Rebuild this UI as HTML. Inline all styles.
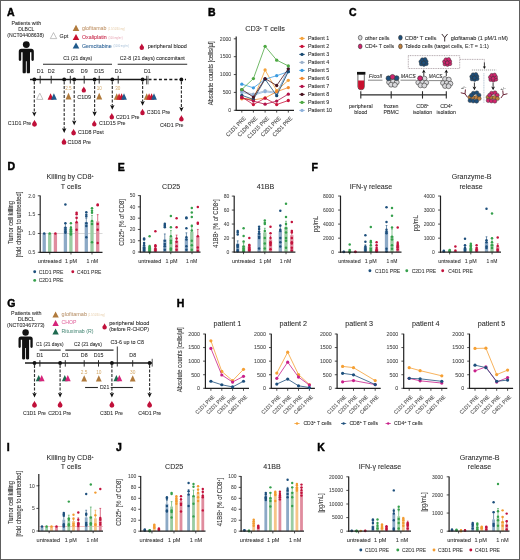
<!DOCTYPE html>
<html><head><meta charset="utf-8"><title>Figure</title>
<style>
html,body{margin:0;padding:0;background:#fff;}
body{width:520px;height:560px;overflow:hidden;}
svg{display:block;font-family:"Liberation Sans", sans-serif;will-change:transform;}
</style></head><body>
<svg width="520" height="560" viewBox="0 0 520 560">
<rect x="0" y="0" width="520" height="560" fill="#fff"/>
<text x="7.00" y="15.60" text-anchor="start" fill="#000" stroke="#000" stroke-width="0.45" style="font-size:10.50px;font-weight:bold;">A</text>
<text x="11.40" y="24.50" fill="#2b2b2b" stroke="#2b2b2b" stroke-width="0.08" style="font-size:5.76px;" textLength="29.70" lengthAdjust="spacingAndGlyphs">Patients with</text>
<text x="18.20" y="30.80" fill="#2b2b2b" stroke="#2b2b2b" stroke-width="0.08" style="font-size:5.49px;" textLength="16.10" lengthAdjust="spacingAndGlyphs">DLBCL</text>
<text x="7.30" y="37.10" fill="#2b2b2b" stroke="#2b2b2b" stroke-width="0.08" style="font-size:5.63px;" textLength="36.70" lengthAdjust="spacingAndGlyphs">(NCT04408638)</text>
<g transform="translate(26.30,44.60) scale(1.06)" fill="#111"><circle cx="0" cy="0" r="3.25"/><path d="M-7.1,6.4 Q-7.1,3.9 -4.6,3.9 L4.6,3.9 Q7.1,3.9 7.1,6.4 L7.1,14.3 Q7.1,15.4 5.95,15.4 Q4.8,15.4 4.8,14.3 L4.8,7.2 L3.5,7.2 L3.5,26.0 Q3.5,27.1 1.95,27.1 Q0.4,27.1 0.4,26.0 L0.4,15.6 L-0.4,15.6 L-0.4,26.0 Q-0.4,27.1 -1.95,27.1 Q-3.5,27.1 -3.5,26.0 L-3.5,7.2 L-4.8,7.2 L-4.8,14.3 Q-4.8,15.4 -5.95,15.4 Q-7.1,15.4 -7.1,14.3 Z"/></g>
<path d="M50.30,38.60 L53.50,32.60 L56.70,38.60 Z" fill="#fff" stroke="#999" stroke-width="0.6" stroke-linejoin="round"/>
<text x="59.60" y="37.50" text-anchor="start" fill="#2b2b2b" stroke="#2b2b2b" stroke-width="0.08" style="font-size:5.94px;" textLength="8.70" lengthAdjust="spacingAndGlyphs">Gpt</text>
<path d="M72.70,31.00 L76.00,24.80 L79.30,31.00 Z" fill="#b07a3c" stroke-linejoin="round"/>
<text x="82.00" y="29.90" text-anchor="start" fill="#c09468" stroke="#c09468" stroke-width="0.05" style="font-size:5.83px;" textLength="24.45" lengthAdjust="spacingAndGlyphs">glofitamab</text>
<text x="108.00" y="29.50" text-anchor="start" fill="#e6cca8" style="font-size:2.86px;" textLength="16.91" lengthAdjust="spacingAndGlyphs">(2.5/10/30 mg)</text>
<path d="M72.70,40.10 L76.00,33.90 L79.30,40.10 Z" fill="#c8102e" stroke-linejoin="round"/>
<text x="82.00" y="39.10" text-anchor="start" fill="#c8284a" stroke="#c8284a" stroke-width="0.07" style="font-size:5.83px;" textLength="24.75" lengthAdjust="spacingAndGlyphs">Oxaliplatin</text>
<text x="108.50" y="38.70" text-anchor="start" fill="#e6a0b0" style="font-size:2.86px;" textLength="14.16" lengthAdjust="spacingAndGlyphs">(100 mg/m²)</text>
<path d="M72.70,48.60 L76.00,42.40 L79.30,48.60 Z" fill="#1f5a8c" stroke-linejoin="round"/>
<text x="82.00" y="47.60" text-anchor="start" fill="#2c6296" stroke="#2c6296" stroke-width="0.07" style="font-size:5.83px;" textLength="29.75" lengthAdjust="spacingAndGlyphs">Gemcitabine</text>
<text x="113.50" y="47.20" text-anchor="start" fill="#a8c0d8" style="font-size:2.86px;" textLength="15.60" lengthAdjust="spacingAndGlyphs">(1000 mg/m²)</text>
<path d="M141.80,43.60 C142.20,45.20 144.04,46.29 144.04,47.76 A2.24,2.24 0 0 1 139.56,47.76 C139.56,46.29 141.40,45.20 141.80,43.60 Z" fill="#c0103a"/>
<text x="147.70" y="48.00" fill="#2b2b2b" stroke="#2b2b2b" stroke-width="0.08" style="font-size:6.00px;" textLength="39.10" lengthAdjust="spacingAndGlyphs">peripheral blood</text>
<text x="63.20" y="60.40" fill="#2b2b2b" stroke="#2b2b2b" stroke-width="0.08" style="font-size:5.57px;" textLength="29.00" lengthAdjust="spacingAndGlyphs">C1 (21 days)</text>
<line x1="43.00" y1="64.30" x2="112.00" y2="64.30" stroke="#2a2a2a" stroke-width="1.05" stroke-linecap="butt"/>
<text x="119.80" y="60.40" fill="#2b2b2b" stroke="#2b2b2b" stroke-width="0.08" style="font-size:5.82px;" textLength="65.00" lengthAdjust="spacingAndGlyphs">C2-8 (21 days) concomitant</text>
<line x1="117.70" y1="64.30" x2="187.20" y2="64.30" stroke="#2a2a2a" stroke-width="1.05" stroke-linecap="butt"/>
<text x="40.20" y="72.50" text-anchor="middle" fill="#333" stroke="#333" stroke-width="0.1" style="font-size:5.83px;" textLength="6.78" lengthAdjust="spacingAndGlyphs">D1</text>
<text x="51.20" y="72.50" text-anchor="middle" fill="#333" stroke="#333" stroke-width="0.1" style="font-size:5.83px;" textLength="6.78" lengthAdjust="spacingAndGlyphs">D2</text>
<text x="70.30" y="72.50" text-anchor="middle" fill="#333" stroke="#333" stroke-width="0.1" style="font-size:5.83px;" textLength="6.78" lengthAdjust="spacingAndGlyphs">D8</text>
<text x="84.20" y="72.50" text-anchor="middle" fill="#333" stroke="#333" stroke-width="0.1" style="font-size:5.83px;" textLength="6.78" lengthAdjust="spacingAndGlyphs">D9</text>
<text x="99.20" y="72.50" text-anchor="middle" fill="#333" stroke="#333" stroke-width="0.1" style="font-size:5.83px;" textLength="9.72" lengthAdjust="spacingAndGlyphs">D15</text>
<text x="118.20" y="72.50" text-anchor="middle" fill="#333" stroke="#333" stroke-width="0.1" style="font-size:5.83px;" textLength="6.78" lengthAdjust="spacingAndGlyphs">D1</text>
<text x="147.40" y="72.50" text-anchor="middle" fill="#333" stroke="#333" stroke-width="0.1" style="font-size:5.83px;" textLength="6.78" lengthAdjust="spacingAndGlyphs">D1</text>
<line x1="30.00" y1="79.50" x2="147.50" y2="79.50" stroke="#1a1a1a" stroke-width="1.3" stroke-linecap="butt"/>
<line x1="148.50" y1="79.50" x2="186.00" y2="79.50" stroke="#1a1a1a" stroke-width="1.3" stroke-dasharray="3,2.2" stroke-linecap="butt"/>
<line x1="40.20" y1="75.80" x2="40.20" y2="83.60" stroke="#222" stroke-width="0.95" stroke-linecap="butt"/>
<line x1="51.20" y1="75.80" x2="51.20" y2="83.60" stroke="#222" stroke-width="0.95" stroke-linecap="butt"/>
<line x1="70.30" y1="75.80" x2="70.30" y2="83.60" stroke="#222" stroke-width="0.95" stroke-linecap="butt"/>
<line x1="84.20" y1="75.80" x2="84.20" y2="83.60" stroke="#222" stroke-width="0.95" stroke-linecap="butt"/>
<line x1="99.20" y1="75.80" x2="99.20" y2="83.60" stroke="#222" stroke-width="0.95" stroke-linecap="butt"/>
<line x1="118.20" y1="75.80" x2="118.20" y2="83.60" stroke="#222" stroke-width="0.95" stroke-linecap="butt"/>
<line x1="146.50" y1="75.80" x2="146.50" y2="84.40" stroke="#222" stroke-width="0.7" stroke-linecap="butt"/>
<line x1="148.00" y1="75.80" x2="148.00" y2="84.40" stroke="#222" stroke-width="0.7" stroke-linecap="butt"/>
<circle cx="34.30" cy="79.50" r="1.9" fill="#111"/>
<circle cx="64.20" cy="79.50" r="1.9" fill="#111"/>
<circle cx="74.20" cy="79.50" r="1.9" fill="#111"/>
<circle cx="94.60" cy="79.50" r="1.9" fill="#111"/>
<circle cx="112.30" cy="79.50" r="1.9" fill="#111"/>
<circle cx="142.60" cy="79.50" r="1.9" fill="#111"/>
<circle cx="181.40" cy="79.50" r="1.9" fill="#111"/>
<path d="M36.70,99.40 L39.80,93.20 L42.90,99.40 Z" fill="#fff" stroke="#9a9a9a" stroke-width="0.6" stroke-linejoin="round"/>
<path d="M47.60,99.70 L50.60,93.30 L53.60,99.70 Z" fill="#c8102e" stroke-linejoin="round"/>
<path d="M50.90,99.70 L53.90,93.30 L56.90,99.70 Z" fill="#1f5a8c" stroke-linejoin="round"/>
<text x="68.50" y="90.20" text-anchor="middle" fill="#d4a868" style="font-size:5.06px;" textLength="6.39" lengthAdjust="spacingAndGlyphs">2.5</text>
<path d="M65.50,99.40 L68.50,92.80 L71.50,99.40 Z" fill="#b07a3c" stroke-linejoin="round"/>
<text x="99.20" y="90.20" text-anchor="middle" fill="#d4a868" style="font-size:5.06px;" textLength="5.12" lengthAdjust="spacingAndGlyphs">10</text>
<path d="M96.20,99.40 L99.20,92.80 L102.20,99.40 Z" fill="#b07a3c" stroke-linejoin="round"/>
<text x="117.70" y="90.20" text-anchor="middle" fill="#d4a868" style="font-size:5.06px;" textLength="5.12" lengthAdjust="spacingAndGlyphs">30</text>
<path d="M113.80,99.70 L116.70,93.30 L119.60,99.70 Z" fill="#b07a3c" stroke-linejoin="round"/>
<path d="M116.20,99.70 L119.10,93.30 L122.00,99.70 Z" fill="#d2282e" stroke-linejoin="round"/>
<path d="M118.70,99.70 L121.60,93.30 L124.50,99.70 Z" fill="#c8102e" stroke-linejoin="round"/>
<path d="M121.10,99.70 L124.00,93.30 L126.90,99.70 Z" fill="#1f5a8c" stroke-linejoin="round"/>
<path d="M143.80,99.70 L146.70,93.30 L149.60,99.70 Z" fill="#b07a3c" stroke-linejoin="round"/>
<path d="M146.20,99.70 L149.10,93.30 L152.00,99.70 Z" fill="#d2282e" stroke-linejoin="round"/>
<path d="M148.70,99.70 L151.60,93.30 L154.50,99.70 Z" fill="#c8102e" stroke-linejoin="round"/>
<path d="M151.10,99.70 L154.00,93.30 L156.90,99.70 Z" fill="#1f5a8c" stroke-linejoin="round"/>
<path d="M83.80,86.40 C84.20,87.95 85.97,89.00 85.97,90.43 A2.17,2.17 0 0 1 81.63,90.43 C81.63,89.00 83.40,87.95 83.80,86.40 Z" fill="#c0103a"/>
<text x="84.20" y="98.80" text-anchor="middle" fill="#2b2b2b" stroke="#2b2b2b" stroke-width="0.08" style="font-size:5.94px;" textLength="13.81" lengthAdjust="spacingAndGlyphs">C1D9</text>
<line x1="34.30" y1="81.50" x2="34.30" y2="112.60" stroke="#333" stroke-width="1.15" stroke-dasharray="2.9,1.6" stroke-linecap="butt"/>
<path d="M32.10,111.80 L34.30,112.70 L36.50,111.80 L34.30,116.60 Z" fill="#111"/>
<path d="M34.50,119.80 C34.90,121.55 36.95,122.74 36.95,124.35 A2.45,2.45 0 0 1 32.05,124.35 C32.05,122.74 34.10,121.55 34.50,119.80 Z" fill="#c0103a"/>
<text x="7.80" y="125.00" text-anchor="start" fill="#2b2b2b" stroke="#2b2b2b" stroke-width="0.08" style="font-size:5.88px;" textLength="23.49" lengthAdjust="spacingAndGlyphs">C1D1 Pre</text>
<line x1="64.20" y1="81.50" x2="64.20" y2="129.00" stroke="#333" stroke-width="1.15" stroke-dasharray="2.9,1.6" stroke-linecap="butt"/>
<path d="M62.00,128.20 L64.20,129.10 L66.40,128.20 L64.20,133.00 Z" fill="#111"/>
<path d="M64.00,138.00 C64.40,139.70 66.38,140.86 66.38,142.42 A2.38,2.38 0 0 1 61.62,142.42 C61.62,140.86 63.60,139.70 64.00,138.00 Z" fill="#c0103a"/>
<text x="67.50" y="143.80" text-anchor="start" fill="#2b2b2b" stroke="#2b2b2b" stroke-width="0.08" style="font-size:5.88px;" textLength="23.49" lengthAdjust="spacingAndGlyphs">C1D8 Pre</text>
<line x1="74.20" y1="81.50" x2="74.20" y2="121.30" stroke="#333" stroke-width="1.15" stroke-dasharray="2.9,1.6" stroke-linecap="butt"/>
<path d="M72.00,120.50 L74.20,121.40 L76.40,120.50 L74.20,125.30 Z" fill="#111"/>
<path d="M73.60,128.70 C74.00,130.40 75.98,131.56 75.98,133.12 A2.38,2.38 0 0 1 71.22,133.12 C71.22,131.56 73.20,130.40 73.60,128.70 Z" fill="#c0103a"/>
<text x="77.90" y="134.40" text-anchor="start" fill="#2b2b2b" stroke="#2b2b2b" stroke-width="0.08" style="font-size:5.88px;" textLength="25.87" lengthAdjust="spacingAndGlyphs">C1D8 Post</text>
<line x1="94.60" y1="81.50" x2="94.60" y2="112.20" stroke="#333" stroke-width="1.15" stroke-dasharray="2.9,1.6" stroke-linecap="butt"/>
<path d="M92.40,111.40 L94.60,112.30 L96.80,111.40 L94.60,116.20 Z" fill="#111"/>
<path d="M94.30,120.20 C94.70,121.80 96.54,122.89 96.54,124.36 A2.24,2.24 0 0 1 92.06,124.36 C92.06,122.89 93.90,121.80 94.30,120.20 Z" fill="#c0103a"/>
<text x="99.10" y="125.40" text-anchor="start" fill="#2b2b2b" stroke="#2b2b2b" stroke-width="0.08" style="font-size:5.88px;" textLength="26.47" lengthAdjust="spacingAndGlyphs">C1D15 Pre</text>
<line x1="112.30" y1="81.50" x2="112.30" y2="105.80" stroke="#333" stroke-width="1.15" stroke-dasharray="2.9,1.6" stroke-linecap="butt"/>
<path d="M110.10,105.00 L112.30,105.90 L114.50,105.00 L112.30,109.80 Z" fill="#111"/>
<path d="M111.80,113.00 C112.20,114.60 114.04,115.69 114.04,117.16 A2.24,2.24 0 0 1 109.56,117.16 C109.56,115.69 111.40,114.60 111.80,113.00 Z" fill="#c0103a"/>
<text x="116.00" y="118.60" text-anchor="start" fill="#2b2b2b" stroke="#2b2b2b" stroke-width="0.08" style="font-size:5.88px;" textLength="23.49" lengthAdjust="spacingAndGlyphs">C2D1 Pre</text>
<line x1="142.60" y1="81.50" x2="142.60" y2="101.80" stroke="#333" stroke-width="1.15" stroke-dasharray="2.9,1.6" stroke-linecap="butt"/>
<path d="M140.40,101.00 L142.60,101.90 L144.80,101.00 L142.60,105.80 Z" fill="#111"/>
<path d="M142.50,108.80 C142.90,110.40 144.74,111.49 144.74,112.96 A2.24,2.24 0 0 1 140.26,112.96 C140.26,111.49 142.10,110.40 142.50,108.80 Z" fill="#c0103a"/>
<text x="146.80" y="114.10" text-anchor="start" fill="#2b2b2b" stroke="#2b2b2b" stroke-width="0.08" style="font-size:5.88px;" textLength="23.49" lengthAdjust="spacingAndGlyphs">C3D1 Pre</text>
<line x1="181.40" y1="81.50" x2="181.40" y2="107.80" stroke="#333" stroke-width="1.15" stroke-dasharray="2.9,1.6" stroke-linecap="butt"/>
<path d="M179.20,107.00 L181.40,107.90 L183.60,107.00 L181.40,111.80 Z" fill="#111"/>
<path d="M181.40,115.00 C181.80,116.65 183.71,117.77 183.71,119.29 A2.31,2.31 0 0 1 179.09,119.29 C179.09,117.77 181.00,116.65 181.40,115.00 Z" fill="#c0103a"/>
<text x="160.00" y="126.90" text-anchor="start" fill="#2b2b2b" stroke="#2b2b2b" stroke-width="0.08" style="font-size:5.88px;" textLength="23.49" lengthAdjust="spacingAndGlyphs">C4D1 Pre</text>
<text x="207.90" y="16.40" text-anchor="start" fill="#000" stroke="#000" stroke-width="0.45" style="font-size:10.50px;font-weight:bold;">B</text>
<text x="265.00" y="30.60" text-anchor="middle" fill="#2b2b2b" stroke="#2b2b2b" stroke-width="0.08" style="font-size:8.03px;" textLength="39.68" lengthAdjust="spacingAndGlyphs">CD3<tspan dy="-2.0" style="font-size:3.8px">+</tspan><tspan dy="2.0">​</tspan> T cells</text>
<line x1="236.20" y1="36.50" x2="236.20" y2="110.90" stroke="#222" stroke-width="1.2" stroke-linecap="butt"/>
<line x1="235.60" y1="110.30" x2="294.00" y2="110.30" stroke="#222" stroke-width="1.25" stroke-linecap="butt"/>
<line x1="233.80" y1="110.30" x2="236.00" y2="110.30" stroke="#222" stroke-width="0.8" stroke-linecap="butt"/>
<text x="231.20" y="112.10" text-anchor="end" fill="#4a4a4a" stroke="#4a4a4a" stroke-width="0.08" style="font-size:5.61px;" textLength="2.84" lengthAdjust="spacingAndGlyphs">0</text>
<line x1="233.80" y1="92.42" x2="236.00" y2="92.42" stroke="#222" stroke-width="0.8" stroke-linecap="butt"/>
<text x="231.20" y="94.22" text-anchor="end" fill="#4a4a4a" stroke="#4a4a4a" stroke-width="0.08" style="font-size:5.61px;" textLength="8.51" lengthAdjust="spacingAndGlyphs">500</text>
<line x1="233.80" y1="74.55" x2="236.00" y2="74.55" stroke="#222" stroke-width="0.8" stroke-linecap="butt"/>
<text x="231.20" y="76.35" text-anchor="end" fill="#4a4a4a" stroke="#4a4a4a" stroke-width="0.08" style="font-size:5.61px;" textLength="11.35" lengthAdjust="spacingAndGlyphs">1000</text>
<line x1="233.80" y1="56.68" x2="236.00" y2="56.68" stroke="#222" stroke-width="0.8" stroke-linecap="butt"/>
<text x="231.20" y="58.48" text-anchor="end" fill="#4a4a4a" stroke="#4a4a4a" stroke-width="0.08" style="font-size:5.61px;" textLength="11.35" lengthAdjust="spacingAndGlyphs">1500</text>
<line x1="233.80" y1="38.80" x2="236.00" y2="38.80" stroke="#222" stroke-width="0.8" stroke-linecap="butt"/>
<text x="231.20" y="40.60" text-anchor="end" fill="#4a4a4a" stroke="#4a4a4a" stroke-width="0.08" style="font-size:5.61px;" textLength="11.35" lengthAdjust="spacingAndGlyphs">2000</text>
<line x1="241.80" y1="110.30" x2="241.80" y2="112.60" stroke="#222" stroke-width="0.8" stroke-linecap="butt"/>
<line x1="253.40" y1="110.30" x2="253.40" y2="112.60" stroke="#222" stroke-width="0.8" stroke-linecap="butt"/>
<line x1="265.10" y1="110.30" x2="265.10" y2="112.60" stroke="#222" stroke-width="0.8" stroke-linecap="butt"/>
<line x1="276.70" y1="110.30" x2="276.70" y2="112.60" stroke="#222" stroke-width="0.8" stroke-linecap="butt"/>
<line x1="288.30" y1="110.30" x2="288.30" y2="112.60" stroke="#222" stroke-width="0.8" stroke-linecap="butt"/>
<text x="246.20" y="118.90" text-anchor="end" fill="#505050" stroke="#505050" stroke-width="0.1" style="font-size:5.72px;" transform="rotate(-45 246.20 118.90)" textLength="25.43" lengthAdjust="spacingAndGlyphs">C1D1 PRE</text>
<text x="257.80" y="118.90" text-anchor="end" fill="#505050" stroke="#505050" stroke-width="0.1" style="font-size:5.72px;" transform="rotate(-45 257.80 118.90)" textLength="25.43" lengthAdjust="spacingAndGlyphs">C1D8 PRE</text>
<text x="269.50" y="118.90" text-anchor="end" fill="#505050" stroke="#505050" stroke-width="0.1" style="font-size:5.72px;" transform="rotate(-45 269.50 118.90)" textLength="28.32" lengthAdjust="spacingAndGlyphs">C1D15 PRE</text>
<text x="281.10" y="118.90" text-anchor="end" fill="#505050" stroke="#505050" stroke-width="0.1" style="font-size:5.72px;" transform="rotate(-45 281.10 118.90)" textLength="25.43" lengthAdjust="spacingAndGlyphs">C2D1 PRE</text>
<text x="292.70" y="118.90" text-anchor="end" fill="#505050" stroke="#505050" stroke-width="0.1" style="font-size:5.72px;" transform="rotate(-45 292.70 118.90)" textLength="25.43" lengthAdjust="spacingAndGlyphs">C3D1 PRE</text>
<text x="212.80" y="73.30" text-anchor="middle" fill="#333" stroke="#333" stroke-width="0.08" style="font-size:6.38px;" transform="rotate(-90 212.80 73.30)" textLength="63.95" lengthAdjust="spacingAndGlyphs">Absolute counts [cells/µl]</text>
<polyline points="241.80,91.28 253.40,94.14 265.10,90.71 276.70,92.42 288.30,71.08" fill="none" stroke="#9db2cc" stroke-width="0.8"/>
<circle cx="241.80" cy="91.28" r="1.65" fill="#9db2cc"/>
<circle cx="253.40" cy="94.14" r="1.65" fill="#9db2cc"/>
<circle cx="265.10" cy="90.71" r="1.65" fill="#9db2cc"/>
<circle cx="276.70" cy="92.42" r="1.65" fill="#9db2cc"/>
<circle cx="288.30" cy="71.08" r="1.65" fill="#9db2cc"/>
<polyline points="241.80,92.42 253.40,95.28 265.10,91.71 276.70,93.50 288.30,68.83" fill="none" stroke="#8fb2dc" stroke-width="0.8"/>
<circle cx="241.80" cy="92.42" r="1.65" fill="#8fb2dc"/>
<circle cx="253.40" cy="95.28" r="1.65" fill="#8fb2dc"/>
<circle cx="265.10" cy="91.71" r="1.65" fill="#8fb2dc"/>
<circle cx="276.70" cy="93.50" r="1.65" fill="#8fb2dc"/>
<circle cx="288.30" cy="68.83" r="1.65" fill="#8fb2dc"/>
<polyline points="241.80,98.18 253.40,99.22 265.10,69.94 276.70,90.71 288.30,80.31" fill="none" stroke="#f5a23a" stroke-width="0.8"/>
<circle cx="241.80" cy="98.18" r="1.65" fill="#f5a23a"/>
<circle cx="253.40" cy="99.22" r="1.65" fill="#f5a23a"/>
<circle cx="265.10" cy="69.94" r="1.65" fill="#f5a23a"/>
<circle cx="276.70" cy="90.71" r="1.65" fill="#f5a23a"/>
<circle cx="288.30" cy="80.31" r="1.65" fill="#f5a23a"/>
<polyline points="241.80,98.75 253.40,99.93 265.10,97.97 276.70,91.71 288.30,87.56" fill="none" stroke="#f28a2e" stroke-width="0.8"/>
<circle cx="241.80" cy="98.75" r="1.65" fill="#f28a2e"/>
<circle cx="253.40" cy="99.93" r="1.65" fill="#f28a2e"/>
<circle cx="265.10" cy="97.97" r="1.65" fill="#f28a2e"/>
<circle cx="276.70" cy="91.71" r="1.65" fill="#f28a2e"/>
<circle cx="288.30" cy="87.56" r="1.65" fill="#f28a2e"/>
<polyline points="241.80,84.13 253.40,87.81 265.10,79.16 276.70,75.69 288.30,71.65" fill="none" stroke="#3b9be0" stroke-width="0.8"/>
<circle cx="241.80" cy="84.13" r="1.65" fill="#3b9be0"/>
<circle cx="253.40" cy="87.81" r="1.65" fill="#3b9be0"/>
<circle cx="265.10" cy="79.16" r="1.65" fill="#3b9be0"/>
<circle cx="276.70" cy="75.69" r="1.65" fill="#3b9be0"/>
<circle cx="288.30" cy="71.65" r="1.65" fill="#3b9be0"/>
<polyline points="241.80,95.32 253.40,99.36 265.10,79.20 276.70,95.64 288.30,71.65" fill="none" stroke="#1a4b72" stroke-width="0.8"/>
<circle cx="241.80" cy="95.32" r="1.65" fill="#1a4b72"/>
<circle cx="253.40" cy="99.36" r="1.65" fill="#1a4b72"/>
<circle cx="265.10" cy="79.20" r="1.65" fill="#1a4b72"/>
<circle cx="276.70" cy="95.64" r="1.65" fill="#1a4b72"/>
<circle cx="288.30" cy="71.65" r="1.65" fill="#1a4b72"/>
<polyline points="241.80,89.53 253.40,97.04 265.10,78.59 276.70,85.49 288.30,68.79" fill="none" stroke="#4a1420" stroke-width="0.8"/>
<circle cx="241.80" cy="89.53" r="1.65" fill="#4a1420"/>
<circle cx="253.40" cy="97.04" r="1.65" fill="#4a1420"/>
<circle cx="265.10" cy="78.59" r="1.65" fill="#4a1420"/>
<circle cx="276.70" cy="85.49" r="1.65" fill="#4a1420"/>
<circle cx="288.30" cy="68.79" r="1.65" fill="#4a1420"/>
<polyline points="241.80,97.04 253.40,104.54 265.10,98.18 276.70,104.54 288.30,100.50" fill="none" stroke="#c8123a" stroke-width="0.8"/>
<circle cx="241.80" cy="97.04" r="1.65" fill="#c8123a"/>
<circle cx="253.40" cy="104.54" r="1.65" fill="#c8123a"/>
<circle cx="265.10" cy="98.18" r="1.65" fill="#c8123a"/>
<circle cx="276.70" cy="104.54" r="1.65" fill="#c8123a"/>
<circle cx="288.30" cy="100.50" r="1.65" fill="#c8123a"/>
<polyline points="241.80,97.72 253.40,101.08 265.10,104.19 276.70,101.08 288.30,94.14" fill="none" stroke="#b3124a" stroke-width="0.8"/>
<circle cx="241.80" cy="97.72" r="1.65" fill="#b3124a"/>
<circle cx="253.40" cy="101.08" r="1.65" fill="#b3124a"/>
<circle cx="265.10" cy="104.19" r="1.65" fill="#b3124a"/>
<circle cx="276.70" cy="101.08" r="1.65" fill="#b3124a"/>
<circle cx="288.30" cy="94.14" r="1.65" fill="#b3124a"/>
<polyline points="241.80,89.53 253.40,78.59 265.10,46.31 276.70,60.14 288.30,65.90" fill="none" stroke="#4ea843" stroke-width="0.8"/>
<circle cx="241.80" cy="89.53" r="1.65" fill="#4ea843"/>
<circle cx="253.40" cy="78.59" r="1.65" fill="#4ea843"/>
<circle cx="265.10" cy="46.31" r="1.65" fill="#4ea843"/>
<circle cx="276.70" cy="60.14" r="1.65" fill="#4ea843"/>
<circle cx="288.30" cy="65.90" r="1.65" fill="#4ea843"/>
<line x1="299.30" y1="38.40" x2="304.70" y2="38.40" stroke="#f5a23a" stroke-width="1.0" stroke-linecap="butt"/>
<circle cx="302.00" cy="38.40" r="1.6" fill="#f5a23a"/>
<text x="308.00" y="40.30" text-anchor="start" fill="#2b2b2b" stroke="#2b2b2b" stroke-width="0.08" style="font-size:5.88px;" textLength="21.12" lengthAdjust="spacingAndGlyphs">Patient 1</text>
<line x1="299.30" y1="46.40" x2="304.70" y2="46.40" stroke="#c8123a" stroke-width="1.0" stroke-linecap="butt"/>
<circle cx="302.00" cy="46.40" r="1.6" fill="#c8123a"/>
<text x="308.00" y="48.30" text-anchor="start" fill="#2b2b2b" stroke="#2b2b2b" stroke-width="0.08" style="font-size:5.88px;" textLength="21.12" lengthAdjust="spacingAndGlyphs">Patient 2</text>
<line x1="299.30" y1="54.40" x2="304.70" y2="54.40" stroke="#1a4b72" stroke-width="1.0" stroke-linecap="butt"/>
<circle cx="302.00" cy="54.40" r="1.6" fill="#1a4b72"/>
<text x="308.00" y="56.30" text-anchor="start" fill="#2b2b2b" stroke="#2b2b2b" stroke-width="0.08" style="font-size:5.88px;" textLength="21.12" lengthAdjust="spacingAndGlyphs">Patient 3</text>
<line x1="299.30" y1="62.40" x2="304.70" y2="62.40" stroke="#9db2cc" stroke-width="1.0" stroke-linecap="butt"/>
<circle cx="302.00" cy="62.40" r="1.6" fill="#9db2cc"/>
<text x="308.00" y="64.30" text-anchor="start" fill="#2b2b2b" stroke="#2b2b2b" stroke-width="0.08" style="font-size:5.88px;" textLength="21.12" lengthAdjust="spacingAndGlyphs">Patient 4</text>
<line x1="299.30" y1="70.40" x2="304.70" y2="70.40" stroke="#3b9be0" stroke-width="1.0" stroke-linecap="butt"/>
<circle cx="302.00" cy="70.40" r="1.6" fill="#3b9be0"/>
<text x="308.00" y="72.30" text-anchor="start" fill="#2b2b2b" stroke="#2b2b2b" stroke-width="0.08" style="font-size:5.88px;" textLength="21.12" lengthAdjust="spacingAndGlyphs">Patient 5</text>
<line x1="299.30" y1="78.40" x2="304.70" y2="78.40" stroke="#f28a2e" stroke-width="1.0" stroke-linecap="butt"/>
<circle cx="302.00" cy="78.40" r="1.6" fill="#f28a2e"/>
<text x="308.00" y="80.30" text-anchor="start" fill="#2b2b2b" stroke="#2b2b2b" stroke-width="0.08" style="font-size:5.88px;" textLength="21.12" lengthAdjust="spacingAndGlyphs">Patient 6</text>
<line x1="299.30" y1="86.40" x2="304.70" y2="86.40" stroke="#b3124a" stroke-width="1.0" stroke-linecap="butt"/>
<circle cx="302.00" cy="86.40" r="1.6" fill="#b3124a"/>
<text x="308.00" y="88.30" text-anchor="start" fill="#2b2b2b" stroke="#2b2b2b" stroke-width="0.08" style="font-size:5.88px;" textLength="21.12" lengthAdjust="spacingAndGlyphs">Patient 7</text>
<line x1="299.30" y1="94.40" x2="304.70" y2="94.40" stroke="#4a1420" stroke-width="1.0" stroke-linecap="butt"/>
<circle cx="302.00" cy="94.40" r="1.6" fill="#4a1420"/>
<text x="308.00" y="96.30" text-anchor="start" fill="#2b2b2b" stroke="#2b2b2b" stroke-width="0.08" style="font-size:5.88px;" textLength="21.12" lengthAdjust="spacingAndGlyphs">Patient 8</text>
<line x1="299.30" y1="102.40" x2="304.70" y2="102.40" stroke="#4ea843" stroke-width="1.0" stroke-linecap="butt"/>
<circle cx="302.00" cy="102.40" r="1.6" fill="#4ea843"/>
<text x="308.00" y="104.30" text-anchor="start" fill="#2b2b2b" stroke="#2b2b2b" stroke-width="0.08" style="font-size:5.88px;" textLength="21.12" lengthAdjust="spacingAndGlyphs">Patient 9</text>
<line x1="299.30" y1="110.40" x2="304.70" y2="110.40" stroke="#8fb2dc" stroke-width="1.0" stroke-linecap="butt"/>
<circle cx="302.00" cy="110.40" r="1.6" fill="#8fb2dc"/>
<text x="308.00" y="112.30" text-anchor="start" fill="#2b2b2b" stroke="#2b2b2b" stroke-width="0.08" style="font-size:5.88px;" textLength="24.09" lengthAdjust="spacingAndGlyphs">Patient 10</text>
<text x="349.00" y="16.40" text-anchor="start" fill="#000" stroke="#000" stroke-width="0.45" style="font-size:10.50px;font-weight:bold;">C</text>
<ellipse cx="360.2" cy="37.7" rx="1.85" ry="2.35" fill="#d9d9dc" stroke="#333" stroke-width="0.6"/>
<text x="364.90" y="39.60" fill="#2b2b2b" stroke="#2b2b2b" stroke-width="0.08" style="font-size:5.96px;" textLength="24.70" lengthAdjust="spacingAndGlyphs">other cells</text>
<ellipse cx="400.4" cy="37.7" rx="1.85" ry="2.35" fill="#1d4f7c" stroke="#333" stroke-width="0.6"/>
<text x="404.70" y="39.60" fill="#2b2b2b" stroke="#2b2b2b" stroke-width="0.08" style="font-size:5.83px;" textLength="31.80" lengthAdjust="spacingAndGlyphs">CD8<tspan dy="-1.6" style="font-size:3px">+</tspan><tspan dy="1.6"> T cells</tspan></text>
<ellipse cx="360.2" cy="46.4" rx="1.85" ry="2.35" fill="#d2246e" stroke="#333" stroke-width="0.6"/>
<text x="364.90" y="48.30" fill="#2b2b2b" stroke="#2b2b2b" stroke-width="0.08" style="font-size:5.83px;" textLength="29.40" lengthAdjust="spacingAndGlyphs">CD4<tspan dy="-1.6" style="font-size:3px">+</tspan><tspan dy="1.6"> T cells</tspan></text>
<ellipse cx="400.4" cy="46.4" rx="1.85" ry="2.35" fill="#c0803e" stroke="#333" stroke-width="0.6"/>
<text x="404.70" y="48.30" fill="#2b2b2b" stroke="#2b2b2b" stroke-width="0.08" style="font-size:5.92px;" textLength="84.10" lengthAdjust="spacingAndGlyphs">Toledo cells (target cells, E:T = 1:1)</text>
<g transform="translate(444.70,37.60) scale(1.1)" stroke="#3a2a2e" stroke-width="0.9" fill="none" stroke-linecap="round"><path d="M-2.4,-3 L0,0 L2.4,-3 M0,0 L0,3.2"/></g>
<text x="450.80" y="39.90" fill="#2b2b2b" stroke="#2b2b2b" stroke-width="0.08" style="font-size:6.11px;" textLength="57.10" lengthAdjust="spacingAndGlyphs">glofitamab (1 pM/1 nM)</text>
<path d="M357.9,74.6 L357.9,86.8 Q357.9,89.8 361.1,89.8 Q364.3,89.8 364.3,86.8 L364.3,74.6" fill="#fff" stroke="#222" stroke-width="0.7"/>
<path d="M358.1,80.4 L358.1,86.8 Q358.1,89.6 361.1,89.6 Q364.1,89.6 364.1,86.8 L364.1,80.4 Z" fill="#c8102e"/>
<rect x="357.00" y="71.90" width="8.40" height="2.80" fill="#111"/>
<line x1="360.80" y1="94.80" x2="446.30" y2="94.80" stroke="#2a2a2a" stroke-width="1.2" stroke-linecap="butt"/>
<line x1="360.80" y1="91.20" x2="360.80" y2="98.60" stroke="#2a2a2a" stroke-width="1.1" stroke-linecap="butt"/>
<line x1="391.20" y1="91.20" x2="391.20" y2="98.60" stroke="#2a2a2a" stroke-width="1.1" stroke-linecap="butt"/>
<line x1="422.50" y1="91.20" x2="422.50" y2="98.60" stroke="#2a2a2a" stroke-width="1.1" stroke-linecap="butt"/>
<line x1="446.30" y1="91.20" x2="446.30" y2="98.60" stroke="#2a2a2a" stroke-width="1.1" stroke-linecap="butt"/>
<text x="360.80" y="107.60" text-anchor="middle" fill="#2b2b2b" stroke="#2b2b2b" stroke-width="0.08" style="font-size:5.83px;" textLength="23.57" lengthAdjust="spacingAndGlyphs">peripheral</text>
<text x="360.80" y="113.90" text-anchor="middle" fill="#2b2b2b" stroke="#2b2b2b" stroke-width="0.08" style="font-size:5.83px;" textLength="12.97" lengthAdjust="spacingAndGlyphs">blood</text>
<text x="391.20" y="107.60" text-anchor="middle" fill="#2b2b2b" stroke="#2b2b2b" stroke-width="0.08" style="font-size:5.83px;" textLength="14.73" lengthAdjust="spacingAndGlyphs">frozen</text>
<text x="391.20" y="113.90" text-anchor="middle" fill="#2b2b2b" stroke="#2b2b2b" stroke-width="0.08" style="font-size:5.83px;" textLength="15.31" lengthAdjust="spacingAndGlyphs">PBMC</text>
<text x="422.50" y="107.60" text-anchor="middle" fill="#2b2b2b" stroke="#2b2b2b" stroke-width="0.08" style="font-size:5.83px;" textLength="12.35" lengthAdjust="spacingAndGlyphs">CD8<tspan dy="-1.6" style="font-size:3px">+</tspan></text>
<text x="422.50" y="113.90" text-anchor="middle" fill="#2b2b2b" stroke="#2b2b2b" stroke-width="0.08" style="font-size:5.83px;" textLength="19.45" lengthAdjust="spacingAndGlyphs">isolation</text>
<text x="446.30" y="107.60" text-anchor="middle" fill="#2b2b2b" stroke="#2b2b2b" stroke-width="0.08" style="font-size:5.83px;" textLength="12.35" lengthAdjust="spacingAndGlyphs">CD4<tspan dy="-1.6" style="font-size:3px">+</tspan></text>
<text x="446.30" y="113.90" text-anchor="middle" fill="#2b2b2b" stroke="#2b2b2b" stroke-width="0.08" style="font-size:5.83px;" textLength="19.45" lengthAdjust="spacingAndGlyphs">isolation</text>
<text x="368.80" y="77.60" fill="#2b2b2b" stroke="#2b2b2b" stroke-width="0.08" style="font-size:6.18px;font-style:italic;" textLength="13.10" lengthAdjust="spacingAndGlyphs">Ficoll</text>
<line x1="368.00" y1="80.20" x2="382.50" y2="80.20" stroke="#555" stroke-width="0.7" stroke-linecap="butt"/>
<text x="400.70" y="77.60" fill="#2b2b2b" stroke="#2b2b2b" stroke-width="0.08" style="font-size:5.75px;font-style:italic;" textLength="15.10" lengthAdjust="spacingAndGlyphs">MACS</text>
<line x1="400.50" y1="80.20" x2="416.00" y2="80.20" stroke="#555" stroke-width="0.7" stroke-linecap="butt"/>
<text x="428.80" y="78.20" fill="#2b2b2b" stroke="#2b2b2b" stroke-width="0.08" style="font-size:5.22px;font-style:italic;" textLength="13.70" lengthAdjust="spacingAndGlyphs">MACS</text>
<line x1="428.50" y1="80.60" x2="442.50" y2="80.60" stroke="#555" stroke-width="0.7" stroke-linecap="butt"/>
<circle cx="389.10" cy="82.30" r="2.45" fill="#d9d9dc" stroke="#333" stroke-width="0.6"/>
<circle cx="393.10" cy="81.50" r="2.45" fill="#d9d9dc" stroke="#333" stroke-width="0.6"/>
<circle cx="396.70" cy="82.30" r="2.45" fill="#d9d9dc" stroke="#333" stroke-width="0.6"/>
<circle cx="391.10" cy="84.70" r="2.45" fill="#d9d9dc" stroke="#333" stroke-width="0.6"/>
<circle cx="394.90" cy="84.90" r="2.45" fill="#d9d9dc" stroke="#333" stroke-width="0.6"/>
<circle cx="388.50" cy="78.30" r="2.45" fill="#1d4f7c" stroke="#333" stroke-width="0.6"/>
<circle cx="396.60" cy="78.10" r="2.45" fill="#1d4f7c" stroke="#333" stroke-width="0.6"/>
<circle cx="392.50" cy="76.90" r="2.45" fill="#d2246e" stroke="#333" stroke-width="0.6"/>
<circle cx="424.50" cy="78.70" r="2.45" fill="#d9d9dc" stroke="#333" stroke-width="0.6"/>
<circle cx="418.30" cy="82.50" r="2.45" fill="#d9d9dc" stroke="#333" stroke-width="0.6"/>
<circle cx="422.30" cy="82.30" r="2.45" fill="#d9d9dc" stroke="#333" stroke-width="0.6"/>
<circle cx="426.20" cy="82.70" r="2.45" fill="#d9d9dc" stroke="#333" stroke-width="0.6"/>
<circle cx="420.50" cy="85.30" r="2.45" fill="#d9d9dc" stroke="#333" stroke-width="0.6"/>
<circle cx="424.30" cy="85.50" r="2.45" fill="#d9d9dc" stroke="#333" stroke-width="0.6"/>
<circle cx="420.10" cy="78.30" r="2.45" fill="#d2246e" stroke="#333" stroke-width="0.6"/>
<circle cx="445.00" cy="79.00" r="2.45" fill="#d9d9dc" stroke="#333" stroke-width="0.6"/>
<circle cx="448.80" cy="79.60" r="2.45" fill="#d9d9dc" stroke="#333" stroke-width="0.6"/>
<circle cx="443.00" cy="83.00" r="2.45" fill="#d9d9dc" stroke="#333" stroke-width="0.6"/>
<circle cx="446.80" cy="83.00" r="2.45" fill="#d9d9dc" stroke="#333" stroke-width="0.6"/>
<circle cx="450.40" cy="83.60" r="2.45" fill="#d9d9dc" stroke="#333" stroke-width="0.6"/>
<circle cx="445.00" cy="86.00" r="2.45" fill="#d9d9dc" stroke="#333" stroke-width="0.6"/>
<circle cx="448.60" cy="86.20" r="2.45" fill="#d9d9dc" stroke="#333" stroke-width="0.6"/>
<line x1="423.80" y1="76.00" x2="423.80" y2="71.80" stroke="#222" stroke-width="0.9" stroke-linecap="butt"/>
<path d="M421.90,72.90 L423.80,72.00 L425.70,72.90 L423.80,69.40 Z" fill="#111"/>
<line x1="446.30" y1="76.00" x2="446.30" y2="71.80" stroke="#222" stroke-width="0.9" stroke-linecap="butt"/>
<path d="M444.40,72.90 L446.30,72.00 L448.20,72.90 L446.30,69.40 Z" fill="#111"/>
<rect x="408.3" y="55.6" width="51.4" height="12.9" fill="none" stroke="#8c7c84" stroke-width="0.65" stroke-dasharray="1.0,0.7"/>
<circle cx="421.20" cy="64.10" r="1.85" fill="#1d4f7c" stroke="#333" stroke-width="0.45"/>
<circle cx="423.90" cy="64.60" r="1.85" fill="#1d4f7c" stroke="#333" stroke-width="0.45"/>
<circle cx="426.40" cy="63.80" r="1.85" fill="#1d4f7c" stroke="#333" stroke-width="0.45"/>
<circle cx="420.80" cy="61.60" r="1.85" fill="#1d4f7c" stroke="#333" stroke-width="0.45"/>
<circle cx="423.60" cy="62.00" r="1.85" fill="#1d4f7c" stroke="#333" stroke-width="0.45"/>
<circle cx="426.20" cy="61.30" r="1.85" fill="#1d4f7c" stroke="#333" stroke-width="0.45"/>
<circle cx="422.30" cy="59.60" r="1.85" fill="#1d4f7c" stroke="#333" stroke-width="0.45"/>
<circle cx="425.10" cy="59.30" r="1.85" fill="#1d4f7c" stroke="#333" stroke-width="0.45"/>
<circle cx="423.60" cy="62.80" r="1.85" fill="#1d4f7c" stroke="#333" stroke-width="0.45"/>
<circle cx="444.80" cy="64.10" r="1.85" fill="#d2246e" stroke="#333" stroke-width="0.45"/>
<circle cx="447.50" cy="64.60" r="1.85" fill="#d2246e" stroke="#333" stroke-width="0.45"/>
<circle cx="450.00" cy="63.80" r="1.85" fill="#d2246e" stroke="#333" stroke-width="0.45"/>
<circle cx="444.40" cy="61.60" r="1.85" fill="#d2246e" stroke="#333" stroke-width="0.45"/>
<circle cx="447.20" cy="62.00" r="1.85" fill="#d2246e" stroke="#333" stroke-width="0.45"/>
<circle cx="449.80" cy="61.30" r="1.85" fill="#d2246e" stroke="#333" stroke-width="0.45"/>
<circle cx="445.90" cy="59.60" r="1.85" fill="#d2246e" stroke="#333" stroke-width="0.45"/>
<circle cx="448.70" cy="59.30" r="1.85" fill="#d2246e" stroke="#333" stroke-width="0.45"/>
<circle cx="447.20" cy="62.80" r="1.85" fill="#d2246e" stroke="#333" stroke-width="0.45"/>
<path d="M460.0,59.4 L484.4,59.4 L484.4,64.5" fill="none" stroke="#8c7c84" stroke-width="0.65" stroke-dasharray="1.0,0.7"/>
<path d="M484.4,62.5 L484.4,67.0" stroke="#111" stroke-width="0.8"/>
<path d="M482.9,66.4 L485.9,66.4 L484.4,69.0 Z" fill="#111"/>
<line x1="471.90" y1="70.00" x2="496.30" y2="70.00" stroke="#666" stroke-width="0.6" stroke-dasharray="1.2,0.8" stroke-linecap="butt"/>
<line x1="483.90" y1="73.10" x2="483.90" y2="102.80" stroke="#a8bccc" stroke-width="0.8" stroke-dasharray="1.2,0.5" stroke-linecap="butt"/>
<circle cx="472.00" cy="79.10" r="1.85" fill="#1d4f7c" stroke="#333" stroke-width="0.45"/>
<circle cx="474.70" cy="79.60" r="1.85" fill="#1d4f7c" stroke="#333" stroke-width="0.45"/>
<circle cx="477.20" cy="78.80" r="1.85" fill="#1d4f7c" stroke="#333" stroke-width="0.45"/>
<circle cx="471.60" cy="76.60" r="1.85" fill="#1d4f7c" stroke="#333" stroke-width="0.45"/>
<circle cx="474.40" cy="77.00" r="1.85" fill="#1d4f7c" stroke="#333" stroke-width="0.45"/>
<circle cx="477.00" cy="76.30" r="1.85" fill="#1d4f7c" stroke="#333" stroke-width="0.45"/>
<circle cx="473.10" cy="74.60" r="1.85" fill="#1d4f7c" stroke="#333" stroke-width="0.45"/>
<circle cx="475.90" cy="74.30" r="1.85" fill="#1d4f7c" stroke="#333" stroke-width="0.45"/>
<circle cx="474.40" cy="77.80" r="1.85" fill="#1d4f7c" stroke="#333" stroke-width="0.45"/>
<circle cx="490.70" cy="79.70" r="1.85" fill="#d2246e" stroke="#333" stroke-width="0.45"/>
<circle cx="493.40" cy="80.20" r="1.85" fill="#d2246e" stroke="#333" stroke-width="0.45"/>
<circle cx="495.90" cy="79.40" r="1.85" fill="#d2246e" stroke="#333" stroke-width="0.45"/>
<circle cx="490.30" cy="77.20" r="1.85" fill="#d2246e" stroke="#333" stroke-width="0.45"/>
<circle cx="493.10" cy="77.60" r="1.85" fill="#d2246e" stroke="#333" stroke-width="0.45"/>
<circle cx="495.70" cy="76.90" r="1.85" fill="#d2246e" stroke="#333" stroke-width="0.45"/>
<circle cx="491.80" cy="75.20" r="1.85" fill="#d2246e" stroke="#333" stroke-width="0.45"/>
<circle cx="494.60" cy="74.90" r="1.85" fill="#d2246e" stroke="#333" stroke-width="0.45"/>
<circle cx="493.10" cy="78.40" r="1.85" fill="#d2246e" stroke="#333" stroke-width="0.45"/>
<line x1="474.40" y1="82.50" x2="474.40" y2="87.50" stroke="#222" stroke-width="0.9" stroke-linecap="butt"/>
<path d="M472.50,86.60 L474.40,87.50 L476.30,86.60 L474.40,90.30 Z" fill="#111"/>
<line x1="493.10" y1="82.50" x2="493.10" y2="87.50" stroke="#222" stroke-width="0.9" stroke-linecap="butt"/>
<path d="M491.20,86.60 L493.10,87.50 L495.00,86.60 L493.10,90.30 Z" fill="#111"/>
<circle cx="473.40" cy="93.20" r="2.0" fill="#1d4f7c" stroke="#333" stroke-width="0.45"/>
<circle cx="476.80" cy="92.80" r="2.0" fill="#1d4f7c" stroke="#333" stroke-width="0.45"/>
<circle cx="479.00" cy="95.20" r="2.0" fill="#1d4f7c" stroke="#333" stroke-width="0.45"/>
<circle cx="469.80" cy="97.20" r="2.0" fill="#c0803e" stroke="#333" stroke-width="0.45"/>
<circle cx="473.00" cy="97.40" r="2.0" fill="#c0803e" stroke="#333" stroke-width="0.45"/>
<circle cx="476.20" cy="97.60" r="2.0" fill="#c0803e" stroke="#333" stroke-width="0.45"/>
<circle cx="479.20" cy="98.60" r="2.0" fill="#c0803e" stroke="#333" stroke-width="0.45"/>
<circle cx="470.00" cy="100.60" r="2.0" fill="#1d4f7c" stroke="#333" stroke-width="0.45"/>
<circle cx="473.20" cy="101.00" r="2.0" fill="#1d4f7c" stroke="#333" stroke-width="0.45"/>
<circle cx="476.60" cy="101.20" r="2.0" fill="#1d4f7c" stroke="#333" stroke-width="0.45"/>
<circle cx="471.40" cy="95.20" r="2.0" fill="#1d4f7c" stroke="#333" stroke-width="0.45"/>
<circle cx="491.60" cy="93.20" r="2.0" fill="#d2246e" stroke="#333" stroke-width="0.45"/>
<circle cx="495.00" cy="92.80" r="2.0" fill="#d2246e" stroke="#333" stroke-width="0.45"/>
<circle cx="497.20" cy="95.20" r="2.0" fill="#d2246e" stroke="#333" stroke-width="0.45"/>
<circle cx="488.00" cy="97.20" r="2.0" fill="#c0803e" stroke="#333" stroke-width="0.45"/>
<circle cx="491.20" cy="97.40" r="2.0" fill="#c0803e" stroke="#333" stroke-width="0.45"/>
<circle cx="494.40" cy="97.60" r="2.0" fill="#c0803e" stroke="#333" stroke-width="0.45"/>
<circle cx="497.40" cy="98.60" r="2.0" fill="#c0803e" stroke="#333" stroke-width="0.45"/>
<circle cx="488.20" cy="100.60" r="2.0" fill="#d2246e" stroke="#333" stroke-width="0.45"/>
<circle cx="491.40" cy="101.00" r="2.0" fill="#d2246e" stroke="#333" stroke-width="0.45"/>
<circle cx="494.80" cy="101.20" r="2.0" fill="#d2246e" stroke="#333" stroke-width="0.45"/>
<circle cx="489.60" cy="95.20" r="2.0" fill="#d2246e" stroke="#333" stroke-width="0.45"/>
<g transform="translate(465.0,93.8) rotate(-35)" stroke="#6a2436" stroke-width="0.9" fill="none" stroke-linecap="round"><path d="M-2.6,-3 L0,0 L2.6,-3 M0,0 L0,3.6"/></g>
<g transform="translate(503.2,94.8) rotate(35)" stroke="#6a2436" stroke-width="0.9" fill="none" stroke-linecap="round"><path d="M-2.6,-3 L0,0 L2.6,-3 M0,0 L0,3.6"/></g>
<text x="463.80" y="89.20" text-anchor="middle" fill="#555" stroke="#555" stroke-width="0.05" style="font-size:4.29px;" textLength="5.64" lengthAdjust="spacingAndGlyphs">+/−</text>
<text x="503.40" y="89.60" text-anchor="middle" fill="#555" stroke="#555" stroke-width="0.05" style="font-size:4.29px;" textLength="5.64" lengthAdjust="spacingAndGlyphs">+/−</text>
<text x="7.60" y="170.40" text-anchor="start" fill="#000" stroke="#000" stroke-width="0.45" style="font-size:10.50px;font-weight:bold;">D</text>
<text x="70.00" y="179.20" text-anchor="middle" fill="#2b2b2b" stroke="#2b2b2b" stroke-width="0.08" style="font-size:7.81px;" textLength="46.81" lengthAdjust="spacingAndGlyphs">Killing by CD8<tspan dy="-2.0" style="font-size:3.8px">+</tspan><tspan dy="2.0">​</tspan></text>
<text x="71.00" y="188.50" text-anchor="middle" fill="#2b2b2b" stroke="#2b2b2b" stroke-width="0.08" style="font-size:7.81px;" textLength="20.39" lengthAdjust="spacingAndGlyphs">T cells</text>
<text x="13.30" y="222.50" text-anchor="middle" fill="#333" stroke="#333" stroke-width="0.08" style="font-size:6.38px;" transform="rotate(-90 13.30 222.50)" textLength="42.97" lengthAdjust="spacingAndGlyphs">Tumor cell killing</text>
<text x="21.30" y="224.50" text-anchor="middle" fill="#333" stroke="#333" stroke-width="0.08" style="font-size:6.38px;" transform="rotate(-90 21.30 224.50)" textLength="65.78" lengthAdjust="spacingAndGlyphs">[fold change to untreated]</text>
<line x1="41.00" y1="233.50" x2="102.50" y2="233.50" stroke="#c8c8c8" stroke-width="0.7" stroke-linecap="butt"/>
<rect x="42.55" y="233.47" width="3.30" height="18.83" fill="#8ca9c6"/>
<rect x="48.05" y="233.47" width="3.30" height="18.83" fill="#9acca2"/>
<rect x="53.75" y="233.47" width="3.30" height="18.83" fill="#e08c9e"/>
<rect x="63.75" y="227.06" width="3.30" height="25.24" fill="#8ca9c6"/>
<line x1="65.40" y1="227.06" x2="65.40" y2="223.30" stroke="#1d4f7c" stroke-width="0.6" stroke-linecap="butt"/>
<line x1="64.50" y1="223.30" x2="66.30" y2="223.30" stroke="#1d4f7c" stroke-width="0.6" stroke-linecap="butt"/>
<rect x="69.25" y="228.57" width="3.30" height="23.73" fill="#9acca2"/>
<line x1="70.90" y1="228.57" x2="70.90" y2="226.31" stroke="#35a04c" stroke-width="0.6" stroke-linecap="butt"/>
<line x1="70.00" y1="226.31" x2="71.80" y2="226.31" stroke="#35a04c" stroke-width="0.6" stroke-linecap="butt"/>
<rect x="74.95" y="222.17" width="3.30" height="30.13" fill="#e08c9e"/>
<line x1="76.60" y1="222.17" x2="76.60" y2="218.40" stroke="#c2123c" stroke-width="0.6" stroke-linecap="butt"/>
<line x1="75.70" y1="218.40" x2="77.50" y2="218.40" stroke="#c2123c" stroke-width="0.6" stroke-linecap="butt"/>
<rect x="84.65" y="222.17" width="3.30" height="30.13" fill="#8ca9c6"/>
<line x1="86.30" y1="222.17" x2="86.30" y2="218.40" stroke="#1d4f7c" stroke-width="0.6" stroke-linecap="butt"/>
<line x1="85.40" y1="218.40" x2="87.20" y2="218.40" stroke="#1d4f7c" stroke-width="0.6" stroke-linecap="butt"/>
<rect x="90.35" y="220.66" width="3.30" height="31.64" fill="#9acca2"/>
<line x1="92.00" y1="220.66" x2="92.00" y2="215.39" stroke="#35a04c" stroke-width="0.6" stroke-linecap="butt"/>
<line x1="91.10" y1="215.39" x2="92.90" y2="215.39" stroke="#35a04c" stroke-width="0.6" stroke-linecap="butt"/>
<rect x="96.05" y="221.41" width="3.30" height="30.89" fill="#e08c9e"/>
<line x1="97.70" y1="221.41" x2="97.70" y2="214.63" stroke="#c2123c" stroke-width="0.6" stroke-linecap="butt"/>
<line x1="96.80" y1="214.63" x2="98.60" y2="214.63" stroke="#c2123c" stroke-width="0.6" stroke-linecap="butt"/>
<circle cx="44.20" cy="233.47" r="1.25" fill="#1d4f7c"/>
<circle cx="49.70" cy="233.47" r="1.25" fill="#35a04c"/>
<circle cx="55.40" cy="233.47" r="1.25" fill="#c2123c"/>
<circle cx="65.40" cy="204.46" r="1.25" fill="#1d4f7c"/>
<circle cx="65.40" cy="223.30" r="1.25" fill="#1d4f7c"/>
<circle cx="65.40" cy="227.82" r="1.25" fill="#1d4f7c"/>
<circle cx="65.40" cy="229.70" r="1.25" fill="#1d4f7c"/>
<circle cx="65.40" cy="231.58" r="1.25" fill="#1d4f7c"/>
<circle cx="65.40" cy="232.71" r="1.25" fill="#1d4f7c"/>
<circle cx="70.90" cy="223.30" r="1.25" fill="#35a04c"/>
<circle cx="70.90" cy="227.82" r="1.25" fill="#35a04c"/>
<circle cx="70.90" cy="229.70" r="1.25" fill="#35a04c"/>
<circle cx="70.90" cy="231.58" r="1.25" fill="#35a04c"/>
<circle cx="70.90" cy="233.47" r="1.25" fill="#35a04c"/>
<circle cx="70.90" cy="234.60" r="1.25" fill="#35a04c"/>
<circle cx="76.60" cy="212.75" r="1.25" fill="#c2123c"/>
<circle cx="76.60" cy="214.26" r="1.25" fill="#c2123c"/>
<circle cx="76.60" cy="217.65" r="1.25" fill="#c2123c"/>
<circle cx="76.60" cy="222.17" r="1.25" fill="#c2123c"/>
<circle cx="76.60" cy="229.70" r="1.25" fill="#c2123c"/>
<circle cx="86.30" cy="212.37" r="1.25" fill="#1d4f7c"/>
<circle cx="86.30" cy="214.63" r="1.25" fill="#1d4f7c"/>
<circle cx="86.30" cy="216.52" r="1.25" fill="#1d4f7c"/>
<circle cx="86.30" cy="223.30" r="1.25" fill="#1d4f7c"/>
<circle cx="86.30" cy="225.93" r="1.25" fill="#1d4f7c"/>
<circle cx="86.30" cy="237.23" r="1.25" fill="#1d4f7c"/>
<circle cx="92.00" cy="208.23" r="1.25" fill="#35a04c"/>
<circle cx="92.00" cy="210.87" r="1.25" fill="#35a04c"/>
<circle cx="92.00" cy="212.75" r="1.25" fill="#35a04c"/>
<circle cx="92.00" cy="221.04" r="1.25" fill="#35a04c"/>
<circle cx="92.00" cy="224.05" r="1.25" fill="#35a04c"/>
<circle cx="92.00" cy="242.13" r="1.25" fill="#35a04c"/>
<circle cx="97.70" cy="204.46" r="1.25" fill="#c2123c"/>
<circle cx="97.70" cy="205.22" r="1.25" fill="#c2123c"/>
<circle cx="97.70" cy="224.05" r="1.25" fill="#c2123c"/>
<circle cx="97.70" cy="229.70" r="1.25" fill="#c2123c"/>
<circle cx="97.70" cy="242.88" r="1.25" fill="#c2123c"/>
<line x1="40.20" y1="195.50" x2="40.20" y2="252.90" stroke="#222" stroke-width="1.2" stroke-linecap="butt"/>
<line x1="39.60" y1="252.30" x2="102.50" y2="252.30" stroke="#222" stroke-width="1.25" stroke-linecap="butt"/>
<line x1="37.80" y1="252.30" x2="40.20" y2="252.30" stroke="#222" stroke-width="0.8" stroke-linecap="butt"/>
<text x="35.20" y="254.10" text-anchor="end" fill="#4a4a4a" stroke="#4a4a4a" stroke-width="0.08" style="font-size:5.50px;" textLength="6.95" lengthAdjust="spacingAndGlyphs">0.5</text>
<line x1="37.80" y1="233.47" x2="40.20" y2="233.47" stroke="#222" stroke-width="0.8" stroke-linecap="butt"/>
<text x="35.20" y="235.27" text-anchor="end" fill="#4a4a4a" stroke="#4a4a4a" stroke-width="0.08" style="font-size:5.50px;" textLength="6.95" lengthAdjust="spacingAndGlyphs">1.0</text>
<line x1="37.80" y1="214.63" x2="40.20" y2="214.63" stroke="#222" stroke-width="0.8" stroke-linecap="butt"/>
<text x="35.20" y="216.43" text-anchor="end" fill="#4a4a4a" stroke="#4a4a4a" stroke-width="0.08" style="font-size:5.50px;" textLength="6.95" lengthAdjust="spacingAndGlyphs">1.5</text>
<line x1="37.80" y1="195.80" x2="40.20" y2="195.80" stroke="#222" stroke-width="0.8" stroke-linecap="butt"/>
<text x="35.20" y="197.60" text-anchor="end" fill="#4a4a4a" stroke="#4a4a4a" stroke-width="0.08" style="font-size:5.50px;" textLength="6.95" lengthAdjust="spacingAndGlyphs">2.0</text>
<line x1="49.77" y1="252.30" x2="49.77" y2="254.50" stroke="#222" stroke-width="0.8" stroke-linecap="butt"/>
<line x1="70.97" y1="252.30" x2="70.97" y2="254.50" stroke="#222" stroke-width="0.8" stroke-linecap="butt"/>
<line x1="92.00" y1="252.30" x2="92.00" y2="254.50" stroke="#222" stroke-width="0.8" stroke-linecap="butt"/>
<text x="37.80" y="263.40" fill="#333" stroke="#333" stroke-width="0.07" style="font-size:6.17px;" textLength="23.70" lengthAdjust="spacingAndGlyphs">untreated</text>
<text x="65.00" y="263.40" fill="#333" stroke="#333" stroke-width="0.07" style="font-size:5.99px;" textLength="12.10" lengthAdjust="spacingAndGlyphs">1 pM</text>
<text x="86.60" y="263.40" fill="#333" stroke="#333" stroke-width="0.07" style="font-size:5.74px;" textLength="11.60" lengthAdjust="spacingAndGlyphs">1 nM</text>
<circle cx="34.70" cy="271.80" r="1.45" fill="#1d4f7c"/>
<text x="38.70" y="273.60" fill="#333" stroke="#333" stroke-width="0.07" style="font-size:5.53px;" textLength="24.60" lengthAdjust="spacingAndGlyphs">C1D1 PRE</text>
<circle cx="72.80" cy="271.80" r="1.45" fill="#c2123c"/>
<text x="77.10" y="273.60" fill="#333" stroke="#333" stroke-width="0.07" style="font-size:5.44px;" textLength="24.20" lengthAdjust="spacingAndGlyphs">C4D1 PRE</text>
<circle cx="34.70" cy="280.40" r="1.45" fill="#35a04c"/>
<text x="38.70" y="282.20" fill="#333" stroke="#333" stroke-width="0.07" style="font-size:5.53px;" textLength="24.60" lengthAdjust="spacingAndGlyphs">C2D1 PRE</text>
<text x="117.70" y="170.60" text-anchor="start" fill="#000" stroke="#000" stroke-width="0.45" style="font-size:10.50px;font-weight:bold;">E</text>
<text x="171.10" y="188.60" text-anchor="middle" fill="#2b2b2b" stroke="#2b2b2b" stroke-width="0.08" style="font-size:7.81px;" textLength="18.15" lengthAdjust="spacingAndGlyphs">CD25</text>
<text x="265.50" y="188.60" text-anchor="middle" fill="#2b2b2b" stroke="#2b2b2b" stroke-width="0.08" style="font-size:7.81px;" textLength="17.37" lengthAdjust="spacingAndGlyphs">41BB</text>
<text x="124.00" y="222.50" text-anchor="middle" fill="#333" stroke="#333" stroke-width="0.08" style="font-size:6.38px;" transform="rotate(-90 124.00 222.50)" textLength="46.70" lengthAdjust="spacingAndGlyphs">CD25<tspan dy="-2.0" style="font-size:3.8px">+</tspan><tspan dy="2.0">​</tspan> [% of CD8]</text>
<text x="217.90" y="223.50" text-anchor="middle" fill="#333" stroke="#333" stroke-width="0.08" style="font-size:6.38px;" transform="rotate(-90 217.90 223.50)" textLength="48.28" lengthAdjust="spacingAndGlyphs">41BB<tspan dy="-2.0" style="font-size:3.8px">+</tspan><tspan dy="2.0">​</tspan> [% of CD8<tspan dy="-2.0" style="font-size:3.8px">+</tspan><tspan dy="2.0">​</tspan>]</text>
<rect x="142.45" y="246.36" width="3.30" height="5.64" fill="#8ca9c6"/>
<line x1="144.10" y1="246.36" x2="144.10" y2="244.10" stroke="#1d4f7c" stroke-width="0.6" stroke-linecap="butt"/>
<line x1="143.20" y1="244.10" x2="145.00" y2="244.10" stroke="#1d4f7c" stroke-width="0.6" stroke-linecap="butt"/>
<rect x="147.95" y="247.49" width="3.30" height="4.51" fill="#9acca2"/>
<line x1="149.60" y1="247.49" x2="149.60" y2="245.23" stroke="#35a04c" stroke-width="0.6" stroke-linecap="butt"/>
<line x1="148.70" y1="245.23" x2="150.50" y2="245.23" stroke="#35a04c" stroke-width="0.6" stroke-linecap="butt"/>
<rect x="153.75" y="248.62" width="3.30" height="3.38" fill="#e08c9e"/>
<line x1="155.40" y1="248.62" x2="155.40" y2="246.36" stroke="#c2123c" stroke-width="0.6" stroke-linecap="butt"/>
<line x1="154.50" y1="246.36" x2="156.30" y2="246.36" stroke="#c2123c" stroke-width="0.6" stroke-linecap="butt"/>
<rect x="163.15" y="239.59" width="3.30" height="12.41" fill="#8ca9c6"/>
<line x1="164.80" y1="239.59" x2="164.80" y2="233.95" stroke="#1d4f7c" stroke-width="0.6" stroke-linecap="butt"/>
<line x1="163.90" y1="233.95" x2="165.70" y2="233.95" stroke="#1d4f7c" stroke-width="0.6" stroke-linecap="butt"/>
<rect x="169.25" y="237.34" width="3.30" height="14.66" fill="#9acca2"/>
<line x1="170.90" y1="237.34" x2="170.90" y2="230.57" stroke="#35a04c" stroke-width="0.6" stroke-linecap="butt"/>
<line x1="170.00" y1="230.57" x2="171.80" y2="230.57" stroke="#35a04c" stroke-width="0.6" stroke-linecap="butt"/>
<rect x="174.95" y="240.72" width="3.30" height="11.28" fill="#e08c9e"/>
<line x1="176.60" y1="240.72" x2="176.60" y2="235.08" stroke="#c2123c" stroke-width="0.6" stroke-linecap="butt"/>
<line x1="175.70" y1="235.08" x2="177.50" y2="235.08" stroke="#c2123c" stroke-width="0.6" stroke-linecap="butt"/>
<rect x="184.75" y="238.46" width="3.30" height="13.54" fill="#8ca9c6"/>
<line x1="186.40" y1="238.46" x2="186.40" y2="232.82" stroke="#1d4f7c" stroke-width="0.6" stroke-linecap="butt"/>
<line x1="185.50" y1="232.82" x2="187.30" y2="232.82" stroke="#1d4f7c" stroke-width="0.6" stroke-linecap="butt"/>
<rect x="190.15" y="231.70" width="3.30" height="20.30" fill="#9acca2"/>
<line x1="191.80" y1="231.70" x2="191.80" y2="224.93" stroke="#35a04c" stroke-width="0.6" stroke-linecap="butt"/>
<line x1="190.90" y1="224.93" x2="192.70" y2="224.93" stroke="#35a04c" stroke-width="0.6" stroke-linecap="butt"/>
<rect x="196.15" y="236.21" width="3.30" height="15.79" fill="#e08c9e"/>
<line x1="197.80" y1="236.21" x2="197.80" y2="229.44" stroke="#c2123c" stroke-width="0.6" stroke-linecap="butt"/>
<line x1="196.90" y1="229.44" x2="198.70" y2="229.44" stroke="#c2123c" stroke-width="0.6" stroke-linecap="butt"/>
<circle cx="144.10" cy="238.46" r="1.25" fill="#1d4f7c"/>
<circle cx="144.10" cy="239.59" r="1.25" fill="#1d4f7c"/>
<circle cx="144.10" cy="242.98" r="1.25" fill="#1d4f7c"/>
<circle cx="144.10" cy="245.23" r="1.25" fill="#1d4f7c"/>
<circle cx="144.10" cy="247.49" r="1.25" fill="#1d4f7c"/>
<circle cx="144.10" cy="248.62" r="1.25" fill="#1d4f7c"/>
<circle cx="144.10" cy="249.74" r="1.25" fill="#1d4f7c"/>
<circle cx="144.10" cy="250.87" r="1.25" fill="#1d4f7c"/>
<circle cx="149.60" cy="236.21" r="1.25" fill="#35a04c"/>
<circle cx="149.60" cy="246.36" r="1.25" fill="#35a04c"/>
<circle cx="149.60" cy="247.49" r="1.25" fill="#35a04c"/>
<circle cx="149.60" cy="248.62" r="1.25" fill="#35a04c"/>
<circle cx="149.60" cy="249.74" r="1.25" fill="#35a04c"/>
<circle cx="149.60" cy="250.87" r="1.25" fill="#35a04c"/>
<circle cx="149.60" cy="252.00" r="1.25" fill="#35a04c"/>
<circle cx="155.40" cy="231.13" r="1.25" fill="#c2123c"/>
<circle cx="155.40" cy="245.23" r="1.25" fill="#c2123c"/>
<circle cx="155.40" cy="246.36" r="1.25" fill="#c2123c"/>
<circle cx="155.40" cy="248.62" r="1.25" fill="#c2123c"/>
<circle cx="155.40" cy="249.74" r="1.25" fill="#c2123c"/>
<circle cx="155.40" cy="250.87" r="1.25" fill="#c2123c"/>
<circle cx="164.80" cy="223.80" r="1.25" fill="#1d4f7c"/>
<circle cx="164.80" cy="224.93" r="1.25" fill="#1d4f7c"/>
<circle cx="164.80" cy="226.06" r="1.25" fill="#1d4f7c"/>
<circle cx="164.80" cy="227.18" r="1.25" fill="#1d4f7c"/>
<circle cx="164.80" cy="240.72" r="1.25" fill="#1d4f7c"/>
<circle cx="164.80" cy="244.10" r="1.25" fill="#1d4f7c"/>
<circle cx="164.80" cy="246.36" r="1.25" fill="#1d4f7c"/>
<circle cx="164.80" cy="249.74" r="1.25" fill="#1d4f7c"/>
<circle cx="170.90" cy="215.90" r="1.25" fill="#35a04c"/>
<circle cx="170.90" cy="227.18" r="1.25" fill="#35a04c"/>
<circle cx="170.90" cy="236.21" r="1.25" fill="#35a04c"/>
<circle cx="170.90" cy="240.72" r="1.25" fill="#35a04c"/>
<circle cx="170.90" cy="242.98" r="1.25" fill="#35a04c"/>
<circle cx="170.90" cy="248.62" r="1.25" fill="#35a04c"/>
<circle cx="170.90" cy="249.74" r="1.25" fill="#35a04c"/>
<circle cx="176.60" cy="218.16" r="1.25" fill="#c2123c"/>
<circle cx="176.60" cy="227.18" r="1.25" fill="#c2123c"/>
<circle cx="176.60" cy="238.46" r="1.25" fill="#c2123c"/>
<circle cx="176.60" cy="241.85" r="1.25" fill="#c2123c"/>
<circle cx="176.60" cy="246.36" r="1.25" fill="#c2123c"/>
<circle cx="176.60" cy="249.74" r="1.25" fill="#c2123c"/>
<circle cx="186.40" cy="217.60" r="1.25" fill="#1d4f7c"/>
<circle cx="186.40" cy="218.16" r="1.25" fill="#1d4f7c"/>
<circle cx="186.40" cy="228.31" r="1.25" fill="#1d4f7c"/>
<circle cx="186.40" cy="237.34" r="1.25" fill="#1d4f7c"/>
<circle cx="186.40" cy="239.59" r="1.25" fill="#1d4f7c"/>
<circle cx="186.40" cy="246.36" r="1.25" fill="#1d4f7c"/>
<circle cx="186.40" cy="249.74" r="1.25" fill="#1d4f7c"/>
<circle cx="191.80" cy="208.01" r="1.25" fill="#35a04c"/>
<circle cx="191.80" cy="212.52" r="1.25" fill="#35a04c"/>
<circle cx="191.80" cy="217.03" r="1.25" fill="#35a04c"/>
<circle cx="191.80" cy="226.06" r="1.25" fill="#35a04c"/>
<circle cx="191.80" cy="230.57" r="1.25" fill="#35a04c"/>
<circle cx="191.80" cy="240.72" r="1.25" fill="#35a04c"/>
<circle cx="191.80" cy="245.23" r="1.25" fill="#35a04c"/>
<circle cx="191.80" cy="249.74" r="1.25" fill="#35a04c"/>
<circle cx="197.80" cy="206.88" r="1.25" fill="#c2123c"/>
<circle cx="197.80" cy="222.67" r="1.25" fill="#c2123c"/>
<circle cx="197.80" cy="223.80" r="1.25" fill="#c2123c"/>
<circle cx="197.80" cy="236.21" r="1.25" fill="#c2123c"/>
<circle cx="197.80" cy="247.49" r="1.25" fill="#c2123c"/>
<circle cx="197.80" cy="250.87" r="1.25" fill="#c2123c"/>
<line x1="140.30" y1="195.30" x2="140.30" y2="252.60" stroke="#222" stroke-width="1.2" stroke-linecap="butt"/>
<line x1="139.70" y1="252.00" x2="200.50" y2="252.00" stroke="#222" stroke-width="1.25" stroke-linecap="butt"/>
<line x1="137.90" y1="252.00" x2="140.30" y2="252.00" stroke="#222" stroke-width="0.8" stroke-linecap="butt"/>
<text x="135.20" y="253.80" text-anchor="end" fill="#4a4a4a" stroke="#4a4a4a" stroke-width="0.08" style="font-size:5.50px;" textLength="2.78" lengthAdjust="spacingAndGlyphs">0</text>
<line x1="137.90" y1="240.72" x2="140.30" y2="240.72" stroke="#222" stroke-width="0.8" stroke-linecap="butt"/>
<text x="135.20" y="242.52" text-anchor="end" fill="#4a4a4a" stroke="#4a4a4a" stroke-width="0.08" style="font-size:5.50px;" textLength="5.56" lengthAdjust="spacingAndGlyphs">10</text>
<line x1="137.90" y1="229.44" x2="140.30" y2="229.44" stroke="#222" stroke-width="0.8" stroke-linecap="butt"/>
<text x="135.20" y="231.24" text-anchor="end" fill="#4a4a4a" stroke="#4a4a4a" stroke-width="0.08" style="font-size:5.50px;" textLength="5.56" lengthAdjust="spacingAndGlyphs">20</text>
<line x1="137.90" y1="218.16" x2="140.30" y2="218.16" stroke="#222" stroke-width="0.8" stroke-linecap="butt"/>
<text x="135.20" y="219.96" text-anchor="end" fill="#4a4a4a" stroke="#4a4a4a" stroke-width="0.08" style="font-size:5.50px;" textLength="5.56" lengthAdjust="spacingAndGlyphs">30</text>
<line x1="137.90" y1="206.88" x2="140.30" y2="206.88" stroke="#222" stroke-width="0.8" stroke-linecap="butt"/>
<text x="135.20" y="208.68" text-anchor="end" fill="#4a4a4a" stroke="#4a4a4a" stroke-width="0.08" style="font-size:5.50px;" textLength="5.56" lengthAdjust="spacingAndGlyphs">40</text>
<line x1="137.90" y1="195.60" x2="140.30" y2="195.60" stroke="#222" stroke-width="0.8" stroke-linecap="butt"/>
<text x="135.20" y="197.40" text-anchor="end" fill="#4a4a4a" stroke="#4a4a4a" stroke-width="0.08" style="font-size:5.50px;" textLength="5.56" lengthAdjust="spacingAndGlyphs">50</text>
<line x1="149.70" y1="252.00" x2="149.70" y2="254.20" stroke="#222" stroke-width="0.8" stroke-linecap="butt"/>
<line x1="170.77" y1="252.00" x2="170.77" y2="254.20" stroke="#222" stroke-width="0.8" stroke-linecap="butt"/>
<line x1="192.00" y1="252.00" x2="192.00" y2="254.20" stroke="#222" stroke-width="0.8" stroke-linecap="butt"/>
<rect x="236.05" y="243.62" width="3.30" height="8.38" fill="#8ca9c6"/>
<line x1="237.70" y1="243.62" x2="237.70" y2="240.82" stroke="#1d4f7c" stroke-width="0.6" stroke-linecap="butt"/>
<line x1="236.80" y1="240.82" x2="238.60" y2="240.82" stroke="#1d4f7c" stroke-width="0.6" stroke-linecap="butt"/>
<rect x="241.95" y="245.71" width="3.30" height="6.29" fill="#9acca2"/>
<line x1="243.60" y1="245.71" x2="243.60" y2="242.92" stroke="#35a04c" stroke-width="0.6" stroke-linecap="butt"/>
<line x1="242.70" y1="242.92" x2="244.50" y2="242.92" stroke="#35a04c" stroke-width="0.6" stroke-linecap="butt"/>
<rect x="247.65" y="246.41" width="3.30" height="5.59" fill="#e08c9e"/>
<line x1="249.30" y1="246.41" x2="249.30" y2="244.31" stroke="#c2123c" stroke-width="0.6" stroke-linecap="butt"/>
<line x1="248.40" y1="244.31" x2="250.20" y2="244.31" stroke="#c2123c" stroke-width="0.6" stroke-linecap="butt"/>
<rect x="257.45" y="233.13" width="3.30" height="18.87" fill="#8ca9c6"/>
<line x1="259.10" y1="233.13" x2="259.10" y2="229.64" stroke="#1d4f7c" stroke-width="0.6" stroke-linecap="butt"/>
<line x1="258.20" y1="229.64" x2="260.00" y2="229.64" stroke="#1d4f7c" stroke-width="0.6" stroke-linecap="butt"/>
<rect x="263.15" y="232.44" width="3.30" height="19.56" fill="#9acca2"/>
<line x1="264.80" y1="232.44" x2="264.80" y2="228.24" stroke="#35a04c" stroke-width="0.6" stroke-linecap="butt"/>
<line x1="263.90" y1="228.24" x2="265.70" y2="228.24" stroke="#35a04c" stroke-width="0.6" stroke-linecap="butt"/>
<rect x="268.85" y="239.42" width="3.30" height="12.58" fill="#e08c9e"/>
<line x1="270.50" y1="239.42" x2="270.50" y2="235.93" stroke="#c2123c" stroke-width="0.6" stroke-linecap="butt"/>
<line x1="269.60" y1="235.93" x2="271.40" y2="235.93" stroke="#c2123c" stroke-width="0.6" stroke-linecap="butt"/>
<rect x="278.65" y="231.04" width="3.30" height="20.96" fill="#8ca9c6"/>
<line x1="280.30" y1="231.04" x2="280.30" y2="226.15" stroke="#1d4f7c" stroke-width="0.6" stroke-linecap="butt"/>
<line x1="279.40" y1="226.15" x2="281.20" y2="226.15" stroke="#1d4f7c" stroke-width="0.6" stroke-linecap="butt"/>
<rect x="284.35" y="226.84" width="3.30" height="25.16" fill="#9acca2"/>
<line x1="286.00" y1="226.84" x2="286.00" y2="221.25" stroke="#35a04c" stroke-width="0.6" stroke-linecap="butt"/>
<line x1="285.10" y1="221.25" x2="286.90" y2="221.25" stroke="#35a04c" stroke-width="0.6" stroke-linecap="butt"/>
<rect x="290.15" y="235.23" width="3.30" height="16.77" fill="#e08c9e"/>
<line x1="291.80" y1="235.23" x2="291.80" y2="230.34" stroke="#c2123c" stroke-width="0.6" stroke-linecap="butt"/>
<line x1="290.90" y1="230.34" x2="292.70" y2="230.34" stroke="#c2123c" stroke-width="0.6" stroke-linecap="butt"/>
<circle cx="237.70" cy="231.04" r="1.25" fill="#1d4f7c"/>
<circle cx="237.70" cy="232.44" r="1.25" fill="#1d4f7c"/>
<circle cx="237.70" cy="234.53" r="1.25" fill="#1d4f7c"/>
<circle cx="237.70" cy="245.01" r="1.25" fill="#1d4f7c"/>
<circle cx="237.70" cy="245.71" r="1.25" fill="#1d4f7c"/>
<circle cx="237.70" cy="247.11" r="1.25" fill="#1d4f7c"/>
<circle cx="237.70" cy="249.90" r="1.25" fill="#1d4f7c"/>
<circle cx="237.70" cy="251.30" r="1.25" fill="#1d4f7c"/>
<circle cx="243.60" cy="228.24" r="1.25" fill="#35a04c"/>
<circle cx="243.60" cy="235.93" r="1.25" fill="#35a04c"/>
<circle cx="243.60" cy="241.52" r="1.25" fill="#35a04c"/>
<circle cx="243.60" cy="246.41" r="1.25" fill="#35a04c"/>
<circle cx="243.60" cy="248.51" r="1.25" fill="#35a04c"/>
<circle cx="243.60" cy="249.90" r="1.25" fill="#35a04c"/>
<circle cx="243.60" cy="251.30" r="1.25" fill="#35a04c"/>
<circle cx="249.30" cy="238.03" r="1.25" fill="#c2123c"/>
<circle cx="249.30" cy="245.01" r="1.25" fill="#c2123c"/>
<circle cx="249.30" cy="245.71" r="1.25" fill="#c2123c"/>
<circle cx="249.30" cy="247.81" r="1.25" fill="#c2123c"/>
<circle cx="249.30" cy="249.21" r="1.25" fill="#c2123c"/>
<circle cx="249.30" cy="250.60" r="1.25" fill="#c2123c"/>
<circle cx="259.10" cy="226.84" r="1.25" fill="#1d4f7c"/>
<circle cx="259.10" cy="228.94" r="1.25" fill="#1d4f7c"/>
<circle cx="259.10" cy="231.74" r="1.25" fill="#1d4f7c"/>
<circle cx="259.10" cy="233.83" r="1.25" fill="#1d4f7c"/>
<circle cx="259.10" cy="236.63" r="1.25" fill="#1d4f7c"/>
<circle cx="259.10" cy="238.03" r="1.25" fill="#1d4f7c"/>
<circle cx="259.10" cy="248.51" r="1.25" fill="#1d4f7c"/>
<circle cx="264.80" cy="220.56" r="1.25" fill="#35a04c"/>
<circle cx="264.80" cy="222.65" r="1.25" fill="#35a04c"/>
<circle cx="264.80" cy="224.05" r="1.25" fill="#35a04c"/>
<circle cx="264.80" cy="231.04" r="1.25" fill="#35a04c"/>
<circle cx="264.80" cy="238.03" r="1.25" fill="#35a04c"/>
<circle cx="264.80" cy="243.62" r="1.25" fill="#35a04c"/>
<circle cx="264.80" cy="248.51" r="1.25" fill="#35a04c"/>
<circle cx="270.50" cy="226.84" r="1.25" fill="#c2123c"/>
<circle cx="270.50" cy="233.13" r="1.25" fill="#c2123c"/>
<circle cx="270.50" cy="238.03" r="1.25" fill="#c2123c"/>
<circle cx="270.50" cy="242.22" r="1.25" fill="#c2123c"/>
<circle cx="270.50" cy="243.62" r="1.25" fill="#c2123c"/>
<circle cx="270.50" cy="245.01" r="1.25" fill="#c2123c"/>
<circle cx="270.50" cy="249.21" r="1.25" fill="#c2123c"/>
<circle cx="280.30" cy="210.77" r="1.25" fill="#1d4f7c"/>
<circle cx="280.30" cy="225.45" r="1.25" fill="#1d4f7c"/>
<circle cx="280.30" cy="229.64" r="1.25" fill="#1d4f7c"/>
<circle cx="280.30" cy="231.04" r="1.25" fill="#1d4f7c"/>
<circle cx="280.30" cy="238.03" r="1.25" fill="#1d4f7c"/>
<circle cx="280.30" cy="242.22" r="1.25" fill="#1d4f7c"/>
<circle cx="280.30" cy="246.41" r="1.25" fill="#1d4f7c"/>
<circle cx="286.00" cy="203.79" r="1.25" fill="#35a04c"/>
<circle cx="286.00" cy="217.06" r="1.25" fill="#35a04c"/>
<circle cx="286.00" cy="224.05" r="1.25" fill="#35a04c"/>
<circle cx="286.00" cy="228.24" r="1.25" fill="#35a04c"/>
<circle cx="286.00" cy="232.44" r="1.25" fill="#35a04c"/>
<circle cx="286.00" cy="238.03" r="1.25" fill="#35a04c"/>
<circle cx="286.00" cy="240.82" r="1.25" fill="#35a04c"/>
<circle cx="286.00" cy="247.81" r="1.25" fill="#35a04c"/>
<circle cx="291.80" cy="221.95" r="1.25" fill="#c2123c"/>
<circle cx="291.80" cy="231.04" r="1.25" fill="#c2123c"/>
<circle cx="291.80" cy="232.44" r="1.25" fill="#c2123c"/>
<circle cx="291.80" cy="238.03" r="1.25" fill="#c2123c"/>
<circle cx="291.80" cy="242.22" r="1.25" fill="#c2123c"/>
<circle cx="291.80" cy="243.62" r="1.25" fill="#c2123c"/>
<circle cx="291.80" cy="247.81" r="1.25" fill="#c2123c"/>
<circle cx="291.80" cy="250.60" r="1.25" fill="#c2123c"/>
<line x1="234.20" y1="195.80" x2="234.20" y2="252.60" stroke="#222" stroke-width="1.2" stroke-linecap="butt"/>
<line x1="233.60" y1="252.00" x2="295.40" y2="252.00" stroke="#222" stroke-width="1.25" stroke-linecap="butt"/>
<line x1="231.80" y1="252.00" x2="234.20" y2="252.00" stroke="#222" stroke-width="0.8" stroke-linecap="butt"/>
<text x="229.40" y="253.80" text-anchor="end" fill="#4a4a4a" stroke="#4a4a4a" stroke-width="0.08" style="font-size:5.50px;" textLength="2.78" lengthAdjust="spacingAndGlyphs">0</text>
<line x1="231.80" y1="238.03" x2="234.20" y2="238.03" stroke="#222" stroke-width="0.8" stroke-linecap="butt"/>
<text x="229.40" y="239.83" text-anchor="end" fill="#4a4a4a" stroke="#4a4a4a" stroke-width="0.08" style="font-size:5.50px;" textLength="5.56" lengthAdjust="spacingAndGlyphs">20</text>
<line x1="231.80" y1="224.05" x2="234.20" y2="224.05" stroke="#222" stroke-width="0.8" stroke-linecap="butt"/>
<text x="229.40" y="225.85" text-anchor="end" fill="#4a4a4a" stroke="#4a4a4a" stroke-width="0.08" style="font-size:5.50px;" textLength="5.56" lengthAdjust="spacingAndGlyphs">40</text>
<line x1="231.80" y1="210.07" x2="234.20" y2="210.07" stroke="#222" stroke-width="0.8" stroke-linecap="butt"/>
<text x="229.40" y="211.88" text-anchor="end" fill="#4a4a4a" stroke="#4a4a4a" stroke-width="0.08" style="font-size:5.50px;" textLength="5.56" lengthAdjust="spacingAndGlyphs">60</text>
<line x1="231.80" y1="196.10" x2="234.20" y2="196.10" stroke="#222" stroke-width="0.8" stroke-linecap="butt"/>
<text x="229.40" y="197.90" text-anchor="end" fill="#4a4a4a" stroke="#4a4a4a" stroke-width="0.08" style="font-size:5.50px;" textLength="5.56" lengthAdjust="spacingAndGlyphs">80</text>
<line x1="243.53" y1="252.00" x2="243.53" y2="254.20" stroke="#222" stroke-width="0.8" stroke-linecap="butt"/>
<line x1="264.80" y1="252.00" x2="264.80" y2="254.20" stroke="#222" stroke-width="0.8" stroke-linecap="butt"/>
<line x1="286.03" y1="252.00" x2="286.03" y2="254.20" stroke="#222" stroke-width="0.8" stroke-linecap="butt"/>
<text x="138.20" y="263.40" fill="#333" stroke="#333" stroke-width="0.07" style="font-size:6.04px;" textLength="23.20" lengthAdjust="spacingAndGlyphs">untreated</text>
<text x="165.50" y="263.40" fill="#333" stroke="#333" stroke-width="0.07" style="font-size:5.94px;" textLength="12.00" lengthAdjust="spacingAndGlyphs">1 pM</text>
<text x="186.00" y="263.40" fill="#333" stroke="#333" stroke-width="0.07" style="font-size:5.64px;" textLength="11.40" lengthAdjust="spacingAndGlyphs">1 nM</text>
<text x="232.00" y="263.40" fill="#333" stroke="#333" stroke-width="0.07" style="font-size:6.04px;" textLength="23.20" lengthAdjust="spacingAndGlyphs">untreated</text>
<text x="259.30" y="263.40" fill="#333" stroke="#333" stroke-width="0.07" style="font-size:5.94px;" textLength="12.00" lengthAdjust="spacingAndGlyphs">1 pM</text>
<text x="279.80" y="263.40" fill="#333" stroke="#333" stroke-width="0.07" style="font-size:5.64px;" textLength="11.40" lengthAdjust="spacingAndGlyphs">1 nM</text>
<text x="311.40" y="170.60" text-anchor="start" fill="#000" stroke="#000" stroke-width="0.45" style="font-size:10.50px;font-weight:bold;">F</text>
<text x="371.00" y="188.60" text-anchor="middle" fill="#2b2b2b" stroke="#2b2b2b" stroke-width="0.08" style="font-size:7.81px;" textLength="42.61" lengthAdjust="spacingAndGlyphs">IFN-γ release</text>
<text x="471.60" y="179.30" text-anchor="middle" fill="#2b2b2b" stroke="#2b2b2b" stroke-width="0.08" style="font-size:7.81px;" textLength="39.85" lengthAdjust="spacingAndGlyphs">Granzyme-B</text>
<text x="471.10" y="188.60" text-anchor="middle" fill="#2b2b2b" stroke="#2b2b2b" stroke-width="0.08" style="font-size:7.81px;" textLength="23.29" lengthAdjust="spacingAndGlyphs">release</text>
<text x="317.60" y="224.00" text-anchor="middle" fill="#333" stroke="#333" stroke-width="0.08" style="font-size:6.38px;" transform="rotate(-90 317.60 224.00)" textLength="16.12" lengthAdjust="spacingAndGlyphs">pg/mL</text>
<text x="418.30" y="223.20" text-anchor="middle" fill="#333" stroke="#333" stroke-width="0.08" style="font-size:6.38px;" transform="rotate(-90 418.30 223.20)" textLength="16.12" lengthAdjust="spacingAndGlyphs">pg/mL</text>
<rect x="342.15" y="251.85" width="3.30" height="0.35" fill="#8ca9c6"/>
<rect x="348.05" y="250.79" width="3.30" height="1.41" fill="#9acca2"/>
<line x1="349.70" y1="250.79" x2="349.70" y2="249.74" stroke="#35a04c" stroke-width="0.6" stroke-linecap="butt"/>
<line x1="348.80" y1="249.74" x2="350.60" y2="249.74" stroke="#35a04c" stroke-width="0.6" stroke-linecap="butt"/>
<rect x="353.75" y="251.85" width="3.30" height="0.35" fill="#e08c9e"/>
<rect x="363.75" y="247.28" width="3.30" height="4.92" fill="#8ca9c6"/>
<line x1="365.40" y1="247.28" x2="365.40" y2="244.82" stroke="#1d4f7c" stroke-width="0.6" stroke-linecap="butt"/>
<line x1="364.50" y1="244.82" x2="366.30" y2="244.82" stroke="#1d4f7c" stroke-width="0.6" stroke-linecap="butt"/>
<rect x="369.15" y="246.58" width="3.30" height="5.62" fill="#9acca2"/>
<line x1="370.80" y1="246.58" x2="370.80" y2="243.07" stroke="#35a04c" stroke-width="0.6" stroke-linecap="butt"/>
<line x1="369.90" y1="243.07" x2="371.70" y2="243.07" stroke="#35a04c" stroke-width="0.6" stroke-linecap="butt"/>
<rect x="374.95" y="248.69" width="3.30" height="3.51" fill="#e08c9e"/>
<line x1="376.60" y1="248.69" x2="376.60" y2="246.93" stroke="#c2123c" stroke-width="0.6" stroke-linecap="butt"/>
<line x1="375.70" y1="246.93" x2="377.50" y2="246.93" stroke="#c2123c" stroke-width="0.6" stroke-linecap="butt"/>
<rect x="384.85" y="231.12" width="3.30" height="21.07" fill="#8ca9c6"/>
<line x1="386.50" y1="231.12" x2="386.50" y2="225.50" stroke="#1d4f7c" stroke-width="0.6" stroke-linecap="butt"/>
<line x1="385.60" y1="225.50" x2="387.40" y2="225.50" stroke="#1d4f7c" stroke-width="0.6" stroke-linecap="butt"/>
<rect x="390.35" y="236.04" width="3.30" height="16.16" fill="#9acca2"/>
<line x1="392.00" y1="236.04" x2="392.00" y2="229.02" stroke="#35a04c" stroke-width="0.6" stroke-linecap="butt"/>
<line x1="391.10" y1="229.02" x2="392.90" y2="229.02" stroke="#35a04c" stroke-width="0.6" stroke-linecap="butt"/>
<rect x="396.05" y="245.17" width="3.30" height="7.03" fill="#e08c9e"/>
<line x1="397.70" y1="245.17" x2="397.70" y2="241.66" stroke="#c2123c" stroke-width="0.6" stroke-linecap="butt"/>
<line x1="396.80" y1="241.66" x2="398.60" y2="241.66" stroke="#c2123c" stroke-width="0.6" stroke-linecap="butt"/>
<circle cx="343.80" cy="251.64" r="1.25" fill="#1d4f7c"/>
<circle cx="343.80" cy="251.92" r="1.25" fill="#1d4f7c"/>
<circle cx="349.70" cy="244.47" r="1.25" fill="#35a04c"/>
<circle cx="349.70" cy="250.09" r="1.25" fill="#35a04c"/>
<circle cx="349.70" cy="251.50" r="1.25" fill="#35a04c"/>
<circle cx="349.70" cy="252.20" r="1.25" fill="#35a04c"/>
<circle cx="355.40" cy="251.78" r="1.25" fill="#c2123c"/>
<circle cx="355.40" cy="251.99" r="1.25" fill="#c2123c"/>
<circle cx="365.40" cy="235.34" r="1.25" fill="#1d4f7c"/>
<circle cx="365.40" cy="241.66" r="1.25" fill="#1d4f7c"/>
<circle cx="365.40" cy="246.58" r="1.25" fill="#1d4f7c"/>
<circle cx="365.40" cy="247.98" r="1.25" fill="#1d4f7c"/>
<circle cx="365.40" cy="249.39" r="1.25" fill="#1d4f7c"/>
<circle cx="365.40" cy="250.79" r="1.25" fill="#1d4f7c"/>
<circle cx="370.80" cy="226.91" r="1.25" fill="#35a04c"/>
<circle cx="370.80" cy="240.96" r="1.25" fill="#35a04c"/>
<circle cx="370.80" cy="242.36" r="1.25" fill="#35a04c"/>
<circle cx="370.80" cy="245.17" r="1.25" fill="#35a04c"/>
<circle cx="370.80" cy="248.69" r="1.25" fill="#35a04c"/>
<circle cx="370.80" cy="250.79" r="1.25" fill="#35a04c"/>
<circle cx="376.60" cy="242.36" r="1.25" fill="#c2123c"/>
<circle cx="376.60" cy="245.17" r="1.25" fill="#c2123c"/>
<circle cx="376.60" cy="247.98" r="1.25" fill="#c2123c"/>
<circle cx="376.60" cy="250.09" r="1.25" fill="#c2123c"/>
<circle cx="376.60" cy="250.79" r="1.25" fill="#c2123c"/>
<circle cx="376.60" cy="251.50" r="1.25" fill="#c2123c"/>
<circle cx="386.50" cy="207.24" r="1.25" fill="#1d4f7c"/>
<circle cx="386.50" cy="221.99" r="1.25" fill="#1d4f7c"/>
<circle cx="386.50" cy="229.72" r="1.25" fill="#1d4f7c"/>
<circle cx="386.50" cy="231.83" r="1.25" fill="#1d4f7c"/>
<circle cx="386.50" cy="233.23" r="1.25" fill="#1d4f7c"/>
<circle cx="386.50" cy="248.69" r="1.25" fill="#1d4f7c"/>
<circle cx="386.50" cy="251.50" r="1.25" fill="#1d4f7c"/>
<circle cx="392.00" cy="207.94" r="1.25" fill="#35a04c"/>
<circle cx="392.00" cy="215.67" r="1.25" fill="#35a04c"/>
<circle cx="392.00" cy="227.61" r="1.25" fill="#35a04c"/>
<circle cx="392.00" cy="236.75" r="1.25" fill="#35a04c"/>
<circle cx="392.00" cy="239.56" r="1.25" fill="#35a04c"/>
<circle cx="392.00" cy="245.17" r="1.25" fill="#35a04c"/>
<circle cx="392.00" cy="248.69" r="1.25" fill="#35a04c"/>
<circle cx="397.70" cy="227.61" r="1.25" fill="#c2123c"/>
<circle cx="397.70" cy="243.07" r="1.25" fill="#c2123c"/>
<circle cx="397.70" cy="244.47" r="1.25" fill="#c2123c"/>
<circle cx="397.70" cy="245.88" r="1.25" fill="#c2123c"/>
<circle cx="397.70" cy="247.28" r="1.25" fill="#c2123c"/>
<circle cx="397.70" cy="249.39" r="1.25" fill="#c2123c"/>
<line x1="340.50" y1="195.70" x2="340.50" y2="252.80" stroke="#222" stroke-width="1.2" stroke-linecap="butt"/>
<line x1="339.90" y1="252.20" x2="401.50" y2="252.20" stroke="#222" stroke-width="1.25" stroke-linecap="butt"/>
<line x1="338.10" y1="252.20" x2="340.50" y2="252.20" stroke="#222" stroke-width="0.8" stroke-linecap="butt"/>
<text x="334.00" y="254.00" text-anchor="end" fill="#4a4a4a" stroke="#4a4a4a" stroke-width="0.08" style="font-size:5.50px;" textLength="2.78" lengthAdjust="spacingAndGlyphs">0</text>
<line x1="338.10" y1="238.15" x2="340.50" y2="238.15" stroke="#222" stroke-width="0.8" stroke-linecap="butt"/>
<text x="334.00" y="239.95" text-anchor="end" fill="#4a4a4a" stroke="#4a4a4a" stroke-width="0.08" style="font-size:5.50px;" textLength="11.12" lengthAdjust="spacingAndGlyphs">2000</text>
<line x1="338.10" y1="224.10" x2="340.50" y2="224.10" stroke="#222" stroke-width="0.8" stroke-linecap="butt"/>
<text x="334.00" y="225.90" text-anchor="end" fill="#4a4a4a" stroke="#4a4a4a" stroke-width="0.08" style="font-size:5.50px;" textLength="11.12" lengthAdjust="spacingAndGlyphs">4000</text>
<line x1="338.10" y1="210.05" x2="340.50" y2="210.05" stroke="#222" stroke-width="0.8" stroke-linecap="butt"/>
<text x="334.00" y="211.85" text-anchor="end" fill="#4a4a4a" stroke="#4a4a4a" stroke-width="0.08" style="font-size:5.50px;" textLength="11.12" lengthAdjust="spacingAndGlyphs">6000</text>
<line x1="338.10" y1="196.00" x2="340.50" y2="196.00" stroke="#222" stroke-width="0.8" stroke-linecap="butt"/>
<text x="334.00" y="197.80" text-anchor="end" fill="#4a4a4a" stroke="#4a4a4a" stroke-width="0.08" style="font-size:5.50px;" textLength="11.12" lengthAdjust="spacingAndGlyphs">8000</text>
<line x1="349.63" y1="252.20" x2="349.63" y2="254.40" stroke="#222" stroke-width="0.8" stroke-linecap="butt"/>
<line x1="370.93" y1="252.20" x2="370.93" y2="254.40" stroke="#222" stroke-width="0.8" stroke-linecap="butt"/>
<line x1="392.07" y1="252.20" x2="392.07" y2="254.40" stroke="#222" stroke-width="0.8" stroke-linecap="butt"/>
<rect x="442.15" y="251.50" width="3.30" height="0.70" fill="#8ca9c6"/>
<line x1="443.80" y1="251.50" x2="443.80" y2="251.22" stroke="#1d4f7c" stroke-width="0.6" stroke-linecap="butt"/>
<line x1="442.90" y1="251.22" x2="444.70" y2="251.22" stroke="#1d4f7c" stroke-width="0.6" stroke-linecap="butt"/>
<rect x="448.05" y="250.79" width="3.30" height="1.41" fill="#9acca2"/>
<line x1="449.70" y1="250.79" x2="449.70" y2="250.23" stroke="#35a04c" stroke-width="0.6" stroke-linecap="butt"/>
<line x1="448.80" y1="250.23" x2="450.60" y2="250.23" stroke="#35a04c" stroke-width="0.6" stroke-linecap="butt"/>
<rect x="453.75" y="250.79" width="3.30" height="1.41" fill="#e08c9e"/>
<line x1="455.40" y1="250.79" x2="455.40" y2="249.95" stroke="#c2123c" stroke-width="0.6" stroke-linecap="butt"/>
<line x1="454.50" y1="249.95" x2="456.30" y2="249.95" stroke="#c2123c" stroke-width="0.6" stroke-linecap="butt"/>
<rect x="463.35" y="247.98" width="3.30" height="4.22" fill="#8ca9c6"/>
<line x1="465.00" y1="247.98" x2="465.00" y2="245.88" stroke="#1d4f7c" stroke-width="0.6" stroke-linecap="butt"/>
<line x1="464.10" y1="245.88" x2="465.90" y2="245.88" stroke="#1d4f7c" stroke-width="0.6" stroke-linecap="butt"/>
<rect x="469.15" y="247.98" width="3.30" height="4.22" fill="#9acca2"/>
<line x1="470.80" y1="247.98" x2="470.80" y2="246.58" stroke="#35a04c" stroke-width="0.6" stroke-linecap="butt"/>
<line x1="469.90" y1="246.58" x2="471.70" y2="246.58" stroke="#35a04c" stroke-width="0.6" stroke-linecap="butt"/>
<rect x="474.95" y="248.69" width="3.30" height="3.51" fill="#e08c9e"/>
<line x1="476.60" y1="248.69" x2="476.60" y2="247.56" stroke="#c2123c" stroke-width="0.6" stroke-linecap="butt"/>
<line x1="475.70" y1="247.56" x2="477.50" y2="247.56" stroke="#c2123c" stroke-width="0.6" stroke-linecap="butt"/>
<rect x="484.85" y="242.36" width="3.30" height="9.84" fill="#8ca9c6"/>
<line x1="486.50" y1="242.36" x2="486.50" y2="236.75" stroke="#1d4f7c" stroke-width="0.6" stroke-linecap="butt"/>
<line x1="485.60" y1="236.75" x2="487.40" y2="236.75" stroke="#1d4f7c" stroke-width="0.6" stroke-linecap="butt"/>
<rect x="490.35" y="243.77" width="3.30" height="8.43" fill="#9acca2"/>
<line x1="492.00" y1="243.77" x2="492.00" y2="238.15" stroke="#35a04c" stroke-width="0.6" stroke-linecap="butt"/>
<line x1="491.10" y1="238.15" x2="492.90" y2="238.15" stroke="#35a04c" stroke-width="0.6" stroke-linecap="butt"/>
<rect x="496.05" y="246.58" width="3.30" height="5.62" fill="#e08c9e"/>
<line x1="497.70" y1="246.58" x2="497.70" y2="243.77" stroke="#c2123c" stroke-width="0.6" stroke-linecap="butt"/>
<line x1="496.80" y1="243.77" x2="498.60" y2="243.77" stroke="#c2123c" stroke-width="0.6" stroke-linecap="butt"/>
<circle cx="443.80" cy="250.79" r="1.25" fill="#1d4f7c"/>
<circle cx="443.80" cy="251.50" r="1.25" fill="#1d4f7c"/>
<circle cx="449.70" cy="250.09" r="1.25" fill="#35a04c"/>
<circle cx="449.70" cy="250.79" r="1.25" fill="#35a04c"/>
<circle cx="449.70" cy="251.50" r="1.25" fill="#35a04c"/>
<circle cx="455.40" cy="246.58" r="1.25" fill="#c2123c"/>
<circle cx="455.40" cy="250.79" r="1.25" fill="#c2123c"/>
<circle cx="465.00" cy="238.85" r="1.25" fill="#1d4f7c"/>
<circle cx="465.00" cy="245.17" r="1.25" fill="#1d4f7c"/>
<circle cx="465.00" cy="247.98" r="1.25" fill="#1d4f7c"/>
<circle cx="465.00" cy="249.39" r="1.25" fill="#1d4f7c"/>
<circle cx="465.00" cy="250.79" r="1.25" fill="#1d4f7c"/>
<circle cx="470.80" cy="243.77" r="1.25" fill="#35a04c"/>
<circle cx="470.80" cy="245.17" r="1.25" fill="#35a04c"/>
<circle cx="470.80" cy="246.58" r="1.25" fill="#35a04c"/>
<circle cx="470.80" cy="247.98" r="1.25" fill="#35a04c"/>
<circle cx="470.80" cy="249.39" r="1.25" fill="#35a04c"/>
<circle cx="470.80" cy="250.79" r="1.25" fill="#35a04c"/>
<circle cx="476.60" cy="245.17" r="1.25" fill="#c2123c"/>
<circle cx="476.60" cy="247.98" r="1.25" fill="#c2123c"/>
<circle cx="476.60" cy="249.39" r="1.25" fill="#c2123c"/>
<circle cx="476.60" cy="250.79" r="1.25" fill="#c2123c"/>
<circle cx="486.50" cy="208.64" r="1.25" fill="#1d4f7c"/>
<circle cx="486.50" cy="240.26" r="1.25" fill="#1d4f7c"/>
<circle cx="486.50" cy="242.36" r="1.25" fill="#1d4f7c"/>
<circle cx="486.50" cy="246.58" r="1.25" fill="#1d4f7c"/>
<circle cx="486.50" cy="247.98" r="1.25" fill="#1d4f7c"/>
<circle cx="492.00" cy="213.56" r="1.25" fill="#35a04c"/>
<circle cx="492.00" cy="238.15" r="1.25" fill="#35a04c"/>
<circle cx="492.00" cy="242.36" r="1.25" fill="#35a04c"/>
<circle cx="492.00" cy="245.17" r="1.25" fill="#35a04c"/>
<circle cx="492.00" cy="247.98" r="1.25" fill="#35a04c"/>
<circle cx="497.70" cy="237.45" r="1.25" fill="#c2123c"/>
<circle cx="497.70" cy="245.88" r="1.25" fill="#c2123c"/>
<circle cx="497.70" cy="249.39" r="1.25" fill="#c2123c"/>
<circle cx="497.70" cy="250.79" r="1.25" fill="#c2123c"/>
<line x1="440.50" y1="195.70" x2="440.50" y2="252.80" stroke="#222" stroke-width="1.2" stroke-linecap="butt"/>
<line x1="439.90" y1="252.20" x2="501.00" y2="252.20" stroke="#222" stroke-width="1.25" stroke-linecap="butt"/>
<line x1="438.10" y1="252.20" x2="440.50" y2="252.20" stroke="#222" stroke-width="0.8" stroke-linecap="butt"/>
<text x="434.80" y="254.00" text-anchor="end" fill="#4a4a4a" stroke="#4a4a4a" stroke-width="0.08" style="font-size:5.50px;" textLength="2.78" lengthAdjust="spacingAndGlyphs">0</text>
<line x1="438.10" y1="238.15" x2="440.50" y2="238.15" stroke="#222" stroke-width="0.8" stroke-linecap="butt"/>
<text x="434.80" y="239.95" text-anchor="end" fill="#4a4a4a" stroke="#4a4a4a" stroke-width="0.08" style="font-size:5.50px;" textLength="11.12" lengthAdjust="spacingAndGlyphs">1000</text>
<line x1="438.10" y1="224.10" x2="440.50" y2="224.10" stroke="#222" stroke-width="0.8" stroke-linecap="butt"/>
<text x="434.80" y="225.90" text-anchor="end" fill="#4a4a4a" stroke="#4a4a4a" stroke-width="0.08" style="font-size:5.50px;" textLength="11.12" lengthAdjust="spacingAndGlyphs">2000</text>
<line x1="438.10" y1="210.05" x2="440.50" y2="210.05" stroke="#222" stroke-width="0.8" stroke-linecap="butt"/>
<text x="434.80" y="211.85" text-anchor="end" fill="#4a4a4a" stroke="#4a4a4a" stroke-width="0.08" style="font-size:5.50px;" textLength="11.12" lengthAdjust="spacingAndGlyphs">3000</text>
<line x1="438.10" y1="196.00" x2="440.50" y2="196.00" stroke="#222" stroke-width="0.8" stroke-linecap="butt"/>
<text x="434.80" y="197.80" text-anchor="end" fill="#4a4a4a" stroke="#4a4a4a" stroke-width="0.08" style="font-size:5.50px;" textLength="11.12" lengthAdjust="spacingAndGlyphs">4000</text>
<line x1="449.63" y1="252.20" x2="449.63" y2="254.40" stroke="#222" stroke-width="0.8" stroke-linecap="butt"/>
<line x1="470.80" y1="252.20" x2="470.80" y2="254.40" stroke="#222" stroke-width="0.8" stroke-linecap="butt"/>
<line x1="492.07" y1="252.20" x2="492.07" y2="254.40" stroke="#222" stroke-width="0.8" stroke-linecap="butt"/>
<text x="338.20" y="263.30" fill="#333" stroke="#333" stroke-width="0.07" style="font-size:5.83px;" textLength="22.40" lengthAdjust="spacingAndGlyphs">untreated</text>
<text x="364.80" y="263.30" fill="#333" stroke="#333" stroke-width="0.07" style="font-size:5.89px;" textLength="11.90" lengthAdjust="spacingAndGlyphs">1 pM</text>
<text x="386.40" y="263.30" fill="#333" stroke="#333" stroke-width="0.07" style="font-size:5.49px;" textLength="11.10" lengthAdjust="spacingAndGlyphs">1 nM</text>
<text x="438.20" y="263.30" fill="#333" stroke="#333" stroke-width="0.07" style="font-size:5.83px;" textLength="22.40" lengthAdjust="spacingAndGlyphs">untreated</text>
<text x="464.80" y="263.30" fill="#333" stroke="#333" stroke-width="0.07" style="font-size:5.89px;" textLength="11.90" lengthAdjust="spacingAndGlyphs">1 pM</text>
<text x="486.40" y="263.30" fill="#333" stroke="#333" stroke-width="0.07" style="font-size:5.49px;" textLength="11.10" lengthAdjust="spacingAndGlyphs">1 nM</text>
<circle cx="369.90" cy="270.70" r="1.45" fill="#1d4f7c"/>
<text x="375.10" y="272.60" fill="#333" stroke="#333" stroke-width="0.07" style="font-size:5.67px;" textLength="25.20" lengthAdjust="spacingAndGlyphs">C1D1 PRE</text>
<circle cx="406.80" cy="270.70" r="1.45" fill="#35a04c"/>
<text x="411.70" y="272.60" fill="#333" stroke="#333" stroke-width="0.07" style="font-size:5.51px;" textLength="24.50" lengthAdjust="spacingAndGlyphs">C2D1 PRE</text>
<circle cx="442.70" cy="270.70" r="1.45" fill="#c2123c"/>
<text x="448.30" y="272.60" fill="#333" stroke="#333" stroke-width="0.07" style="font-size:5.51px;" textLength="24.50" lengthAdjust="spacingAndGlyphs">C4D1 PRE</text>
<text x="7.30" y="306.80" text-anchor="start" fill="#000" stroke="#000" stroke-width="0.45" style="font-size:10.50px;font-weight:bold;">G</text>
<text x="11.10" y="314.70" fill="#2b2b2b" stroke="#2b2b2b" stroke-width="0.08" style="font-size:5.90px;" textLength="30.40" lengthAdjust="spacingAndGlyphs">Patients with</text>
<text x="17.70" y="320.80" fill="#2b2b2b" stroke="#2b2b2b" stroke-width="0.08" style="font-size:5.90px;" textLength="17.30" lengthAdjust="spacingAndGlyphs">DLBCL</text>
<text x="6.90" y="326.90" fill="#2b2b2b" stroke="#2b2b2b" stroke-width="0.08" style="font-size:5.78px;" textLength="37.70" lengthAdjust="spacingAndGlyphs">(NCT03467373)</text>
<g transform="translate(25.60,332.50) scale(1.0)" fill="#111"><circle cx="0" cy="0" r="3.25"/><path d="M-7.1,6.4 Q-7.1,3.9 -4.6,3.9 L4.6,3.9 Q7.1,3.9 7.1,6.4 L7.1,14.3 Q7.1,15.4 5.95,15.4 Q4.8,15.4 4.8,14.3 L4.8,7.2 L3.5,7.2 L3.5,26.0 Q3.5,27.1 1.95,27.1 Q0.4,27.1 0.4,26.0 L0.4,15.6 L-0.4,15.6 L-0.4,26.0 Q-0.4,27.1 -1.95,27.1 Q-3.5,27.1 -3.5,26.0 L-3.5,7.2 L-4.8,7.2 L-4.8,14.3 Q-4.8,15.4 -5.95,15.4 Q-7.1,15.4 -7.1,14.3 Z"/></g>
<path d="M52.40,317.40 L55.60,311.40 L58.80,317.40 Z" fill="#b07a3c" stroke-linejoin="round"/>
<text x="61.60" y="316.30" fill="#b8926a" stroke="#b8926a" stroke-width="0.03" style="font-size:6.06px;" textLength="25.40" lengthAdjust="spacingAndGlyphs">glofitamab</text>
<text x="88.00" y="316.30" text-anchor="start" fill="#e6cca8" style="font-size:2.86px;" textLength="16.91" lengthAdjust="spacingAndGlyphs">(2.5/10/30 mg)</text>
<path d="M52.40,325.90 L55.60,319.90 L58.80,325.90 Z" fill="#d6247a" stroke-linejoin="round"/>
<text x="61.60" y="323.70" fill="#e0609a" stroke="#e0609a" stroke-width="0.03" style="font-size:5.63px;" textLength="14.80" lengthAdjust="spacingAndGlyphs">CHOP</text>
<path d="M52.40,334.60 L55.60,328.60 L58.80,334.60 Z" fill="#1e6a50" stroke-linejoin="round"/>
<text x="61.60" y="333.20" fill="#4a8a78" stroke="#4a8a78" stroke-width="0.03" style="font-size:5.72px;" textLength="31.80" lengthAdjust="spacingAndGlyphs">Rituximab (R)</text>
<path d="M104.60,323.20 C105.00,324.80 106.84,325.89 106.84,327.36 A2.24,2.24 0 0 1 102.36,327.36 C102.36,325.89 104.20,324.80 104.60,323.20 Z" fill="#c0103a"/>
<text x="109.20" y="325.20" fill="#2b2b2b" stroke="#2b2b2b" stroke-width="0.08" style="font-size:6.17px;" textLength="40.20" lengthAdjust="spacingAndGlyphs">peripheral blood</text>
<text x="109.20" y="331.10" fill="#2b2b2b" stroke="#2b2b2b" stroke-width="0.08" style="font-size:5.67px;" textLength="39.80" lengthAdjust="spacingAndGlyphs">(before R-CHOP)</text>
<text x="36.10" y="346.30" fill="#2b2b2b" stroke="#2b2b2b" stroke-width="0.08" style="font-size:5.26px;" textLength="27.40" lengthAdjust="spacingAndGlyphs">C1 (21 days)</text>
<line x1="39.60" y1="350.10" x2="60.70" y2="350.10" stroke="#2a2a2a" stroke-width="1.15" stroke-linecap="butt"/>
<text x="73.90" y="346.30" fill="#2b2b2b" stroke="#2b2b2b" stroke-width="0.08" style="font-size:5.38px;" textLength="28.00" lengthAdjust="spacingAndGlyphs">C2 (21 days)</text>
<line x1="65.30" y1="350.10" x2="113.50" y2="350.10" stroke="#2a2a2a" stroke-width="1.15" stroke-linecap="butt"/>
<text x="110.40" y="343.80" fill="#2b2b2b" stroke="#2b2b2b" stroke-width="0.08" style="font-size:5.92px;" textLength="33.50" lengthAdjust="spacingAndGlyphs">C3-6 up to C8</text>
<line x1="117.30" y1="346.50" x2="117.30" y2="366.50" stroke="#222" stroke-width="0.9" stroke-linecap="butt"/>
<text x="39.90" y="357.00" text-anchor="middle" fill="#2b2b2b" stroke="#2b2b2b" stroke-width="0.08" style="font-size:5.83px;" textLength="6.78" lengthAdjust="spacingAndGlyphs">D1</text>
<text x="65.30" y="357.00" text-anchor="middle" fill="#2b2b2b" stroke="#2b2b2b" stroke-width="0.08" style="font-size:5.83px;" textLength="6.78" lengthAdjust="spacingAndGlyphs">D1</text>
<text x="84.20" y="357.00" text-anchor="middle" fill="#2b2b2b" stroke="#2b2b2b" stroke-width="0.08" style="font-size:5.83px;" textLength="6.78" lengthAdjust="spacingAndGlyphs">D8</text>
<text x="98.50" y="357.00" text-anchor="middle" fill="#2b2b2b" stroke="#2b2b2b" stroke-width="0.08" style="font-size:5.83px;" textLength="9.72" lengthAdjust="spacingAndGlyphs">D15</text>
<text x="132.70" y="357.00" text-anchor="middle" fill="#2b2b2b" stroke="#2b2b2b" stroke-width="0.08" style="font-size:5.83px;" textLength="6.78" lengthAdjust="spacingAndGlyphs">D8</text>
<line x1="25.00" y1="363.00" x2="152.00" y2="363.00" stroke="#1a1a1a" stroke-width="1.3" stroke-linecap="butt"/>
<line x1="39.90" y1="360.20" x2="39.90" y2="366.60" stroke="#222" stroke-width="0.95" stroke-linecap="butt"/>
<line x1="65.30" y1="360.20" x2="65.30" y2="366.60" stroke="#222" stroke-width="0.95" stroke-linecap="butt"/>
<line x1="84.20" y1="360.20" x2="84.20" y2="366.60" stroke="#222" stroke-width="0.95" stroke-linecap="butt"/>
<line x1="98.50" y1="360.20" x2="98.50" y2="366.60" stroke="#222" stroke-width="0.95" stroke-linecap="butt"/>
<line x1="132.70" y1="360.20" x2="132.70" y2="366.60" stroke="#222" stroke-width="0.95" stroke-linecap="butt"/>
<line x1="152.20" y1="358.80" x2="152.20" y2="366.60" stroke="#222" stroke-width="0.8" stroke-linecap="butt"/>
<circle cx="34.50" cy="363.00" r="1.9" fill="#111"/>
<circle cx="60.10" cy="363.00" r="1.9" fill="#111"/>
<circle cx="111.90" cy="363.00" r="1.9" fill="#111"/>
<circle cx="149.60" cy="363.00" r="1.9" fill="#111"/>
<path d="M35.80,381.30 L38.70,374.90 L41.60,381.30 Z" fill="#1e6a50" stroke-linejoin="round"/>
<path d="M38.80,381.30 L41.70,374.90 L44.60,381.30 Z" fill="#d6247a" stroke-linejoin="round"/>
<path d="M61.90,381.30 L64.80,374.90 L67.70,381.30 Z" fill="#1e6a50" stroke-linejoin="round"/>
<path d="M64.90,381.30 L67.80,374.90 L70.70,381.30 Z" fill="#d6247a" stroke-linejoin="round"/>
<path d="M113.50,381.30 L116.40,374.90 L119.30,381.30 Z" fill="#1e6a50" stroke-linejoin="round"/>
<path d="M116.50,381.30 L119.40,374.90 L122.30,381.30 Z" fill="#d6247a" stroke-linejoin="round"/>
<text x="84.20" y="373.60" text-anchor="middle" fill="#d4a868" style="font-size:5.28px;" textLength="6.67" lengthAdjust="spacingAndGlyphs">2.5</text>
<path d="M81.30,381.40 L84.20,375.20 L87.10,381.40 Z" fill="#b07a3c" stroke-linejoin="round"/>
<text x="98.80" y="373.60" text-anchor="middle" fill="#d4a868" style="font-size:5.28px;" textLength="5.34" lengthAdjust="spacingAndGlyphs">10</text>
<path d="M95.90,381.40 L98.80,375.20 L101.70,381.40 Z" fill="#b07a3c" stroke-linejoin="round"/>
<text x="132.70" y="373.60" text-anchor="middle" fill="#d4a868" style="font-size:5.28px;" textLength="5.34" lengthAdjust="spacingAndGlyphs">30</text>
<path d="M129.80,381.40 L132.70,375.20 L135.60,381.40 Z" fill="#b07a3c" stroke-linejoin="round"/>
<line x1="85.10" y1="387.50" x2="97.90" y2="387.50" stroke="#2a2a2a" stroke-width="1.1" stroke-linecap="butt"/>
<text x="99.90" y="389.30" fill="#2b2b2b" stroke="#2b2b2b" stroke-width="0.08" style="font-size:5.64px;" textLength="9.40" lengthAdjust="spacingAndGlyphs">D21</text>
<line x1="110.70" y1="387.50" x2="132.90" y2="387.50" stroke="#2a2a2a" stroke-width="1.1" stroke-linecap="butt"/>
<line x1="34.50" y1="365.00" x2="34.50" y2="393.60" stroke="#333" stroke-width="1.15" stroke-dasharray="2.9,1.6" stroke-linecap="butt"/>
<path d="M32.30,392.80 L34.50,393.70 L36.70,392.80 L34.50,397.60 Z" fill="#111"/>
<path d="M34.50,400.80 C34.90,402.55 36.95,403.74 36.95,405.35 A2.45,2.45 0 0 1 32.05,405.35 C32.05,403.74 34.10,402.55 34.50,400.80 Z" fill="#c0103a"/>
<text x="22.90" y="414.60" fill="#2b2b2b" stroke="#2b2b2b" stroke-width="0.08" style="font-size:5.76px;" textLength="23.00" lengthAdjust="spacingAndGlyphs">C1D1 Pre</text>
<line x1="60.10" y1="365.00" x2="60.10" y2="393.60" stroke="#333" stroke-width="1.15" stroke-dasharray="2.9,1.6" stroke-linecap="butt"/>
<path d="M57.90,392.80 L60.10,393.70 L62.30,392.80 L60.10,397.60 Z" fill="#111"/>
<path d="M60.10,400.80 C60.50,402.55 62.55,403.74 62.55,405.35 A2.45,2.45 0 0 1 57.65,405.35 C57.65,403.74 59.70,402.55 60.10,400.80 Z" fill="#c0103a"/>
<text x="48.20" y="414.60" fill="#2b2b2b" stroke="#2b2b2b" stroke-width="0.08" style="font-size:5.79px;" textLength="23.10" lengthAdjust="spacingAndGlyphs">C2D1 Pre</text>
<line x1="111.90" y1="365.00" x2="111.90" y2="393.60" stroke="#333" stroke-width="1.15" stroke-dasharray="2.9,1.6" stroke-linecap="butt"/>
<path d="M109.70,392.80 L111.90,393.70 L114.10,392.80 L111.90,397.60 Z" fill="#111"/>
<path d="M111.90,400.80 C112.30,402.55 114.35,403.74 114.35,405.35 A2.45,2.45 0 0 1 109.45,405.35 C109.45,403.74 111.50,402.55 111.90,400.80 Z" fill="#c0103a"/>
<text x="99.90" y="414.60" fill="#2b2b2b" stroke="#2b2b2b" stroke-width="0.08" style="font-size:5.74px;" textLength="22.90" lengthAdjust="spacingAndGlyphs">C3D1 Pre</text>
<line x1="149.60" y1="365.00" x2="149.60" y2="393.60" stroke="#333" stroke-width="1.15" stroke-dasharray="2.9,1.6" stroke-linecap="butt"/>
<path d="M147.40,392.80 L149.60,393.70 L151.80,392.80 L149.60,397.60 Z" fill="#111"/>
<path d="M149.60,400.80 C150.00,402.55 152.05,403.74 152.05,405.35 A2.45,2.45 0 0 1 147.15,405.35 C147.15,403.74 149.20,402.55 149.60,400.80 Z" fill="#c0103a"/>
<text x="138.20" y="414.60" fill="#2b2b2b" stroke="#2b2b2b" stroke-width="0.08" style="font-size:5.76px;" textLength="23.00" lengthAdjust="spacingAndGlyphs">C4D1 Pre</text>
<text x="176.80" y="306.80" text-anchor="start" fill="#000" stroke="#000" stroke-width="0.45" style="font-size:10.50px;font-weight:bold;">H</text>
<text x="182.30" y="359.80" text-anchor="middle" fill="#3a3a3a" stroke="#3a3a3a" stroke-width="0.1" style="font-size:6.49px;" transform="rotate(-90 182.30 359.80)" textLength="65.05" lengthAdjust="spacingAndGlyphs">Absolute counts [cells/µl]</text>
<text x="227.40" y="326.30" text-anchor="middle" fill="#2b2b2b" stroke="#2b2b2b" stroke-width="0.08" style="font-size:7.92px;" textLength="27.62" lengthAdjust="spacingAndGlyphs">patient 1</text>
<line x1="205.40" y1="333.70" x2="205.40" y2="388.90" stroke="#222" stroke-width="1.2" stroke-linecap="butt"/>
<line x1="204.80" y1="388.30" x2="249.00" y2="388.30" stroke="#222" stroke-width="1.25" stroke-linecap="butt"/>
<line x1="203.10" y1="388.30" x2="205.40" y2="388.30" stroke="#222" stroke-width="0.8" stroke-linecap="butt"/>
<text x="197.05" y="390.15" fill="#4a4a4a" stroke="#4a4a4a" stroke-width="0.08" style="font-size:5.83px;" textLength="2.95" lengthAdjust="spacingAndGlyphs">0</text>
<line x1="203.10" y1="374.73" x2="205.40" y2="374.73" stroke="#222" stroke-width="0.8" stroke-linecap="butt"/>
<text x="191.16" y="376.58" fill="#4a4a4a" stroke="#4a4a4a" stroke-width="0.08" style="font-size:5.83px;" textLength="8.84" lengthAdjust="spacingAndGlyphs">500</text>
<line x1="203.10" y1="361.15" x2="205.40" y2="361.15" stroke="#222" stroke-width="0.8" stroke-linecap="butt"/>
<text x="188.21" y="363.00" fill="#4a4a4a" stroke="#4a4a4a" stroke-width="0.08" style="font-size:5.83px;" textLength="11.79" lengthAdjust="spacingAndGlyphs">1000</text>
<line x1="203.10" y1="347.57" x2="205.40" y2="347.57" stroke="#222" stroke-width="0.8" stroke-linecap="butt"/>
<text x="188.21" y="349.43" fill="#4a4a4a" stroke="#4a4a4a" stroke-width="0.08" style="font-size:5.83px;" textLength="11.79" lengthAdjust="spacingAndGlyphs">1500</text>
<line x1="203.10" y1="334.00" x2="205.40" y2="334.00" stroke="#222" stroke-width="0.8" stroke-linecap="butt"/>
<text x="188.21" y="335.85" fill="#4a4a4a" stroke="#4a4a4a" stroke-width="0.08" style="font-size:5.83px;" textLength="11.79" lengthAdjust="spacingAndGlyphs">2000</text>
<line x1="210.90" y1="388.30" x2="210.90" y2="390.80" stroke="#222" stroke-width="0.8" stroke-linecap="butt"/>
<text x="214.90" y="397.30" text-anchor="end" fill="#505050" stroke="#505050" stroke-width="0.1" style="font-size:5.50px;" transform="rotate(-45 214.90 397.30)" textLength="24.45" lengthAdjust="spacingAndGlyphs">C1D1 PRE</text>
<line x1="221.80" y1="388.30" x2="221.80" y2="390.80" stroke="#222" stroke-width="0.8" stroke-linecap="butt"/>
<text x="225.80" y="397.30" text-anchor="end" fill="#505050" stroke="#505050" stroke-width="0.1" style="font-size:5.50px;" transform="rotate(-45 225.80 397.30)" textLength="24.45" lengthAdjust="spacingAndGlyphs">C2D1 PRE</text>
<line x1="232.60" y1="388.30" x2="232.60" y2="390.80" stroke="#222" stroke-width="0.8" stroke-linecap="butt"/>
<text x="236.60" y="397.30" text-anchor="end" fill="#505050" stroke="#505050" stroke-width="0.1" style="font-size:5.50px;" transform="rotate(-45 236.60 397.30)" textLength="24.45" lengthAdjust="spacingAndGlyphs">C3D1 PRE</text>
<line x1="243.50" y1="388.30" x2="243.50" y2="390.80" stroke="#222" stroke-width="0.8" stroke-linecap="butt"/>
<text x="247.50" y="397.30" text-anchor="end" fill="#505050" stroke="#505050" stroke-width="0.1" style="font-size:5.50px;" transform="rotate(-45 247.50 397.30)" textLength="24.45" lengthAdjust="spacingAndGlyphs">C4D1 PRE</text>
<polyline points="210.90,340.79 221.80,371.47 232.60,380.70 243.50,369.30" fill="none" stroke="#f5a034" stroke-width="0.8"/>
<circle cx="210.90" cy="340.79" r="1.6" fill="#f5a034"/>
<circle cx="221.80" cy="371.47" r="1.6" fill="#f5a034"/>
<circle cx="232.60" cy="380.70" r="1.6" fill="#f5a034"/>
<circle cx="243.50" cy="369.30" r="1.6" fill="#f5a034"/>
<polyline points="210.90,348.39 221.80,375.00 232.60,382.06 243.50,376.35" fill="none" stroke="#c8208a" stroke-width="0.8"/>
<circle cx="210.90" cy="348.39" r="1.6" fill="#c8208a"/>
<circle cx="221.80" cy="375.00" r="1.6" fill="#c8208a"/>
<circle cx="232.60" cy="382.06" r="1.6" fill="#c8208a"/>
<circle cx="243.50" cy="376.35" r="1.6" fill="#c8208a"/>
<polyline points="210.90,381.24 221.80,384.77 232.60,386.94 243.50,381.24" fill="none" stroke="#1d4f7c" stroke-width="0.8"/>
<circle cx="210.90" cy="381.24" r="1.6" fill="#1d4f7c"/>
<circle cx="221.80" cy="384.77" r="1.6" fill="#1d4f7c"/>
<circle cx="232.60" cy="386.94" r="1.6" fill="#1d4f7c"/>
<circle cx="243.50" cy="381.24" r="1.6" fill="#1d4f7c"/>
<text x="293.30" y="326.30" text-anchor="middle" fill="#2b2b2b" stroke="#2b2b2b" stroke-width="0.08" style="font-size:7.92px;" textLength="27.62" lengthAdjust="spacingAndGlyphs">patient 2</text>
<line x1="271.30" y1="333.70" x2="271.30" y2="388.90" stroke="#222" stroke-width="1.2" stroke-linecap="butt"/>
<line x1="270.70" y1="388.30" x2="314.90" y2="388.30" stroke="#222" stroke-width="1.25" stroke-linecap="butt"/>
<line x1="269.00" y1="388.30" x2="271.30" y2="388.30" stroke="#222" stroke-width="0.8" stroke-linecap="butt"/>
<text x="262.95" y="390.15" fill="#4a4a4a" stroke="#4a4a4a" stroke-width="0.08" style="font-size:5.83px;" textLength="2.95" lengthAdjust="spacingAndGlyphs">0</text>
<line x1="269.00" y1="374.73" x2="271.30" y2="374.73" stroke="#222" stroke-width="0.8" stroke-linecap="butt"/>
<text x="257.06" y="376.58" fill="#4a4a4a" stroke="#4a4a4a" stroke-width="0.08" style="font-size:5.83px;" textLength="8.84" lengthAdjust="spacingAndGlyphs">500</text>
<line x1="269.00" y1="361.15" x2="271.30" y2="361.15" stroke="#222" stroke-width="0.8" stroke-linecap="butt"/>
<text x="254.11" y="363.00" fill="#4a4a4a" stroke="#4a4a4a" stroke-width="0.08" style="font-size:5.83px;" textLength="11.79" lengthAdjust="spacingAndGlyphs">1000</text>
<line x1="269.00" y1="347.57" x2="271.30" y2="347.57" stroke="#222" stroke-width="0.8" stroke-linecap="butt"/>
<text x="254.11" y="349.43" fill="#4a4a4a" stroke="#4a4a4a" stroke-width="0.08" style="font-size:5.83px;" textLength="11.79" lengthAdjust="spacingAndGlyphs">1500</text>
<line x1="269.00" y1="334.00" x2="271.30" y2="334.00" stroke="#222" stroke-width="0.8" stroke-linecap="butt"/>
<text x="254.11" y="335.85" fill="#4a4a4a" stroke="#4a4a4a" stroke-width="0.08" style="font-size:5.83px;" textLength="11.79" lengthAdjust="spacingAndGlyphs">2000</text>
<line x1="276.80" y1="388.30" x2="276.80" y2="390.80" stroke="#222" stroke-width="0.8" stroke-linecap="butt"/>
<text x="280.80" y="397.30" text-anchor="end" fill="#505050" stroke="#505050" stroke-width="0.1" style="font-size:5.50px;" transform="rotate(-45 280.80 397.30)" textLength="24.45" lengthAdjust="spacingAndGlyphs">C1D1 PRE</text>
<line x1="287.70" y1="388.30" x2="287.70" y2="390.80" stroke="#222" stroke-width="0.8" stroke-linecap="butt"/>
<text x="291.70" y="397.30" text-anchor="end" fill="#505050" stroke="#505050" stroke-width="0.1" style="font-size:5.50px;" transform="rotate(-45 291.70 397.30)" textLength="24.45" lengthAdjust="spacingAndGlyphs">C2D1 PRE</text>
<line x1="298.50" y1="388.30" x2="298.50" y2="390.80" stroke="#222" stroke-width="0.8" stroke-linecap="butt"/>
<text x="302.50" y="397.30" text-anchor="end" fill="#505050" stroke="#505050" stroke-width="0.1" style="font-size:5.50px;" transform="rotate(-45 302.50 397.30)" textLength="24.45" lengthAdjust="spacingAndGlyphs">C3D1 PRE</text>
<line x1="309.40" y1="388.30" x2="309.40" y2="390.80" stroke="#222" stroke-width="0.8" stroke-linecap="butt"/>
<text x="313.40" y="397.30" text-anchor="end" fill="#505050" stroke="#505050" stroke-width="0.1" style="font-size:5.50px;" transform="rotate(-45 313.40 397.30)" textLength="24.45" lengthAdjust="spacingAndGlyphs">C4D1 PRE</text>
<polyline points="276.80,373.10 287.70,352.19 298.50,374.59 309.40,384.55" fill="none" stroke="#f5a034" stroke-width="0.8"/>
<circle cx="276.80" cy="373.10" r="1.6" fill="#f5a034"/>
<circle cx="287.70" cy="352.19" r="1.6" fill="#f5a034"/>
<circle cx="298.50" cy="374.59" r="1.6" fill="#f5a034"/>
<circle cx="309.40" cy="384.55" r="1.6" fill="#f5a034"/>
<polyline points="276.80,378.34 287.70,362.15 298.50,377.09 309.40,385.07" fill="none" stroke="#c8208a" stroke-width="0.8"/>
<circle cx="276.80" cy="378.34" r="1.6" fill="#c8208a"/>
<circle cx="287.70" cy="362.15" r="1.6" fill="#c8208a"/>
<circle cx="298.50" cy="377.09" r="1.6" fill="#c8208a"/>
<circle cx="309.40" cy="385.07" r="1.6" fill="#c8208a"/>
<polyline points="276.80,384.06 287.70,379.10 298.50,385.80 309.40,387.54" fill="none" stroke="#1d4f7c" stroke-width="0.8"/>
<circle cx="276.80" cy="384.06" r="1.6" fill="#1d4f7c"/>
<circle cx="287.70" cy="379.10" r="1.6" fill="#1d4f7c"/>
<circle cx="298.50" cy="385.80" r="1.6" fill="#1d4f7c"/>
<circle cx="309.40" cy="387.54" r="1.6" fill="#1d4f7c"/>
<text x="359.10" y="326.30" text-anchor="middle" fill="#2b2b2b" stroke="#2b2b2b" stroke-width="0.08" style="font-size:7.92px;" textLength="27.62" lengthAdjust="spacingAndGlyphs">patient 3</text>
<line x1="337.10" y1="333.70" x2="337.10" y2="388.90" stroke="#222" stroke-width="1.2" stroke-linecap="butt"/>
<line x1="336.50" y1="388.30" x2="380.70" y2="388.30" stroke="#222" stroke-width="1.25" stroke-linecap="butt"/>
<line x1="334.80" y1="388.30" x2="337.10" y2="388.30" stroke="#222" stroke-width="0.8" stroke-linecap="butt"/>
<text x="328.75" y="390.15" fill="#4a4a4a" stroke="#4a4a4a" stroke-width="0.08" style="font-size:5.83px;" textLength="2.95" lengthAdjust="spacingAndGlyphs">0</text>
<line x1="334.80" y1="374.73" x2="337.10" y2="374.73" stroke="#222" stroke-width="0.8" stroke-linecap="butt"/>
<text x="322.86" y="376.58" fill="#4a4a4a" stroke="#4a4a4a" stroke-width="0.08" style="font-size:5.83px;" textLength="8.84" lengthAdjust="spacingAndGlyphs">500</text>
<line x1="334.80" y1="361.15" x2="337.10" y2="361.15" stroke="#222" stroke-width="0.8" stroke-linecap="butt"/>
<text x="319.91" y="363.00" fill="#4a4a4a" stroke="#4a4a4a" stroke-width="0.08" style="font-size:5.83px;" textLength="11.79" lengthAdjust="spacingAndGlyphs">1000</text>
<line x1="334.80" y1="347.57" x2="337.10" y2="347.57" stroke="#222" stroke-width="0.8" stroke-linecap="butt"/>
<text x="319.91" y="349.43" fill="#4a4a4a" stroke="#4a4a4a" stroke-width="0.08" style="font-size:5.83px;" textLength="11.79" lengthAdjust="spacingAndGlyphs">1500</text>
<line x1="334.80" y1="334.00" x2="337.10" y2="334.00" stroke="#222" stroke-width="0.8" stroke-linecap="butt"/>
<text x="319.91" y="335.85" fill="#4a4a4a" stroke="#4a4a4a" stroke-width="0.08" style="font-size:5.83px;" textLength="11.79" lengthAdjust="spacingAndGlyphs">2000</text>
<line x1="342.60" y1="388.30" x2="342.60" y2="390.80" stroke="#222" stroke-width="0.8" stroke-linecap="butt"/>
<text x="346.60" y="397.30" text-anchor="end" fill="#505050" stroke="#505050" stroke-width="0.1" style="font-size:5.50px;" transform="rotate(-45 346.60 397.30)" textLength="24.45" lengthAdjust="spacingAndGlyphs">C1D1 PRE</text>
<line x1="353.50" y1="388.30" x2="353.50" y2="390.80" stroke="#222" stroke-width="0.8" stroke-linecap="butt"/>
<text x="357.50" y="397.30" text-anchor="end" fill="#505050" stroke="#505050" stroke-width="0.1" style="font-size:5.50px;" transform="rotate(-45 357.50 397.30)" textLength="24.45" lengthAdjust="spacingAndGlyphs">C2D1 PRE</text>
<line x1="364.30" y1="388.30" x2="364.30" y2="390.80" stroke="#222" stroke-width="0.8" stroke-linecap="butt"/>
<text x="368.30" y="397.30" text-anchor="end" fill="#505050" stroke="#505050" stroke-width="0.1" style="font-size:5.50px;" transform="rotate(-45 368.30 397.30)" textLength="24.45" lengthAdjust="spacingAndGlyphs">C3D1 PRE</text>
<line x1="375.20" y1="388.30" x2="375.20" y2="390.80" stroke="#222" stroke-width="0.8" stroke-linecap="butt"/>
<text x="379.20" y="397.30" text-anchor="end" fill="#505050" stroke="#505050" stroke-width="0.1" style="font-size:5.50px;" transform="rotate(-45 379.20 397.30)" textLength="24.45" lengthAdjust="spacingAndGlyphs">C4D1 PRE</text>
<polyline points="342.60,366.39 353.50,367.64 375.20,380.59" fill="none" stroke="#f5a034" stroke-width="0.8"/>
<circle cx="342.60" cy="366.39" r="1.6" fill="#f5a034"/>
<circle cx="353.50" cy="367.64" r="1.6" fill="#f5a034"/>
<circle cx="375.20" cy="380.59" r="1.6" fill="#f5a034"/>
<polyline points="342.60,381.78 353.50,380.59 375.20,384.55" fill="none" stroke="#c8208a" stroke-width="0.8"/>
<circle cx="342.60" cy="381.78" r="1.6" fill="#c8208a"/>
<circle cx="353.50" cy="380.59" r="1.6" fill="#c8208a"/>
<circle cx="375.20" cy="384.55" r="1.6" fill="#c8208a"/>
<polyline points="342.60,373.29 353.50,374.86 375.20,384.55" fill="none" stroke="#1d4f7c" stroke-width="0.8"/>
<circle cx="342.60" cy="373.29" r="1.6" fill="#1d4f7c"/>
<circle cx="353.50" cy="374.86" r="1.6" fill="#1d4f7c"/>
<circle cx="375.20" cy="384.55" r="1.6" fill="#1d4f7c"/>
<text x="425.70" y="326.30" text-anchor="middle" fill="#2b2b2b" stroke="#2b2b2b" stroke-width="0.08" style="font-size:7.92px;" textLength="27.62" lengthAdjust="spacingAndGlyphs">patient 4</text>
<line x1="403.70" y1="333.70" x2="403.70" y2="388.90" stroke="#222" stroke-width="1.2" stroke-linecap="butt"/>
<line x1="403.10" y1="388.30" x2="447.30" y2="388.30" stroke="#222" stroke-width="1.25" stroke-linecap="butt"/>
<line x1="401.40" y1="388.30" x2="403.70" y2="388.30" stroke="#222" stroke-width="0.8" stroke-linecap="butt"/>
<text x="395.35" y="390.15" fill="#4a4a4a" stroke="#4a4a4a" stroke-width="0.08" style="font-size:5.83px;" textLength="2.95" lengthAdjust="spacingAndGlyphs">0</text>
<line x1="401.40" y1="374.73" x2="403.70" y2="374.73" stroke="#222" stroke-width="0.8" stroke-linecap="butt"/>
<text x="389.46" y="376.58" fill="#4a4a4a" stroke="#4a4a4a" stroke-width="0.08" style="font-size:5.83px;" textLength="8.84" lengthAdjust="spacingAndGlyphs">500</text>
<line x1="401.40" y1="361.15" x2="403.70" y2="361.15" stroke="#222" stroke-width="0.8" stroke-linecap="butt"/>
<text x="386.51" y="363.00" fill="#4a4a4a" stroke="#4a4a4a" stroke-width="0.08" style="font-size:5.83px;" textLength="11.79" lengthAdjust="spacingAndGlyphs">1000</text>
<line x1="401.40" y1="347.57" x2="403.70" y2="347.57" stroke="#222" stroke-width="0.8" stroke-linecap="butt"/>
<text x="386.51" y="349.43" fill="#4a4a4a" stroke="#4a4a4a" stroke-width="0.08" style="font-size:5.83px;" textLength="11.79" lengthAdjust="spacingAndGlyphs">1500</text>
<line x1="401.40" y1="334.00" x2="403.70" y2="334.00" stroke="#222" stroke-width="0.8" stroke-linecap="butt"/>
<text x="386.51" y="335.85" fill="#4a4a4a" stroke="#4a4a4a" stroke-width="0.08" style="font-size:5.83px;" textLength="11.79" lengthAdjust="spacingAndGlyphs">2000</text>
<line x1="409.20" y1="388.30" x2="409.20" y2="390.80" stroke="#222" stroke-width="0.8" stroke-linecap="butt"/>
<text x="413.20" y="397.30" text-anchor="end" fill="#505050" stroke="#505050" stroke-width="0.1" style="font-size:5.50px;" transform="rotate(-45 413.20 397.30)" textLength="24.45" lengthAdjust="spacingAndGlyphs">C1D1 PRE</text>
<line x1="420.10" y1="388.30" x2="420.10" y2="390.80" stroke="#222" stroke-width="0.8" stroke-linecap="butt"/>
<text x="424.10" y="397.30" text-anchor="end" fill="#505050" stroke="#505050" stroke-width="0.1" style="font-size:5.50px;" transform="rotate(-45 424.10 397.30)" textLength="24.45" lengthAdjust="spacingAndGlyphs">C2D1 PRE</text>
<line x1="430.90" y1="388.30" x2="430.90" y2="390.80" stroke="#222" stroke-width="0.8" stroke-linecap="butt"/>
<text x="434.90" y="397.30" text-anchor="end" fill="#505050" stroke="#505050" stroke-width="0.1" style="font-size:5.50px;" transform="rotate(-45 434.90 397.30)" textLength="24.45" lengthAdjust="spacingAndGlyphs">C3D1 PRE</text>
<line x1="441.80" y1="388.30" x2="441.80" y2="390.80" stroke="#222" stroke-width="0.8" stroke-linecap="butt"/>
<text x="445.80" y="397.30" text-anchor="end" fill="#505050" stroke="#505050" stroke-width="0.1" style="font-size:5.50px;" transform="rotate(-45 445.80 397.30)" textLength="24.45" lengthAdjust="spacingAndGlyphs">C4D1 PRE</text>
<polyline points="409.20,367.64 420.10,370.63 441.80,375.84" fill="none" stroke="#f5a034" stroke-width="0.8"/>
<circle cx="409.20" cy="367.64" r="1.6" fill="#f5a034"/>
<circle cx="420.10" cy="370.63" r="1.6" fill="#f5a034"/>
<circle cx="441.80" cy="375.84" r="1.6" fill="#f5a034"/>
<polyline points="409.20,378.34 420.10,380.83 441.80,383.06" fill="none" stroke="#c8208a" stroke-width="0.8"/>
<circle cx="409.20" cy="378.34" r="1.6" fill="#c8208a"/>
<circle cx="420.10" cy="380.83" r="1.6" fill="#c8208a"/>
<circle cx="441.80" cy="383.06" r="1.6" fill="#c8208a"/>
<polyline points="409.20,378.34 420.10,378.82 441.80,381.32" fill="none" stroke="#1d4f7c" stroke-width="0.8"/>
<circle cx="409.20" cy="378.34" r="1.6" fill="#1d4f7c"/>
<circle cx="420.10" cy="378.82" r="1.6" fill="#1d4f7c"/>
<circle cx="441.80" cy="381.32" r="1.6" fill="#1d4f7c"/>
<text x="491.50" y="326.30" text-anchor="middle" fill="#2b2b2b" stroke="#2b2b2b" stroke-width="0.08" style="font-size:7.92px;" textLength="27.62" lengthAdjust="spacingAndGlyphs">patient 5</text>
<line x1="469.50" y1="333.70" x2="469.50" y2="388.90" stroke="#222" stroke-width="1.2" stroke-linecap="butt"/>
<line x1="468.90" y1="388.30" x2="513.10" y2="388.30" stroke="#222" stroke-width="1.25" stroke-linecap="butt"/>
<line x1="467.20" y1="388.30" x2="469.50" y2="388.30" stroke="#222" stroke-width="0.8" stroke-linecap="butt"/>
<text x="461.15" y="390.15" fill="#4a4a4a" stroke="#4a4a4a" stroke-width="0.08" style="font-size:5.83px;" textLength="2.95" lengthAdjust="spacingAndGlyphs">0</text>
<line x1="467.20" y1="374.73" x2="469.50" y2="374.73" stroke="#222" stroke-width="0.8" stroke-linecap="butt"/>
<text x="455.26" y="376.58" fill="#4a4a4a" stroke="#4a4a4a" stroke-width="0.08" style="font-size:5.83px;" textLength="8.84" lengthAdjust="spacingAndGlyphs">500</text>
<line x1="467.20" y1="361.15" x2="469.50" y2="361.15" stroke="#222" stroke-width="0.8" stroke-linecap="butt"/>
<text x="452.31" y="363.00" fill="#4a4a4a" stroke="#4a4a4a" stroke-width="0.08" style="font-size:5.83px;" textLength="11.79" lengthAdjust="spacingAndGlyphs">1000</text>
<line x1="467.20" y1="347.57" x2="469.50" y2="347.57" stroke="#222" stroke-width="0.8" stroke-linecap="butt"/>
<text x="452.31" y="349.43" fill="#4a4a4a" stroke="#4a4a4a" stroke-width="0.08" style="font-size:5.83px;" textLength="11.79" lengthAdjust="spacingAndGlyphs">1500</text>
<line x1="467.20" y1="334.00" x2="469.50" y2="334.00" stroke="#222" stroke-width="0.8" stroke-linecap="butt"/>
<text x="452.31" y="335.85" fill="#4a4a4a" stroke="#4a4a4a" stroke-width="0.08" style="font-size:5.83px;" textLength="11.79" lengthAdjust="spacingAndGlyphs">2000</text>
<line x1="475.00" y1="388.30" x2="475.00" y2="390.80" stroke="#222" stroke-width="0.8" stroke-linecap="butt"/>
<text x="479.00" y="397.30" text-anchor="end" fill="#505050" stroke="#505050" stroke-width="0.1" style="font-size:5.50px;" transform="rotate(-45 479.00 397.30)" textLength="24.45" lengthAdjust="spacingAndGlyphs">C1D1 PRE</text>
<line x1="485.90" y1="388.30" x2="485.90" y2="390.80" stroke="#222" stroke-width="0.8" stroke-linecap="butt"/>
<text x="489.90" y="397.30" text-anchor="end" fill="#505050" stroke="#505050" stroke-width="0.1" style="font-size:5.50px;" transform="rotate(-45 489.90 397.30)" textLength="24.45" lengthAdjust="spacingAndGlyphs">C2D1 PRE</text>
<line x1="496.70" y1="388.30" x2="496.70" y2="390.80" stroke="#222" stroke-width="0.8" stroke-linecap="butt"/>
<text x="500.70" y="397.30" text-anchor="end" fill="#505050" stroke="#505050" stroke-width="0.1" style="font-size:5.50px;" transform="rotate(-45 500.70 397.30)" textLength="24.45" lengthAdjust="spacingAndGlyphs">C3D1 PRE</text>
<line x1="507.60" y1="388.30" x2="507.60" y2="390.80" stroke="#222" stroke-width="0.8" stroke-linecap="butt"/>
<text x="511.60" y="397.30" text-anchor="end" fill="#505050" stroke="#505050" stroke-width="0.1" style="font-size:5.50px;" transform="rotate(-45 511.60 397.30)" textLength="24.45" lengthAdjust="spacingAndGlyphs">C4D1 PRE</text>
<polyline points="475.00,348.44 485.90,348.20 496.70,374.59 507.60,370.11" fill="none" stroke="#f5a034" stroke-width="0.8"/>
<circle cx="475.00" cy="348.44" r="1.6" fill="#f5a034"/>
<circle cx="485.90" cy="348.20" r="1.6" fill="#f5a034"/>
<circle cx="496.70" cy="374.59" r="1.6" fill="#f5a034"/>
<circle cx="507.60" cy="370.11" r="1.6" fill="#f5a034"/>
<polyline points="475.00,370.87 485.90,366.88 496.70,382.08 507.60,377.58" fill="none" stroke="#c8208a" stroke-width="0.8"/>
<circle cx="475.00" cy="370.87" r="1.6" fill="#c8208a"/>
<circle cx="485.90" cy="366.88" r="1.6" fill="#c8208a"/>
<circle cx="496.70" cy="382.08" r="1.6" fill="#c8208a"/>
<circle cx="507.60" cy="377.58" r="1.6" fill="#c8208a"/>
<polyline points="475.00,365.14 485.90,367.64 496.70,381.32 507.60,380.07" fill="none" stroke="#1d4f7c" stroke-width="0.8"/>
<circle cx="475.00" cy="365.14" r="1.6" fill="#1d4f7c"/>
<circle cx="485.90" cy="367.64" r="1.6" fill="#1d4f7c"/>
<circle cx="496.70" cy="381.32" r="1.6" fill="#1d4f7c"/>
<circle cx="507.60" cy="380.07" r="1.6" fill="#1d4f7c"/>
<line x1="294.40" y1="423.50" x2="299.60" y2="423.50" stroke="#f5a034" stroke-width="0.8" stroke-linecap="butt"/>
<circle cx="297.00" cy="423.50" r="1.2" fill="#f5a034"/>
<text x="303.40" y="425.30" fill="#2b2b2b" stroke="#2b2b2b" stroke-width="0.08" style="font-size:5.28px;" textLength="28.20" lengthAdjust="spacingAndGlyphs">CD3<tspan dy="-2.0" style="font-size:3.8px">+</tspan><tspan dy="2.0">​</tspan> T cells</text>
<line x1="341.00" y1="423.50" x2="346.20" y2="423.50" stroke="#1d4f7c" stroke-width="0.8" stroke-linecap="butt"/>
<circle cx="343.60" cy="423.50" r="1.2" fill="#1d4f7c"/>
<text x="349.40" y="425.30" fill="#2b2b2b" stroke="#2b2b2b" stroke-width="0.08" style="font-size:5.28px;" textLength="28.60" lengthAdjust="spacingAndGlyphs">CD8<tspan dy="-2.0" style="font-size:3.8px">+</tspan><tspan dy="2.0">​</tspan> T cells</text>
<line x1="385.60" y1="423.50" x2="390.80" y2="423.50" stroke="#c8208a" stroke-width="0.8" stroke-linecap="butt"/>
<circle cx="388.20" cy="423.50" r="1.2" fill="#c8208a"/>
<text x="394.00" y="425.30" fill="#2b2b2b" stroke="#2b2b2b" stroke-width="0.08" style="font-size:5.28px;" textLength="28.60" lengthAdjust="spacingAndGlyphs">CD4<tspan dy="-2.0" style="font-size:3.8px">+</tspan><tspan dy="2.0">​</tspan> T cells</text>
<text x="6.80" y="451.40" text-anchor="start" fill="#000" stroke="#000" stroke-width="0.45" style="font-size:10.50px;font-weight:bold;">I</text>
<text x="70.00" y="459.90" text-anchor="middle" fill="#2b2b2b" stroke="#2b2b2b" stroke-width="0.08" style="font-size:7.81px;" textLength="46.81" lengthAdjust="spacingAndGlyphs">Killing by CD8<tspan dy="-2.0" style="font-size:3.8px">+</tspan><tspan dy="2.0">​</tspan></text>
<text x="71.00" y="469.20" text-anchor="middle" fill="#2b2b2b" stroke="#2b2b2b" stroke-width="0.08" style="font-size:7.81px;" textLength="20.39" lengthAdjust="spacingAndGlyphs">T cells</text>
<text x="13.30" y="502.50" text-anchor="middle" fill="#333" stroke="#333" stroke-width="0.08" style="font-size:6.38px;" transform="rotate(-90 13.30 502.50)" textLength="42.97" lengthAdjust="spacingAndGlyphs">Tumor cell killing</text>
<text x="20.60" y="503.80" text-anchor="middle" fill="#333" stroke="#333" stroke-width="0.08" style="font-size:6.38px;" transform="rotate(-90 20.60 503.80)" textLength="65.78" lengthAdjust="spacingAndGlyphs">[fold change to untreated]</text>
<line x1="39.50" y1="526.50" x2="103.00" y2="526.50" stroke="#f0a8a8" stroke-width="0.7" stroke-linecap="butt"/>
<rect x="40.60" y="526.48" width="2.80" height="4.52" fill="#8ca9c6"/>
<rect x="45.20" y="526.48" width="2.80" height="4.52" fill="#9acca2"/>
<rect x="50.10" y="526.48" width="2.80" height="4.52" fill="#f6c488"/>
<rect x="55.10" y="526.48" width="2.80" height="4.52" fill="#e08c9e"/>
<rect x="62.40" y="519.70" width="2.80" height="11.30" fill="#8ca9c6"/>
<line x1="63.80" y1="519.70" x2="63.80" y2="516.08" stroke="#1d4f7c" stroke-width="0.6" stroke-linecap="butt"/>
<line x1="62.90" y1="516.08" x2="64.70" y2="516.08" stroke="#1d4f7c" stroke-width="0.6" stroke-linecap="butt"/>
<rect x="67.40" y="520.60" width="2.80" height="10.40" fill="#9acca2"/>
<line x1="68.80" y1="520.60" x2="68.80" y2="515.18" stroke="#35a04c" stroke-width="0.6" stroke-linecap="butt"/>
<line x1="67.90" y1="515.18" x2="69.70" y2="515.18" stroke="#35a04c" stroke-width="0.6" stroke-linecap="butt"/>
<rect x="72.10" y="521.06" width="2.80" height="9.94" fill="#f6c488"/>
<line x1="73.50" y1="521.06" x2="73.50" y2="517.89" stroke="#f29b30" stroke-width="0.6" stroke-linecap="butt"/>
<line x1="72.60" y1="517.89" x2="74.40" y2="517.89" stroke="#f29b30" stroke-width="0.6" stroke-linecap="butt"/>
<rect x="76.90" y="521.96" width="2.80" height="9.04" fill="#e08c9e"/>
<line x1="78.30" y1="521.96" x2="78.30" y2="517.89" stroke="#c2123c" stroke-width="0.6" stroke-linecap="butt"/>
<line x1="77.40" y1="517.89" x2="79.20" y2="517.89" stroke="#c2123c" stroke-width="0.6" stroke-linecap="butt"/>
<rect x="84.80" y="517.44" width="2.80" height="13.56" fill="#8ca9c6"/>
<line x1="86.20" y1="517.44" x2="86.20" y2="510.21" stroke="#1d4f7c" stroke-width="0.6" stroke-linecap="butt"/>
<line x1="85.30" y1="510.21" x2="87.10" y2="510.21" stroke="#1d4f7c" stroke-width="0.6" stroke-linecap="butt"/>
<rect x="89.40" y="516.54" width="2.80" height="14.46" fill="#9acca2"/>
<line x1="90.80" y1="516.54" x2="90.80" y2="507.04" stroke="#35a04c" stroke-width="0.6" stroke-linecap="butt"/>
<line x1="89.90" y1="507.04" x2="91.70" y2="507.04" stroke="#35a04c" stroke-width="0.6" stroke-linecap="butt"/>
<rect x="94.00" y="518.34" width="2.80" height="12.66" fill="#f6c488"/>
<line x1="95.40" y1="518.34" x2="95.40" y2="510.21" stroke="#f29b30" stroke-width="0.6" stroke-linecap="butt"/>
<line x1="94.50" y1="510.21" x2="96.30" y2="510.21" stroke="#f29b30" stroke-width="0.6" stroke-linecap="butt"/>
<rect x="98.90" y="518.34" width="2.80" height="12.66" fill="#e08c9e"/>
<line x1="100.30" y1="518.34" x2="100.30" y2="508.40" stroke="#c2123c" stroke-width="0.6" stroke-linecap="butt"/>
<line x1="99.40" y1="508.40" x2="101.20" y2="508.40" stroke="#c2123c" stroke-width="0.6" stroke-linecap="butt"/>
<circle cx="42.00" cy="526.48" r="1.2" fill="#1d4f7c"/>
<circle cx="46.60" cy="526.48" r="1.2" fill="#35a04c"/>
<circle cx="51.50" cy="526.48" r="1.2" fill="#f29b30"/>
<circle cx="56.50" cy="526.48" r="1.2" fill="#c2123c"/>
<circle cx="63.80" cy="512.92" r="1.2" fill="#1d4f7c"/>
<circle cx="63.80" cy="514.28" r="1.2" fill="#1d4f7c"/>
<circle cx="63.80" cy="515.63" r="1.2" fill="#1d4f7c"/>
<circle cx="63.80" cy="524.22" r="1.2" fill="#1d4f7c"/>
<circle cx="63.80" cy="525.58" r="1.2" fill="#1d4f7c"/>
<circle cx="63.80" cy="526.48" r="1.2" fill="#1d4f7c"/>
<circle cx="68.80" cy="501.62" r="1.2" fill="#35a04c"/>
<circle cx="68.80" cy="518.34" r="1.2" fill="#35a04c"/>
<circle cx="68.80" cy="519.70" r="1.2" fill="#35a04c"/>
<circle cx="68.80" cy="524.22" r="1.2" fill="#35a04c"/>
<circle cx="68.80" cy="525.58" r="1.2" fill="#35a04c"/>
<circle cx="73.50" cy="514.73" r="1.2" fill="#f29b30"/>
<circle cx="73.50" cy="518.80" r="1.2" fill="#f29b30"/>
<circle cx="73.50" cy="523.77" r="1.2" fill="#f29b30"/>
<circle cx="73.50" cy="525.58" r="1.2" fill="#f29b30"/>
<circle cx="78.30" cy="512.47" r="1.2" fill="#c2123c"/>
<circle cx="78.30" cy="519.70" r="1.2" fill="#c2123c"/>
<circle cx="78.30" cy="523.32" r="1.2" fill="#c2123c"/>
<circle cx="78.30" cy="524.22" r="1.2" fill="#c2123c"/>
<circle cx="78.30" cy="526.03" r="1.2" fill="#c2123c"/>
<circle cx="86.20" cy="493.94" r="1.2" fill="#1d4f7c"/>
<circle cx="86.20" cy="513.82" r="1.2" fill="#1d4f7c"/>
<circle cx="86.20" cy="514.73" r="1.2" fill="#1d4f7c"/>
<circle cx="86.20" cy="522.86" r="1.2" fill="#1d4f7c"/>
<circle cx="86.20" cy="524.22" r="1.2" fill="#1d4f7c"/>
<circle cx="86.20" cy="525.58" r="1.2" fill="#1d4f7c"/>
<circle cx="90.80" cy="484.44" r="1.2" fill="#35a04c"/>
<circle cx="90.80" cy="517.44" r="1.2" fill="#35a04c"/>
<circle cx="90.80" cy="523.32" r="1.2" fill="#35a04c"/>
<circle cx="90.80" cy="524.67" r="1.2" fill="#35a04c"/>
<circle cx="95.40" cy="492.58" r="1.2" fill="#f29b30"/>
<circle cx="95.40" cy="515.18" r="1.2" fill="#f29b30"/>
<circle cx="95.40" cy="524.22" r="1.2" fill="#f29b30"/>
<circle cx="95.40" cy="525.12" r="1.2" fill="#f29b30"/>
<circle cx="100.30" cy="488.96" r="1.2" fill="#c2123c"/>
<circle cx="100.30" cy="517.89" r="1.2" fill="#c2123c"/>
<circle cx="100.30" cy="519.70" r="1.2" fill="#c2123c"/>
<circle cx="100.30" cy="522.86" r="1.2" fill="#c2123c"/>
<circle cx="100.30" cy="524.67" r="1.2" fill="#c2123c"/>
<line x1="38.80" y1="485.50" x2="38.80" y2="531.60" stroke="#222" stroke-width="1.2" stroke-linecap="butt"/>
<line x1="38.20" y1="531.00" x2="103.00" y2="531.00" stroke="#222" stroke-width="1.25" stroke-linecap="butt"/>
<line x1="36.40" y1="531.00" x2="38.80" y2="531.00" stroke="#222" stroke-width="0.8" stroke-linecap="butt"/>
<text x="34.80" y="532.80" text-anchor="end" fill="#4a4a4a" stroke="#4a4a4a" stroke-width="0.08" style="font-size:5.50px;" textLength="2.78" lengthAdjust="spacingAndGlyphs">0</text>
<line x1="36.40" y1="508.40" x2="38.80" y2="508.40" stroke="#222" stroke-width="0.8" stroke-linecap="butt"/>
<text x="34.80" y="510.20" text-anchor="end" fill="#4a4a4a" stroke="#4a4a4a" stroke-width="0.08" style="font-size:5.50px;" textLength="2.78" lengthAdjust="spacingAndGlyphs">5</text>
<line x1="36.40" y1="485.80" x2="38.80" y2="485.80" stroke="#222" stroke-width="0.8" stroke-linecap="butt"/>
<text x="34.80" y="487.60" text-anchor="end" fill="#4a4a4a" stroke="#4a4a4a" stroke-width="0.08" style="font-size:5.50px;" textLength="5.56" lengthAdjust="spacingAndGlyphs">10</text>
<line x1="49.15" y1="531.00" x2="49.15" y2="533.20" stroke="#222" stroke-width="0.8" stroke-linecap="butt"/>
<line x1="71.10" y1="531.00" x2="71.10" y2="533.20" stroke="#222" stroke-width="0.8" stroke-linecap="butt"/>
<line x1="93.17" y1="531.00" x2="93.17" y2="533.20" stroke="#222" stroke-width="0.8" stroke-linecap="butt"/>
<line x1="38.80" y1="474.00" x2="38.80" y2="486.00" stroke="#222" stroke-width="1.2" stroke-linecap="butt"/>
<text x="36.60" y="542.20" fill="#333" stroke="#333" stroke-width="0.07" style="font-size:6.14px;" textLength="23.60" lengthAdjust="spacingAndGlyphs">untreated</text>
<text x="64.80" y="542.20" fill="#333" stroke="#333" stroke-width="0.07" style="font-size:5.99px;" textLength="12.10" lengthAdjust="spacingAndGlyphs">1 pM</text>
<text x="86.50" y="542.20" fill="#333" stroke="#333" stroke-width="0.07" style="font-size:5.74px;" textLength="11.60" lengthAdjust="spacingAndGlyphs">1 nM</text>
<text x="116.00" y="451.40" text-anchor="start" fill="#000" stroke="#000" stroke-width="0.45" style="font-size:10.50px;font-weight:bold;">J</text>
<text x="174.10" y="468.90" text-anchor="middle" fill="#2b2b2b" stroke="#2b2b2b" stroke-width="0.08" style="font-size:7.81px;" textLength="18.15" lengthAdjust="spacingAndGlyphs">CD25</text>
<text x="272.00" y="468.90" text-anchor="middle" fill="#2b2b2b" stroke="#2b2b2b" stroke-width="0.08" style="font-size:7.81px;" textLength="17.37" lengthAdjust="spacingAndGlyphs">41BB</text>
<text x="121.00" y="502.50" text-anchor="middle" fill="#333" stroke="#333" stroke-width="0.08" style="font-size:6.38px;" transform="rotate(-90 121.00 502.50)" textLength="46.70" lengthAdjust="spacingAndGlyphs">CD25<tspan dy="-2.0" style="font-size:3.8px">+</tspan><tspan dy="2.0">​</tspan> [% of CD8]</text>
<text x="221.90" y="502.10" text-anchor="middle" fill="#333" stroke="#333" stroke-width="0.08" style="font-size:6.38px;" transform="rotate(-90 221.90 502.10)" textLength="48.28" lengthAdjust="spacingAndGlyphs">41BB<tspan dy="-2.0" style="font-size:3.8px">+</tspan><tspan dy="2.0">​</tspan> [% of CD8<tspan dy="-2.0" style="font-size:3.8px">+</tspan><tspan dy="2.0">​</tspan>]</text>
<rect x="143.40" y="530.10" width="2.80" height="1.10" fill="#8ca9c6"/>
<line x1="144.80" y1="530.10" x2="144.80" y2="529.56" stroke="#1d4f7c" stroke-width="0.6" stroke-linecap="butt"/>
<line x1="143.90" y1="529.56" x2="145.70" y2="529.56" stroke="#1d4f7c" stroke-width="0.6" stroke-linecap="butt"/>
<rect x="148.30" y="530.38" width="2.80" height="0.82" fill="#9acca2"/>
<line x1="149.70" y1="530.38" x2="149.70" y2="529.83" stroke="#35a04c" stroke-width="0.6" stroke-linecap="butt"/>
<line x1="148.80" y1="529.83" x2="150.60" y2="529.83" stroke="#35a04c" stroke-width="0.6" stroke-linecap="butt"/>
<rect x="152.90" y="526.82" width="2.80" height="4.38" fill="#f6c488"/>
<line x1="154.30" y1="526.82" x2="154.30" y2="525.17" stroke="#f29b30" stroke-width="0.6" stroke-linecap="butt"/>
<line x1="153.40" y1="525.17" x2="155.20" y2="525.17" stroke="#f29b30" stroke-width="0.6" stroke-linecap="butt"/>
<rect x="157.50" y="529.56" width="2.80" height="1.64" fill="#e08c9e"/>
<line x1="158.90" y1="529.56" x2="158.90" y2="529.01" stroke="#c2123c" stroke-width="0.6" stroke-linecap="butt"/>
<line x1="158.00" y1="529.01" x2="159.80" y2="529.01" stroke="#c2123c" stroke-width="0.6" stroke-linecap="butt"/>
<rect x="165.50" y="503.80" width="2.80" height="27.40" fill="#8ca9c6"/>
<line x1="166.90" y1="503.80" x2="166.90" y2="500.51" stroke="#1d4f7c" stroke-width="0.6" stroke-linecap="butt"/>
<line x1="166.00" y1="500.51" x2="167.80" y2="500.51" stroke="#1d4f7c" stroke-width="0.6" stroke-linecap="butt"/>
<rect x="170.20" y="506.54" width="2.80" height="24.66" fill="#9acca2"/>
<line x1="171.60" y1="506.54" x2="171.60" y2="501.61" stroke="#35a04c" stroke-width="0.6" stroke-linecap="butt"/>
<line x1="170.70" y1="501.61" x2="172.50" y2="501.61" stroke="#35a04c" stroke-width="0.6" stroke-linecap="butt"/>
<rect x="175.00" y="499.42" width="2.80" height="31.78" fill="#f6c488"/>
<line x1="176.40" y1="499.42" x2="176.40" y2="497.22" stroke="#f29b30" stroke-width="0.6" stroke-linecap="butt"/>
<line x1="175.50" y1="497.22" x2="177.30" y2="497.22" stroke="#f29b30" stroke-width="0.6" stroke-linecap="butt"/>
<rect x="179.60" y="501.06" width="2.80" height="30.14" fill="#e08c9e"/>
<line x1="181.00" y1="501.06" x2="181.00" y2="498.32" stroke="#c2123c" stroke-width="0.6" stroke-linecap="butt"/>
<line x1="180.10" y1="498.32" x2="181.90" y2="498.32" stroke="#c2123c" stroke-width="0.6" stroke-linecap="butt"/>
<rect x="187.20" y="493.94" width="2.80" height="37.26" fill="#8ca9c6"/>
<line x1="188.60" y1="493.94" x2="188.60" y2="489.55" stroke="#1d4f7c" stroke-width="0.6" stroke-linecap="butt"/>
<line x1="187.70" y1="489.55" x2="189.50" y2="489.55" stroke="#1d4f7c" stroke-width="0.6" stroke-linecap="butt"/>
<rect x="192.10" y="495.58" width="2.80" height="35.62" fill="#9acca2"/>
<line x1="193.50" y1="495.58" x2="193.50" y2="490.10" stroke="#35a04c" stroke-width="0.6" stroke-linecap="butt"/>
<line x1="192.60" y1="490.10" x2="194.40" y2="490.10" stroke="#35a04c" stroke-width="0.6" stroke-linecap="butt"/>
<rect x="196.70" y="492.84" width="2.80" height="38.36" fill="#f6c488"/>
<line x1="198.10" y1="492.84" x2="198.10" y2="490.10" stroke="#f29b30" stroke-width="0.6" stroke-linecap="butt"/>
<line x1="197.20" y1="490.10" x2="199.00" y2="490.10" stroke="#f29b30" stroke-width="0.6" stroke-linecap="butt"/>
<rect x="201.40" y="495.58" width="2.80" height="35.62" fill="#e08c9e"/>
<line x1="202.80" y1="495.58" x2="202.80" y2="492.29" stroke="#c2123c" stroke-width="0.6" stroke-linecap="butt"/>
<line x1="201.90" y1="492.29" x2="203.70" y2="492.29" stroke="#c2123c" stroke-width="0.6" stroke-linecap="butt"/>
<circle cx="144.80" cy="529.56" r="1.2" fill="#1d4f7c"/>
<circle cx="144.80" cy="530.10" r="1.2" fill="#1d4f7c"/>
<circle cx="144.80" cy="530.65" r="1.2" fill="#1d4f7c"/>
<circle cx="149.70" cy="530.10" r="1.2" fill="#35a04c"/>
<circle cx="149.70" cy="530.65" r="1.2" fill="#35a04c"/>
<circle cx="149.70" cy="531.20" r="1.2" fill="#35a04c"/>
<circle cx="154.30" cy="524.62" r="1.2" fill="#f29b30"/>
<circle cx="154.30" cy="525.72" r="1.2" fill="#f29b30"/>
<circle cx="154.30" cy="526.82" r="1.2" fill="#f29b30"/>
<circle cx="154.30" cy="527.91" r="1.2" fill="#f29b30"/>
<circle cx="158.90" cy="528.46" r="1.2" fill="#c2123c"/>
<circle cx="158.90" cy="529.56" r="1.2" fill="#c2123c"/>
<circle cx="158.90" cy="530.10" r="1.2" fill="#c2123c"/>
<circle cx="166.90" cy="497.22" r="1.2" fill="#1d4f7c"/>
<circle cx="166.90" cy="498.87" r="1.2" fill="#1d4f7c"/>
<circle cx="166.90" cy="505.99" r="1.2" fill="#1d4f7c"/>
<circle cx="166.90" cy="510.38" r="1.2" fill="#1d4f7c"/>
<circle cx="166.90" cy="511.47" r="1.2" fill="#1d4f7c"/>
<circle cx="171.60" cy="492.84" r="1.2" fill="#35a04c"/>
<circle cx="171.60" cy="493.94" r="1.2" fill="#35a04c"/>
<circle cx="171.60" cy="510.38" r="1.2" fill="#35a04c"/>
<circle cx="171.60" cy="512.02" r="1.2" fill="#35a04c"/>
<circle cx="171.60" cy="517.50" r="1.2" fill="#35a04c"/>
<circle cx="176.40" cy="496.13" r="1.2" fill="#f29b30"/>
<circle cx="176.40" cy="498.32" r="1.2" fill="#f29b30"/>
<circle cx="176.40" cy="499.96" r="1.2" fill="#f29b30"/>
<circle cx="176.40" cy="501.61" r="1.2" fill="#f29b30"/>
<circle cx="176.40" cy="503.80" r="1.2" fill="#f29b30"/>
<circle cx="181.00" cy="496.13" r="1.2" fill="#c2123c"/>
<circle cx="181.00" cy="499.42" r="1.2" fill="#c2123c"/>
<circle cx="181.00" cy="503.80" r="1.2" fill="#c2123c"/>
<circle cx="181.00" cy="504.90" r="1.2" fill="#c2123c"/>
<circle cx="181.00" cy="511.47" r="1.2" fill="#c2123c"/>
<circle cx="188.60" cy="482.98" r="1.2" fill="#1d4f7c"/>
<circle cx="188.60" cy="491.20" r="1.2" fill="#1d4f7c"/>
<circle cx="188.60" cy="494.48" r="1.2" fill="#1d4f7c"/>
<circle cx="188.60" cy="505.99" r="1.2" fill="#1d4f7c"/>
<circle cx="193.50" cy="484.07" r="1.2" fill="#35a04c"/>
<circle cx="193.50" cy="486.81" r="1.2" fill="#35a04c"/>
<circle cx="193.50" cy="496.13" r="1.2" fill="#35a04c"/>
<circle cx="193.50" cy="503.80" r="1.2" fill="#35a04c"/>
<circle cx="193.50" cy="516.40" r="1.2" fill="#35a04c"/>
<circle cx="198.10" cy="486.26" r="1.2" fill="#f29b30"/>
<circle cx="198.10" cy="489.55" r="1.2" fill="#f29b30"/>
<circle cx="198.10" cy="492.84" r="1.2" fill="#f29b30"/>
<circle cx="198.10" cy="497.22" r="1.2" fill="#f29b30"/>
<circle cx="198.10" cy="501.06" r="1.2" fill="#f29b30"/>
<circle cx="202.80" cy="489.00" r="1.2" fill="#c2123c"/>
<circle cx="202.80" cy="491.74" r="1.2" fill="#c2123c"/>
<circle cx="202.80" cy="495.58" r="1.2" fill="#c2123c"/>
<circle cx="202.80" cy="497.22" r="1.2" fill="#c2123c"/>
<circle cx="202.80" cy="510.38" r="1.2" fill="#c2123c"/>
<line x1="140.70" y1="476.10" x2="140.70" y2="531.80" stroke="#222" stroke-width="1.2" stroke-linecap="butt"/>
<line x1="140.10" y1="531.20" x2="205.50" y2="531.20" stroke="#222" stroke-width="1.25" stroke-linecap="butt"/>
<line x1="138.30" y1="531.20" x2="140.70" y2="531.20" stroke="#222" stroke-width="0.8" stroke-linecap="butt"/>
<text x="136.40" y="533.00" text-anchor="end" fill="#4a4a4a" stroke="#4a4a4a" stroke-width="0.08" style="font-size:5.50px;" textLength="2.78" lengthAdjust="spacingAndGlyphs">0</text>
<line x1="138.30" y1="520.24" x2="140.70" y2="520.24" stroke="#222" stroke-width="0.8" stroke-linecap="butt"/>
<text x="136.40" y="522.04" text-anchor="end" fill="#4a4a4a" stroke="#4a4a4a" stroke-width="0.08" style="font-size:5.50px;" textLength="5.56" lengthAdjust="spacingAndGlyphs">20</text>
<line x1="138.30" y1="509.28" x2="140.70" y2="509.28" stroke="#222" stroke-width="0.8" stroke-linecap="butt"/>
<text x="136.40" y="511.08" text-anchor="end" fill="#4a4a4a" stroke="#4a4a4a" stroke-width="0.08" style="font-size:5.50px;" textLength="5.56" lengthAdjust="spacingAndGlyphs">40</text>
<line x1="138.30" y1="498.32" x2="140.70" y2="498.32" stroke="#222" stroke-width="0.8" stroke-linecap="butt"/>
<text x="136.40" y="500.12" text-anchor="end" fill="#4a4a4a" stroke="#4a4a4a" stroke-width="0.08" style="font-size:5.50px;" textLength="5.56" lengthAdjust="spacingAndGlyphs">60</text>
<line x1="138.30" y1="487.36" x2="140.70" y2="487.36" stroke="#222" stroke-width="0.8" stroke-linecap="butt"/>
<text x="136.40" y="489.16" text-anchor="end" fill="#4a4a4a" stroke="#4a4a4a" stroke-width="0.08" style="font-size:5.50px;" textLength="5.56" lengthAdjust="spacingAndGlyphs">80</text>
<line x1="138.30" y1="476.40" x2="140.70" y2="476.40" stroke="#222" stroke-width="0.8" stroke-linecap="butt"/>
<text x="136.40" y="478.20" text-anchor="end" fill="#4a4a4a" stroke="#4a4a4a" stroke-width="0.08" style="font-size:5.50px;" textLength="8.34" lengthAdjust="spacingAndGlyphs">100</text>
<line x1="151.93" y1="531.20" x2="151.93" y2="533.40" stroke="#222" stroke-width="0.8" stroke-linecap="butt"/>
<line x1="173.97" y1="531.20" x2="173.97" y2="533.40" stroke="#222" stroke-width="0.8" stroke-linecap="butt"/>
<line x1="195.75" y1="531.20" x2="195.75" y2="533.40" stroke="#222" stroke-width="0.8" stroke-linecap="butt"/>
<rect x="243.00" y="530.10" width="2.80" height="1.10" fill="#8ca9c6"/>
<line x1="244.40" y1="530.10" x2="244.40" y2="529.56" stroke="#1d4f7c" stroke-width="0.6" stroke-linecap="butt"/>
<line x1="243.50" y1="529.56" x2="245.30" y2="529.56" stroke="#1d4f7c" stroke-width="0.6" stroke-linecap="butt"/>
<rect x="247.60" y="530.65" width="2.80" height="0.55" fill="#9acca2"/>
<line x1="249.00" y1="530.65" x2="249.00" y2="530.10" stroke="#35a04c" stroke-width="0.6" stroke-linecap="butt"/>
<line x1="248.10" y1="530.10" x2="249.90" y2="530.10" stroke="#35a04c" stroke-width="0.6" stroke-linecap="butt"/>
<rect x="252.30" y="521.34" width="2.80" height="9.86" fill="#f6c488"/>
<line x1="253.70" y1="521.34" x2="253.70" y2="519.69" stroke="#f29b30" stroke-width="0.6" stroke-linecap="butt"/>
<line x1="252.80" y1="519.69" x2="254.60" y2="519.69" stroke="#f29b30" stroke-width="0.6" stroke-linecap="butt"/>
<rect x="256.90" y="526.82" width="2.80" height="4.38" fill="#e08c9e"/>
<line x1="258.30" y1="526.82" x2="258.30" y2="525.72" stroke="#c2123c" stroke-width="0.6" stroke-linecap="butt"/>
<line x1="257.40" y1="525.72" x2="259.20" y2="525.72" stroke="#c2123c" stroke-width="0.6" stroke-linecap="butt"/>
<rect x="264.40" y="495.58" width="2.80" height="35.62" fill="#8ca9c6"/>
<line x1="265.80" y1="495.58" x2="265.80" y2="493.39" stroke="#1d4f7c" stroke-width="0.6" stroke-linecap="butt"/>
<line x1="264.90" y1="493.39" x2="266.70" y2="493.39" stroke="#1d4f7c" stroke-width="0.6" stroke-linecap="butt"/>
<rect x="269.00" y="497.22" width="2.80" height="33.98" fill="#9acca2"/>
<line x1="270.40" y1="497.22" x2="270.40" y2="492.84" stroke="#35a04c" stroke-width="0.6" stroke-linecap="butt"/>
<line x1="269.50" y1="492.84" x2="271.30" y2="492.84" stroke="#35a04c" stroke-width="0.6" stroke-linecap="butt"/>
<rect x="273.90" y="493.94" width="2.80" height="37.26" fill="#f6c488"/>
<line x1="275.30" y1="493.94" x2="275.30" y2="492.29" stroke="#f29b30" stroke-width="0.6" stroke-linecap="butt"/>
<line x1="274.40" y1="492.29" x2="276.20" y2="492.29" stroke="#f29b30" stroke-width="0.6" stroke-linecap="butt"/>
<rect x="278.50" y="495.58" width="2.80" height="35.62" fill="#e08c9e"/>
<line x1="279.90" y1="495.58" x2="279.90" y2="493.94" stroke="#c2123c" stroke-width="0.6" stroke-linecap="butt"/>
<line x1="279.00" y1="493.94" x2="280.80" y2="493.94" stroke="#c2123c" stroke-width="0.6" stroke-linecap="butt"/>
<rect x="286.20" y="490.10" width="2.80" height="41.10" fill="#8ca9c6"/>
<line x1="287.60" y1="490.10" x2="287.60" y2="487.36" stroke="#1d4f7c" stroke-width="0.6" stroke-linecap="butt"/>
<line x1="286.70" y1="487.36" x2="288.50" y2="487.36" stroke="#1d4f7c" stroke-width="0.6" stroke-linecap="butt"/>
<rect x="290.80" y="491.74" width="2.80" height="39.46" fill="#9acca2"/>
<line x1="292.20" y1="491.74" x2="292.20" y2="487.36" stroke="#35a04c" stroke-width="0.6" stroke-linecap="butt"/>
<line x1="291.30" y1="487.36" x2="293.10" y2="487.36" stroke="#35a04c" stroke-width="0.6" stroke-linecap="butt"/>
<rect x="295.50" y="487.36" width="2.80" height="43.84" fill="#f6c488"/>
<line x1="296.90" y1="487.36" x2="296.90" y2="485.72" stroke="#f29b30" stroke-width="0.6" stroke-linecap="butt"/>
<line x1="296.00" y1="485.72" x2="297.80" y2="485.72" stroke="#f29b30" stroke-width="0.6" stroke-linecap="butt"/>
<rect x="300.10" y="490.10" width="2.80" height="41.10" fill="#e08c9e"/>
<line x1="301.50" y1="490.10" x2="301.50" y2="488.46" stroke="#c2123c" stroke-width="0.6" stroke-linecap="butt"/>
<line x1="300.60" y1="488.46" x2="302.40" y2="488.46" stroke="#c2123c" stroke-width="0.6" stroke-linecap="butt"/>
<circle cx="244.40" cy="530.10" r="1.2" fill="#1d4f7c"/>
<circle cx="244.40" cy="530.65" r="1.2" fill="#1d4f7c"/>
<circle cx="249.00" cy="530.65" r="1.2" fill="#35a04c"/>
<circle cx="249.00" cy="531.20" r="1.2" fill="#35a04c"/>
<circle cx="253.70" cy="519.69" r="1.2" fill="#f29b30"/>
<circle cx="253.70" cy="521.34" r="1.2" fill="#f29b30"/>
<circle cx="253.70" cy="523.53" r="1.2" fill="#f29b30"/>
<circle cx="253.70" cy="525.72" r="1.2" fill="#f29b30"/>
<circle cx="258.30" cy="525.72" r="1.2" fill="#c2123c"/>
<circle cx="258.30" cy="526.82" r="1.2" fill="#c2123c"/>
<circle cx="258.30" cy="527.91" r="1.2" fill="#c2123c"/>
<circle cx="265.80" cy="492.84" r="1.2" fill="#1d4f7c"/>
<circle cx="265.80" cy="494.48" r="1.2" fill="#1d4f7c"/>
<circle cx="265.80" cy="497.22" r="1.2" fill="#1d4f7c"/>
<circle cx="265.80" cy="498.32" r="1.2" fill="#1d4f7c"/>
<circle cx="265.80" cy="499.96" r="1.2" fill="#1d4f7c"/>
<circle cx="270.40" cy="487.36" r="1.2" fill="#35a04c"/>
<circle cx="270.40" cy="492.84" r="1.2" fill="#35a04c"/>
<circle cx="270.40" cy="498.32" r="1.2" fill="#35a04c"/>
<circle cx="270.40" cy="501.06" r="1.2" fill="#35a04c"/>
<circle cx="270.40" cy="506.54" r="1.2" fill="#35a04c"/>
<circle cx="275.30" cy="491.74" r="1.2" fill="#f29b30"/>
<circle cx="275.30" cy="492.84" r="1.2" fill="#f29b30"/>
<circle cx="275.30" cy="493.94" r="1.2" fill="#f29b30"/>
<circle cx="275.30" cy="495.03" r="1.2" fill="#f29b30"/>
<circle cx="275.30" cy="501.06" r="1.2" fill="#f29b30"/>
<circle cx="279.90" cy="491.74" r="1.2" fill="#c2123c"/>
<circle cx="279.90" cy="493.94" r="1.2" fill="#c2123c"/>
<circle cx="279.90" cy="495.58" r="1.2" fill="#c2123c"/>
<circle cx="279.90" cy="497.22" r="1.2" fill="#c2123c"/>
<circle cx="279.90" cy="499.42" r="1.2" fill="#c2123c"/>
<circle cx="287.60" cy="479.69" r="1.2" fill="#1d4f7c"/>
<circle cx="287.60" cy="489.00" r="1.2" fill="#1d4f7c"/>
<circle cx="287.60" cy="490.65" r="1.2" fill="#1d4f7c"/>
<circle cx="287.60" cy="493.94" r="1.2" fill="#1d4f7c"/>
<circle cx="287.60" cy="497.22" r="1.2" fill="#1d4f7c"/>
<circle cx="292.20" cy="482.98" r="1.2" fill="#35a04c"/>
<circle cx="292.20" cy="487.36" r="1.2" fill="#35a04c"/>
<circle cx="292.20" cy="492.84" r="1.2" fill="#35a04c"/>
<circle cx="292.20" cy="497.22" r="1.2" fill="#35a04c"/>
<circle cx="292.20" cy="505.99" r="1.2" fill="#35a04c"/>
<circle cx="296.90" cy="484.07" r="1.2" fill="#f29b30"/>
<circle cx="296.90" cy="485.17" r="1.2" fill="#f29b30"/>
<circle cx="296.90" cy="487.36" r="1.2" fill="#f29b30"/>
<circle cx="296.90" cy="489.00" r="1.2" fill="#f29b30"/>
<circle cx="296.90" cy="490.65" r="1.2" fill="#f29b30"/>
<circle cx="301.50" cy="484.62" r="1.2" fill="#c2123c"/>
<circle cx="301.50" cy="487.36" r="1.2" fill="#c2123c"/>
<circle cx="301.50" cy="490.10" r="1.2" fill="#c2123c"/>
<circle cx="301.50" cy="492.84" r="1.2" fill="#c2123c"/>
<circle cx="301.50" cy="495.58" r="1.2" fill="#c2123c"/>
<line x1="241.10" y1="476.10" x2="241.10" y2="531.80" stroke="#222" stroke-width="1.2" stroke-linecap="butt"/>
<line x1="240.50" y1="531.20" x2="304.00" y2="531.20" stroke="#222" stroke-width="1.25" stroke-linecap="butt"/>
<line x1="238.70" y1="531.20" x2="241.10" y2="531.20" stroke="#222" stroke-width="0.8" stroke-linecap="butt"/>
<text x="236.60" y="533.00" text-anchor="end" fill="#4a4a4a" stroke="#4a4a4a" stroke-width="0.08" style="font-size:5.50px;" textLength="2.78" lengthAdjust="spacingAndGlyphs">0</text>
<line x1="238.70" y1="520.24" x2="241.10" y2="520.24" stroke="#222" stroke-width="0.8" stroke-linecap="butt"/>
<text x="236.60" y="522.04" text-anchor="end" fill="#4a4a4a" stroke="#4a4a4a" stroke-width="0.08" style="font-size:5.50px;" textLength="5.56" lengthAdjust="spacingAndGlyphs">20</text>
<line x1="238.70" y1="509.28" x2="241.10" y2="509.28" stroke="#222" stroke-width="0.8" stroke-linecap="butt"/>
<text x="236.60" y="511.08" text-anchor="end" fill="#4a4a4a" stroke="#4a4a4a" stroke-width="0.08" style="font-size:5.50px;" textLength="5.56" lengthAdjust="spacingAndGlyphs">40</text>
<line x1="238.70" y1="498.32" x2="241.10" y2="498.32" stroke="#222" stroke-width="0.8" stroke-linecap="butt"/>
<text x="236.60" y="500.12" text-anchor="end" fill="#4a4a4a" stroke="#4a4a4a" stroke-width="0.08" style="font-size:5.50px;" textLength="5.56" lengthAdjust="spacingAndGlyphs">60</text>
<line x1="238.70" y1="487.36" x2="241.10" y2="487.36" stroke="#222" stroke-width="0.8" stroke-linecap="butt"/>
<text x="236.60" y="489.16" text-anchor="end" fill="#4a4a4a" stroke="#4a4a4a" stroke-width="0.08" style="font-size:5.50px;" textLength="5.56" lengthAdjust="spacingAndGlyphs">80</text>
<line x1="238.70" y1="476.40" x2="241.10" y2="476.40" stroke="#222" stroke-width="0.8" stroke-linecap="butt"/>
<text x="236.60" y="478.20" text-anchor="end" fill="#4a4a4a" stroke="#4a4a4a" stroke-width="0.08" style="font-size:5.50px;" textLength="8.34" lengthAdjust="spacingAndGlyphs">100</text>
<line x1="251.35" y1="531.20" x2="251.35" y2="533.40" stroke="#222" stroke-width="0.8" stroke-linecap="butt"/>
<line x1="272.85" y1="531.20" x2="272.85" y2="533.40" stroke="#222" stroke-width="0.8" stroke-linecap="butt"/>
<line x1="294.55" y1="531.20" x2="294.55" y2="533.40" stroke="#222" stroke-width="0.8" stroke-linecap="butt"/>
<text x="139.50" y="542.20" fill="#333" stroke="#333" stroke-width="0.07" style="font-size:6.22px;" textLength="23.90" lengthAdjust="spacingAndGlyphs">untreated</text>
<text x="168.00" y="542.20" fill="#333" stroke="#333" stroke-width="0.07" style="font-size:6.18px;" textLength="12.50" lengthAdjust="spacingAndGlyphs">1 pM</text>
<text x="189.80" y="542.20" fill="#333" stroke="#333" stroke-width="0.07" style="font-size:6.18px;" textLength="12.50" lengthAdjust="spacingAndGlyphs">1 nM</text>
<text x="239.80" y="542.20" fill="#333" stroke="#333" stroke-width="0.07" style="font-size:6.20px;" textLength="23.80" lengthAdjust="spacingAndGlyphs">untreated</text>
<text x="267.00" y="542.20" fill="#333" stroke="#333" stroke-width="0.07" style="font-size:6.14px;" textLength="12.40" lengthAdjust="spacingAndGlyphs">1 pM</text>
<text x="288.90" y="542.20" fill="#333" stroke="#333" stroke-width="0.07" style="font-size:6.14px;" textLength="12.40" lengthAdjust="spacingAndGlyphs">1 nM</text>
<text x="317.30" y="451.40" text-anchor="start" fill="#000" stroke="#000" stroke-width="0.45" style="font-size:10.50px;font-weight:bold;">K</text>
<text x="380.00" y="468.90" text-anchor="middle" fill="#2b2b2b" stroke="#2b2b2b" stroke-width="0.08" style="font-size:7.81px;" textLength="42.61" lengthAdjust="spacingAndGlyphs">IFN-γ release</text>
<text x="479.70" y="459.70" text-anchor="middle" fill="#2b2b2b" stroke="#2b2b2b" stroke-width="0.08" style="font-size:7.81px;" textLength="39.85" lengthAdjust="spacingAndGlyphs">Granzyme-B</text>
<text x="479.50" y="468.90" text-anchor="middle" fill="#2b2b2b" stroke="#2b2b2b" stroke-width="0.08" style="font-size:7.81px;" textLength="23.29" lengthAdjust="spacingAndGlyphs">release</text>
<text x="322.90" y="503.10" text-anchor="middle" fill="#333" stroke="#333" stroke-width="0.08" style="font-size:6.38px;" transform="rotate(-90 322.90 503.10)" textLength="19.34" lengthAdjust="spacingAndGlyphs">[pg/mL]</text>
<text x="425.60" y="502.10" text-anchor="middle" fill="#333" stroke="#333" stroke-width="0.08" style="font-size:6.38px;" transform="rotate(-90 425.60 502.10)" textLength="19.34" lengthAdjust="spacingAndGlyphs">[pg/mL]</text>
<rect x="350.40" y="530.93" width="2.80" height="0.27" fill="#8ca9c6"/>
<line x1="351.80" y1="530.93" x2="351.80" y2="530.79" stroke="#1d4f7c" stroke-width="0.6" stroke-linecap="butt"/>
<line x1="350.90" y1="530.79" x2="352.70" y2="530.79" stroke="#1d4f7c" stroke-width="0.6" stroke-linecap="butt"/>
<rect x="355.20" y="530.93" width="2.80" height="0.27" fill="#9acca2"/>
<line x1="356.60" y1="530.93" x2="356.60" y2="530.79" stroke="#35a04c" stroke-width="0.6" stroke-linecap="butt"/>
<line x1="355.70" y1="530.79" x2="357.50" y2="530.79" stroke="#35a04c" stroke-width="0.6" stroke-linecap="butt"/>
<rect x="359.40" y="530.93" width="2.80" height="0.27" fill="#f6c488"/>
<line x1="360.80" y1="530.93" x2="360.80" y2="530.79" stroke="#f29b30" stroke-width="0.6" stroke-linecap="butt"/>
<line x1="359.90" y1="530.79" x2="361.70" y2="530.79" stroke="#f29b30" stroke-width="0.6" stroke-linecap="butt"/>
<rect x="363.80" y="530.93" width="2.80" height="0.27" fill="#e08c9e"/>
<line x1="365.20" y1="530.93" x2="365.20" y2="530.79" stroke="#c2123c" stroke-width="0.6" stroke-linecap="butt"/>
<line x1="364.30" y1="530.79" x2="366.10" y2="530.79" stroke="#c2123c" stroke-width="0.6" stroke-linecap="butt"/>
<rect x="371.50" y="525.76" width="2.80" height="5.44" fill="#8ca9c6"/>
<line x1="372.90" y1="525.76" x2="372.90" y2="523.58" stroke="#1d4f7c" stroke-width="0.6" stroke-linecap="butt"/>
<line x1="372.00" y1="523.58" x2="373.80" y2="523.58" stroke="#1d4f7c" stroke-width="0.6" stroke-linecap="butt"/>
<rect x="376.10" y="526.30" width="2.80" height="4.90" fill="#9acca2"/>
<line x1="377.50" y1="526.30" x2="377.50" y2="524.40" stroke="#35a04c" stroke-width="0.6" stroke-linecap="butt"/>
<line x1="376.60" y1="524.40" x2="378.40" y2="524.40" stroke="#35a04c" stroke-width="0.6" stroke-linecap="butt"/>
<rect x="380.60" y="526.30" width="2.80" height="4.90" fill="#f6c488"/>
<line x1="382.00" y1="526.30" x2="382.00" y2="525.22" stroke="#f29b30" stroke-width="0.6" stroke-linecap="butt"/>
<line x1="381.10" y1="525.22" x2="382.90" y2="525.22" stroke="#f29b30" stroke-width="0.6" stroke-linecap="butt"/>
<rect x="385.10" y="527.66" width="2.80" height="3.54" fill="#e08c9e"/>
<line x1="386.50" y1="527.66" x2="386.50" y2="526.85" stroke="#c2123c" stroke-width="0.6" stroke-linecap="butt"/>
<line x1="385.60" y1="526.85" x2="387.40" y2="526.85" stroke="#c2123c" stroke-width="0.6" stroke-linecap="butt"/>
<rect x="392.40" y="514.06" width="2.80" height="17.14" fill="#8ca9c6"/>
<line x1="393.80" y1="514.06" x2="393.80" y2="509.17" stroke="#1d4f7c" stroke-width="0.6" stroke-linecap="butt"/>
<line x1="392.90" y1="509.17" x2="394.70" y2="509.17" stroke="#1d4f7c" stroke-width="0.6" stroke-linecap="butt"/>
<rect x="397.30" y="516.24" width="2.80" height="14.96" fill="#9acca2"/>
<line x1="398.70" y1="516.24" x2="398.70" y2="510.80" stroke="#35a04c" stroke-width="0.6" stroke-linecap="butt"/>
<line x1="397.80" y1="510.80" x2="399.60" y2="510.80" stroke="#35a04c" stroke-width="0.6" stroke-linecap="butt"/>
<rect x="401.90" y="518.96" width="2.80" height="12.24" fill="#f6c488"/>
<line x1="403.30" y1="518.96" x2="403.30" y2="517.33" stroke="#f29b30" stroke-width="0.6" stroke-linecap="butt"/>
<line x1="402.40" y1="517.33" x2="404.20" y2="517.33" stroke="#f29b30" stroke-width="0.6" stroke-linecap="butt"/>
<rect x="406.30" y="522.50" width="2.80" height="8.70" fill="#e08c9e"/>
<line x1="407.70" y1="522.50" x2="407.70" y2="521.14" stroke="#c2123c" stroke-width="0.6" stroke-linecap="butt"/>
<line x1="406.80" y1="521.14" x2="408.60" y2="521.14" stroke="#c2123c" stroke-width="0.6" stroke-linecap="butt"/>
<circle cx="351.80" cy="530.79" r="1.2" fill="#1d4f7c"/>
<circle cx="351.80" cy="530.93" r="1.2" fill="#1d4f7c"/>
<circle cx="356.60" cy="530.66" r="1.2" fill="#35a04c"/>
<circle cx="356.60" cy="530.93" r="1.2" fill="#35a04c"/>
<circle cx="356.60" cy="531.20" r="1.2" fill="#35a04c"/>
<circle cx="360.80" cy="530.93" r="1.2" fill="#f29b30"/>
<circle cx="365.20" cy="530.66" r="1.2" fill="#c2123c"/>
<circle cx="365.20" cy="530.93" r="1.2" fill="#c2123c"/>
<circle cx="372.90" cy="519.50" r="1.2" fill="#1d4f7c"/>
<circle cx="372.90" cy="520.59" r="1.2" fill="#1d4f7c"/>
<circle cx="372.90" cy="523.04" r="1.2" fill="#1d4f7c"/>
<circle cx="372.90" cy="527.12" r="1.2" fill="#1d4f7c"/>
<circle cx="372.90" cy="529.02" r="1.2" fill="#1d4f7c"/>
<circle cx="377.50" cy="519.50" r="1.2" fill="#35a04c"/>
<circle cx="377.50" cy="523.04" r="1.2" fill="#35a04c"/>
<circle cx="377.50" cy="525.76" r="1.2" fill="#35a04c"/>
<circle cx="377.50" cy="528.48" r="1.2" fill="#35a04c"/>
<circle cx="382.00" cy="524.40" r="1.2" fill="#f29b30"/>
<circle cx="382.00" cy="525.76" r="1.2" fill="#f29b30"/>
<circle cx="382.00" cy="527.12" r="1.2" fill="#f29b30"/>
<circle cx="382.00" cy="528.48" r="1.2" fill="#f29b30"/>
<circle cx="386.50" cy="526.30" r="1.2" fill="#c2123c"/>
<circle cx="386.50" cy="527.12" r="1.2" fill="#c2123c"/>
<circle cx="386.50" cy="528.48" r="1.2" fill="#c2123c"/>
<circle cx="386.50" cy="529.84" r="1.2" fill="#c2123c"/>
<circle cx="393.80" cy="490.40" r="1.2" fill="#1d4f7c"/>
<circle cx="393.80" cy="510.80" r="1.2" fill="#1d4f7c"/>
<circle cx="393.80" cy="513.52" r="1.2" fill="#1d4f7c"/>
<circle cx="393.80" cy="520.32" r="1.2" fill="#1d4f7c"/>
<circle cx="393.80" cy="528.48" r="1.2" fill="#1d4f7c"/>
<circle cx="393.80" cy="529.84" r="1.2" fill="#1d4f7c"/>
<circle cx="398.70" cy="506.72" r="1.2" fill="#35a04c"/>
<circle cx="398.70" cy="509.44" r="1.2" fill="#35a04c"/>
<circle cx="398.70" cy="518.96" r="1.2" fill="#35a04c"/>
<circle cx="398.70" cy="523.04" r="1.2" fill="#35a04c"/>
<circle cx="398.70" cy="528.48" r="1.2" fill="#35a04c"/>
<circle cx="403.30" cy="518.14" r="1.2" fill="#f29b30"/>
<circle cx="403.30" cy="520.32" r="1.2" fill="#f29b30"/>
<circle cx="403.30" cy="523.04" r="1.2" fill="#f29b30"/>
<circle cx="403.30" cy="525.76" r="1.2" fill="#f29b30"/>
<circle cx="407.70" cy="523.04" r="1.2" fill="#c2123c"/>
<circle cx="407.70" cy="524.40" r="1.2" fill="#c2123c"/>
<circle cx="407.70" cy="525.76" r="1.2" fill="#c2123c"/>
<circle cx="407.70" cy="528.48" r="1.2" fill="#c2123c"/>
<line x1="348.70" y1="476.50" x2="348.70" y2="531.80" stroke="#222" stroke-width="1.2" stroke-linecap="butt"/>
<line x1="348.10" y1="531.20" x2="411.00" y2="531.20" stroke="#222" stroke-width="1.25" stroke-linecap="butt"/>
<line x1="346.30" y1="531.20" x2="348.70" y2="531.20" stroke="#222" stroke-width="0.8" stroke-linecap="butt"/>
<text x="343.00" y="533.00" text-anchor="end" fill="#4a4a4a" stroke="#4a4a4a" stroke-width="0.08" style="font-size:5.50px;" textLength="2.78" lengthAdjust="spacingAndGlyphs">0</text>
<line x1="346.30" y1="517.60" x2="348.70" y2="517.60" stroke="#222" stroke-width="0.8" stroke-linecap="butt"/>
<text x="343.00" y="519.40" text-anchor="end" fill="#4a4a4a" stroke="#4a4a4a" stroke-width="0.08" style="font-size:5.50px;" textLength="11.12" lengthAdjust="spacingAndGlyphs">5000</text>
<line x1="346.30" y1="504.00" x2="348.70" y2="504.00" stroke="#222" stroke-width="0.8" stroke-linecap="butt"/>
<text x="343.00" y="505.80" text-anchor="end" fill="#4a4a4a" stroke="#4a4a4a" stroke-width="0.08" style="font-size:5.50px;" textLength="13.90" lengthAdjust="spacingAndGlyphs">10000</text>
<line x1="346.30" y1="490.40" x2="348.70" y2="490.40" stroke="#222" stroke-width="0.8" stroke-linecap="butt"/>
<text x="343.00" y="492.20" text-anchor="end" fill="#4a4a4a" stroke="#4a4a4a" stroke-width="0.08" style="font-size:5.50px;" textLength="13.90" lengthAdjust="spacingAndGlyphs">15000</text>
<line x1="346.30" y1="476.80" x2="348.70" y2="476.80" stroke="#222" stroke-width="0.8" stroke-linecap="butt"/>
<text x="343.00" y="478.60" text-anchor="end" fill="#4a4a4a" stroke="#4a4a4a" stroke-width="0.08" style="font-size:5.50px;" textLength="13.90" lengthAdjust="spacingAndGlyphs">20000</text>
<line x1="358.60" y1="531.20" x2="358.60" y2="533.40" stroke="#222" stroke-width="0.8" stroke-linecap="butt"/>
<line x1="379.73" y1="531.20" x2="379.73" y2="533.40" stroke="#222" stroke-width="0.8" stroke-linecap="butt"/>
<line x1="400.88" y1="531.20" x2="400.88" y2="533.40" stroke="#222" stroke-width="0.8" stroke-linecap="butt"/>
<rect x="450.60" y="530.29" width="2.80" height="0.91" fill="#8ca9c6"/>
<line x1="452.00" y1="530.29" x2="452.00" y2="529.93" stroke="#1d4f7c" stroke-width="0.6" stroke-linecap="butt"/>
<line x1="451.10" y1="529.93" x2="452.90" y2="529.93" stroke="#1d4f7c" stroke-width="0.6" stroke-linecap="butt"/>
<rect x="455.10" y="530.29" width="2.80" height="0.91" fill="#9acca2"/>
<line x1="456.50" y1="530.29" x2="456.50" y2="529.93" stroke="#35a04c" stroke-width="0.6" stroke-linecap="butt"/>
<line x1="455.60" y1="529.93" x2="457.40" y2="529.93" stroke="#35a04c" stroke-width="0.6" stroke-linecap="butt"/>
<rect x="459.60" y="530.29" width="2.80" height="0.91" fill="#f6c488"/>
<line x1="461.00" y1="530.29" x2="461.00" y2="529.93" stroke="#f29b30" stroke-width="0.6" stroke-linecap="butt"/>
<line x1="460.10" y1="529.93" x2="461.90" y2="529.93" stroke="#f29b30" stroke-width="0.6" stroke-linecap="butt"/>
<rect x="463.60" y="530.29" width="2.80" height="0.91" fill="#e08c9e"/>
<line x1="465.00" y1="530.29" x2="465.00" y2="529.93" stroke="#c2123c" stroke-width="0.6" stroke-linecap="butt"/>
<line x1="464.10" y1="529.93" x2="465.90" y2="529.93" stroke="#c2123c" stroke-width="0.6" stroke-linecap="butt"/>
<rect x="471.30" y="525.76" width="2.80" height="5.44" fill="#8ca9c6"/>
<line x1="472.70" y1="525.76" x2="472.70" y2="523.95" stroke="#1d4f7c" stroke-width="0.6" stroke-linecap="butt"/>
<line x1="471.80" y1="523.95" x2="473.60" y2="523.95" stroke="#1d4f7c" stroke-width="0.6" stroke-linecap="butt"/>
<rect x="475.90" y="526.67" width="2.80" height="4.53" fill="#9acca2"/>
<line x1="477.30" y1="526.67" x2="477.30" y2="524.85" stroke="#35a04c" stroke-width="0.6" stroke-linecap="butt"/>
<line x1="476.40" y1="524.85" x2="478.20" y2="524.85" stroke="#35a04c" stroke-width="0.6" stroke-linecap="butt"/>
<rect x="480.30" y="527.57" width="2.80" height="3.63" fill="#f6c488"/>
<line x1="481.70" y1="527.57" x2="481.70" y2="526.67" stroke="#f29b30" stroke-width="0.6" stroke-linecap="butt"/>
<line x1="480.80" y1="526.67" x2="482.60" y2="526.67" stroke="#f29b30" stroke-width="0.6" stroke-linecap="butt"/>
<rect x="484.90" y="527.57" width="2.80" height="3.63" fill="#e08c9e"/>
<line x1="486.30" y1="527.57" x2="486.30" y2="526.67" stroke="#c2123c" stroke-width="0.6" stroke-linecap="butt"/>
<line x1="485.40" y1="526.67" x2="487.20" y2="526.67" stroke="#c2123c" stroke-width="0.6" stroke-linecap="butt"/>
<rect x="492.20" y="519.41" width="2.80" height="11.79" fill="#8ca9c6"/>
<line x1="493.60" y1="519.41" x2="493.60" y2="511.80" stroke="#1d4f7c" stroke-width="0.6" stroke-linecap="butt"/>
<line x1="492.70" y1="511.80" x2="494.50" y2="511.80" stroke="#1d4f7c" stroke-width="0.6" stroke-linecap="butt"/>
<rect x="496.60" y="517.60" width="2.80" height="13.60" fill="#9acca2"/>
<line x1="498.00" y1="517.60" x2="498.00" y2="508.53" stroke="#35a04c" stroke-width="0.6" stroke-linecap="butt"/>
<line x1="497.10" y1="508.53" x2="498.90" y2="508.53" stroke="#35a04c" stroke-width="0.6" stroke-linecap="butt"/>
<rect x="501.20" y="521.23" width="2.80" height="9.97" fill="#f6c488"/>
<line x1="502.60" y1="521.23" x2="502.60" y2="516.69" stroke="#f29b30" stroke-width="0.6" stroke-linecap="butt"/>
<line x1="501.70" y1="516.69" x2="503.50" y2="516.69" stroke="#f29b30" stroke-width="0.6" stroke-linecap="butt"/>
<rect x="505.30" y="524.31" width="2.80" height="6.89" fill="#e08c9e"/>
<line x1="506.70" y1="524.31" x2="506.70" y2="520.68" stroke="#c2123c" stroke-width="0.6" stroke-linecap="butt"/>
<line x1="505.80" y1="520.68" x2="507.60" y2="520.68" stroke="#c2123c" stroke-width="0.6" stroke-linecap="butt"/>
<circle cx="452.00" cy="529.39" r="1.2" fill="#1d4f7c"/>
<circle cx="452.00" cy="530.29" r="1.2" fill="#1d4f7c"/>
<circle cx="456.50" cy="529.75" r="1.2" fill="#35a04c"/>
<circle cx="456.50" cy="530.47" r="1.2" fill="#35a04c"/>
<circle cx="461.00" cy="530.11" r="1.2" fill="#f29b30"/>
<circle cx="461.00" cy="531.20" r="1.2" fill="#f29b30"/>
<circle cx="465.00" cy="530.11" r="1.2" fill="#c2123c"/>
<circle cx="465.00" cy="530.66" r="1.2" fill="#c2123c"/>
<circle cx="472.70" cy="523.04" r="1.2" fill="#1d4f7c"/>
<circle cx="472.70" cy="524.31" r="1.2" fill="#1d4f7c"/>
<circle cx="472.70" cy="525.76" r="1.2" fill="#1d4f7c"/>
<circle cx="472.70" cy="528.48" r="1.2" fill="#1d4f7c"/>
<circle cx="477.30" cy="523.40" r="1.2" fill="#35a04c"/>
<circle cx="477.30" cy="524.85" r="1.2" fill="#35a04c"/>
<circle cx="477.30" cy="527.57" r="1.2" fill="#35a04c"/>
<circle cx="477.30" cy="529.39" r="1.2" fill="#35a04c"/>
<circle cx="481.70" cy="526.67" r="1.2" fill="#f29b30"/>
<circle cx="481.70" cy="527.57" r="1.2" fill="#f29b30"/>
<circle cx="481.70" cy="528.48" r="1.2" fill="#f29b30"/>
<circle cx="486.30" cy="526.67" r="1.2" fill="#c2123c"/>
<circle cx="486.30" cy="527.57" r="1.2" fill="#c2123c"/>
<circle cx="486.30" cy="529.39" r="1.2" fill="#c2123c"/>
<circle cx="493.60" cy="502.19" r="1.2" fill="#1d4f7c"/>
<circle cx="493.60" cy="512.16" r="1.2" fill="#1d4f7c"/>
<circle cx="493.60" cy="523.95" r="1.2" fill="#1d4f7c"/>
<circle cx="493.60" cy="525.76" r="1.2" fill="#1d4f7c"/>
<circle cx="498.00" cy="484.05" r="1.2" fill="#35a04c"/>
<circle cx="498.00" cy="511.25" r="1.2" fill="#35a04c"/>
<circle cx="498.00" cy="516.69" r="1.2" fill="#35a04c"/>
<circle cx="498.00" cy="520.32" r="1.2" fill="#35a04c"/>
<circle cx="498.00" cy="525.76" r="1.2" fill="#35a04c"/>
<circle cx="502.60" cy="510.35" r="1.2" fill="#f29b30"/>
<circle cx="502.60" cy="517.06" r="1.2" fill="#f29b30"/>
<circle cx="502.60" cy="522.13" r="1.2" fill="#f29b30"/>
<circle cx="502.60" cy="525.76" r="1.2" fill="#f29b30"/>
<circle cx="506.70" cy="513.61" r="1.2" fill="#c2123c"/>
<circle cx="506.70" cy="521.23" r="1.2" fill="#c2123c"/>
<circle cx="506.70" cy="525.76" r="1.2" fill="#c2123c"/>
<circle cx="506.70" cy="529.39" r="1.2" fill="#c2123c"/>
<line x1="449.10" y1="476.50" x2="449.10" y2="531.80" stroke="#222" stroke-width="1.2" stroke-linecap="butt"/>
<line x1="448.50" y1="531.20" x2="509.50" y2="531.20" stroke="#222" stroke-width="1.25" stroke-linecap="butt"/>
<line x1="446.70" y1="531.20" x2="449.10" y2="531.20" stroke="#222" stroke-width="0.8" stroke-linecap="butt"/>
<text x="443.00" y="533.00" text-anchor="end" fill="#4a4a4a" stroke="#4a4a4a" stroke-width="0.08" style="font-size:5.50px;" textLength="2.78" lengthAdjust="spacingAndGlyphs">0</text>
<line x1="446.70" y1="513.07" x2="449.10" y2="513.07" stroke="#222" stroke-width="0.8" stroke-linecap="butt"/>
<text x="443.00" y="514.87" text-anchor="end" fill="#4a4a4a" stroke="#4a4a4a" stroke-width="0.08" style="font-size:5.50px;" textLength="11.12" lengthAdjust="spacingAndGlyphs">1000</text>
<line x1="446.70" y1="494.93" x2="449.10" y2="494.93" stroke="#222" stroke-width="0.8" stroke-linecap="butt"/>
<text x="443.00" y="496.73" text-anchor="end" fill="#4a4a4a" stroke="#4a4a4a" stroke-width="0.08" style="font-size:5.50px;" textLength="11.12" lengthAdjust="spacingAndGlyphs">2000</text>
<line x1="446.70" y1="476.80" x2="449.10" y2="476.80" stroke="#222" stroke-width="0.8" stroke-linecap="butt"/>
<text x="443.00" y="478.60" text-anchor="end" fill="#4a4a4a" stroke="#4a4a4a" stroke-width="0.08" style="font-size:5.50px;" textLength="11.12" lengthAdjust="spacingAndGlyphs">3000</text>
<line x1="458.62" y1="531.20" x2="458.62" y2="533.40" stroke="#222" stroke-width="0.8" stroke-linecap="butt"/>
<line x1="479.50" y1="531.20" x2="479.50" y2="533.40" stroke="#222" stroke-width="0.8" stroke-linecap="butt"/>
<line x1="500.23" y1="531.20" x2="500.23" y2="533.40" stroke="#222" stroke-width="0.8" stroke-linecap="butt"/>
<text x="346.80" y="542.20" fill="#333" stroke="#333" stroke-width="0.07" style="font-size:6.20px;" textLength="23.80" lengthAdjust="spacingAndGlyphs">untreated</text>
<text x="374.00" y="542.20" fill="#333" stroke="#333" stroke-width="0.07" style="font-size:6.14px;" textLength="12.40" lengthAdjust="spacingAndGlyphs">1 pM</text>
<text x="395.80" y="542.20" fill="#333" stroke="#333" stroke-width="0.07" style="font-size:6.18px;" textLength="12.50" lengthAdjust="spacingAndGlyphs">1 nM</text>
<text x="447.20" y="542.20" fill="#333" stroke="#333" stroke-width="0.07" style="font-size:6.20px;" textLength="23.80" lengthAdjust="spacingAndGlyphs">untreated</text>
<text x="474.40" y="542.20" fill="#333" stroke="#333" stroke-width="0.07" style="font-size:6.14px;" textLength="12.40" lengthAdjust="spacingAndGlyphs">1 pM</text>
<text x="496.20" y="542.20" fill="#333" stroke="#333" stroke-width="0.07" style="font-size:6.18px;" textLength="12.50" lengthAdjust="spacingAndGlyphs">1 nM</text>
<circle cx="360.80" cy="550.00" r="1.45" fill="#1d4f7c"/>
<text x="365.00" y="551.80" fill="#333" stroke="#333" stroke-width="0.07" style="font-size:5.40px;" textLength="24.00" lengthAdjust="spacingAndGlyphs">C1D1 PRE</text>
<circle cx="397.80" cy="550.00" r="1.45" fill="#35a04c"/>
<text x="402.00" y="551.80" fill="#333" stroke="#333" stroke-width="0.07" style="font-size:5.40px;" textLength="24.00" lengthAdjust="spacingAndGlyphs">C2D1 PRE</text>
<circle cx="434.00" cy="550.00" r="1.45" fill="#f29b30"/>
<text x="438.00" y="551.80" fill="#333" stroke="#333" stroke-width="0.07" style="font-size:5.62px;" textLength="25.00" lengthAdjust="spacingAndGlyphs">C3D1 PRE</text>
<circle cx="470.80" cy="550.00" r="1.45" fill="#c2123c"/>
<text x="475.00" y="551.80" fill="#333" stroke="#333" stroke-width="0.07" style="font-size:5.62px;" textLength="25.00" lengthAdjust="spacingAndGlyphs">C4D1 PRE</text>
<rect x="0.5" y="0.5" width="519" height="559" fill="none" stroke="#5e5e5e" stroke-width="1"/>
</svg>
</body></html>
